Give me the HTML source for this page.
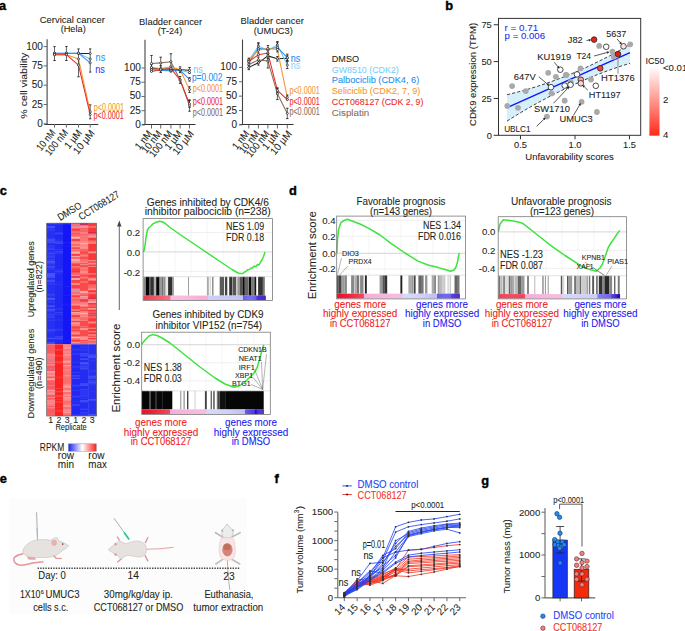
<!DOCTYPE html>
<html><head><meta charset="utf-8"><style>
html,body{margin:0;padding:0;background:#fff;overflow:hidden;}
svg{display:block;font-family:"Liberation Sans", sans-serif;}
</style></head><body>
<svg width="685" height="631" viewBox="0 0 685 631">
<text x="-1.00" y="9.60" font-size="12.8" fill="#000" font-weight="bold" stroke="#000" stroke-width="0.4">a</text>
<text x="72.25" y="22.60" font-size="9.8" fill="#231f20" stroke="#231f20" stroke-width="0.08" text-anchor="middle" textLength="65.1" lengthAdjust="spacingAndGlyphs" >Cervical cancer</text>
<text x="73.20" y="31.50" font-size="9.8" fill="#231f20" stroke="#231f20" stroke-width="0.08" text-anchor="middle" textLength="25.1" lengthAdjust="spacingAndGlyphs" >(Hela)</text>
<line x1="47.10" y1="39.30" x2="47.10" y2="124.00" stroke="#444" stroke-width="1.1" />
<line x1="44.40" y1="124.50" x2="98.30" y2="124.50" stroke="#333" stroke-width="1.0" />
<line x1="43.60" y1="123.80" x2="47.10" y2="123.80" stroke="#666" stroke-width="1.0" />
<text x="42.90" y="126.80" font-size="10" fill="#231f20" stroke="#231f20" stroke-width="0.08" text-anchor="end" >0</text>
<line x1="43.60" y1="104.50" x2="47.10" y2="104.50" stroke="#666" stroke-width="1.0" />
<text x="42.90" y="107.50" font-size="10" fill="#231f20" stroke="#231f20" stroke-width="0.08" text-anchor="end" >25</text>
<line x1="43.60" y1="85.20" x2="47.10" y2="85.20" stroke="#666" stroke-width="1.0" />
<text x="42.90" y="88.20" font-size="10" fill="#231f20" stroke="#231f20" stroke-width="0.08" text-anchor="end" >50</text>
<line x1="43.60" y1="65.90" x2="47.10" y2="65.90" stroke="#666" stroke-width="1.0" />
<text x="42.90" y="68.90" font-size="10" fill="#231f20" stroke="#231f20" stroke-width="0.08" text-anchor="end" >75</text>
<line x1="43.60" y1="46.60" x2="47.10" y2="46.60" stroke="#666" stroke-width="1.0" />
<text x="42.90" y="49.60" font-size="10" fill="#231f20" stroke="#231f20" stroke-width="0.08" text-anchor="end" >100</text>
<line x1="54.50" y1="124.00" x2="54.50" y2="127.60" stroke="#666" stroke-width="1.0" />
<text x="56.10" y="133.00" font-size="10.2" fill="#231f20" stroke="#231f20" stroke-width="0.08" text-anchor="end" transform="rotate(-51 56.10 133.00)" textLength="23.8" lengthAdjust="spacingAndGlyphs" >10 nM</text>
<line x1="66.40" y1="124.00" x2="66.40" y2="127.60" stroke="#666" stroke-width="1.0" />
<text x="68.60" y="133.00" font-size="10.2" fill="#231f20" stroke="#231f20" stroke-width="0.08" text-anchor="end" transform="rotate(-51 68.60 133.00)" textLength="30.0" lengthAdjust="spacingAndGlyphs" >100 nM</text>
<line x1="78.50" y1="124.00" x2="78.50" y2="127.60" stroke="#666" stroke-width="1.0" />
<text x="82.40" y="133.00" font-size="10.2" fill="#231f20" stroke="#231f20" stroke-width="0.08" text-anchor="end" transform="rotate(-51 82.40 133.00)" textLength="21.2" lengthAdjust="spacingAndGlyphs" >1 µM</text>
<line x1="90.20" y1="124.00" x2="90.20" y2="127.60" stroke="#666" stroke-width="1.0" />
<text x="95.30" y="133.30" font-size="10.2" fill="#231f20" stroke="#231f20" stroke-width="0.08" text-anchor="end" transform="rotate(-51 95.30 133.30)" textLength="27.8" lengthAdjust="spacingAndGlyphs" >10 µM</text>
<path d="M54.50,53.55 L66.40,53.55 L78.50,53.55 L90.20,53.55" fill="none" stroke="#231f20" stroke-width="1.05" />
<path d="M54.50,53.16 L66.40,53.16 L78.50,53.16 L90.20,58.95" fill="none" stroke="#6ec8f5" stroke-width="1.05" />
<path d="M54.50,53.16 L66.40,53.16 L78.50,53.16 L90.20,62.81" fill="none" stroke="#2a8ef0" stroke-width="1.05" />
<path d="M54.50,54.71 L66.40,54.71 L78.50,58.95 L90.20,111.83" fill="none" stroke="#f7962c" stroke-width="1.05" />
<path d="M54.50,54.71 L66.40,54.71 L78.50,65.13 L90.20,114.54" fill="none" stroke="#ee2a27" stroke-width="1.05" />
<line x1="54.50" y1="46.60" x2="54.50" y2="60.50" stroke="#222" stroke-width="0.7" />
<line x1="53.30" y1="46.60" x2="55.70" y2="46.60" stroke="#222" stroke-width="0.9" />
<line x1="53.30" y1="60.50" x2="55.70" y2="60.50" stroke="#222" stroke-width="0.9" />
<line x1="66.40" y1="46.60" x2="66.40" y2="60.50" stroke="#222" stroke-width="0.7" />
<line x1="65.20" y1="46.60" x2="67.60" y2="46.60" stroke="#222" stroke-width="0.9" />
<line x1="65.20" y1="60.50" x2="67.60" y2="60.50" stroke="#222" stroke-width="0.9" />
<line x1="78.50" y1="48.92" x2="78.50" y2="76.71" stroke="#222" stroke-width="0.7" />
<line x1="77.30" y1="48.92" x2="79.70" y2="48.92" stroke="#222" stroke-width="0.9" />
<line x1="77.30" y1="76.71" x2="79.70" y2="76.71" stroke="#222" stroke-width="0.9" />
<line x1="90.20" y1="48.92" x2="90.20" y2="72.08" stroke="#222" stroke-width="0.7" />
<line x1="89.00" y1="48.92" x2="91.40" y2="48.92" stroke="#222" stroke-width="0.9" />
<line x1="89.00" y1="72.08" x2="91.40" y2="72.08" stroke="#222" stroke-width="0.9" />
<line x1="90.20" y1="104.89" x2="90.20" y2="118.78" stroke="#222" stroke-width="0.7" />
<line x1="89.00" y1="104.89" x2="91.40" y2="104.89" stroke="#222" stroke-width="0.9" />
<line x1="89.00" y1="118.78" x2="91.40" y2="118.78" stroke="#222" stroke-width="0.9" />
<circle cx="54.50" cy="53.55" r="1.05" fill="#fff" stroke="#222" stroke-width="0.75"/>
<circle cx="66.40" cy="53.55" r="1.05" fill="#fff" stroke="#222" stroke-width="0.75"/>
<circle cx="78.50" cy="53.55" r="1.05" fill="#fff" stroke="#222" stroke-width="0.75"/>
<circle cx="90.20" cy="53.55" r="1.05" fill="#fff" stroke="#222" stroke-width="0.75"/>
<circle cx="54.50" cy="53.16" r="1.05" fill="#fff" stroke="#222" stroke-width="0.75"/>
<circle cx="66.40" cy="53.16" r="1.05" fill="#fff" stroke="#222" stroke-width="0.75"/>
<circle cx="78.50" cy="53.16" r="1.05" fill="#fff" stroke="#222" stroke-width="0.75"/>
<circle cx="90.20" cy="58.95" r="1.05" fill="#fff" stroke="#222" stroke-width="0.75"/>
<circle cx="54.50" cy="53.16" r="1.05" fill="#fff" stroke="#222" stroke-width="0.75"/>
<circle cx="66.40" cy="53.16" r="1.05" fill="#fff" stroke="#222" stroke-width="0.75"/>
<circle cx="78.50" cy="53.16" r="1.05" fill="#fff" stroke="#222" stroke-width="0.75"/>
<circle cx="90.20" cy="62.81" r="1.05" fill="#fff" stroke="#222" stroke-width="0.75"/>
<circle cx="54.50" cy="54.71" r="1.05" fill="#fff" stroke="#222" stroke-width="0.75"/>
<circle cx="66.40" cy="54.71" r="1.05" fill="#fff" stroke="#222" stroke-width="0.75"/>
<circle cx="78.50" cy="58.95" r="1.05" fill="#fff" stroke="#222" stroke-width="0.75"/>
<circle cx="90.20" cy="111.83" r="1.05" fill="#fff" stroke="#222" stroke-width="0.75"/>
<circle cx="54.50" cy="54.71" r="1.05" fill="#fff" stroke="#222" stroke-width="0.75"/>
<circle cx="66.40" cy="54.71" r="1.05" fill="#fff" stroke="#222" stroke-width="0.75"/>
<circle cx="78.50" cy="65.13" r="1.05" fill="#fff" stroke="#222" stroke-width="0.75"/>
<circle cx="90.20" cy="114.54" r="1.05" fill="#fff" stroke="#222" stroke-width="0.75"/>
<text x="95.60" y="60.60" font-size="10" fill="#1e96f5" stroke="#1e96f5" stroke-width="0.08" textLength="9.6" lengthAdjust="spacingAndGlyphs" >ns</text>
<text x="95.20" y="72.50" font-size="10" fill="#2b45ee" stroke="#2b45ee" stroke-width="0.08" textLength="9.6" lengthAdjust="spacingAndGlyphs" >ns</text>
<text x="93.80" y="110.60" font-size="10" fill="#f7962c" stroke="#f7962c" stroke-width="0.08" textLength="30.3" lengthAdjust="spacingAndGlyphs" >p&lt;0.0001</text>
<text x="93.60" y="118.90" font-size="10" fill="#ee2a27" stroke="#ee2a27" stroke-width="0.08" textLength="30.3" lengthAdjust="spacingAndGlyphs" >p&lt;0.0001</text>
<text x="26.80" y="85.70" font-size="9.8" fill="#231f20" stroke="#231f20" stroke-width="0.08" text-anchor="middle" transform="rotate(-90 26.80 85.70)" textLength="65.9" lengthAdjust="spacingAndGlyphs" >% cell viability</text>
<text x="170.65" y="25.40" font-size="9.8" fill="#231f20" stroke="#231f20" stroke-width="0.08" text-anchor="middle" textLength="63.1" lengthAdjust="spacingAndGlyphs" >Bladder cancer</text>
<text x="170.05" y="34.20" font-size="9.8" fill="#231f20" stroke="#231f20" stroke-width="0.08" text-anchor="middle" textLength="24.5" lengthAdjust="spacingAndGlyphs" >(T-24)</text>
<line x1="145.00" y1="39.80" x2="145.00" y2="124.90" stroke="#444" stroke-width="1.1" />
<line x1="142.00" y1="124.50" x2="195.50" y2="124.50" stroke="#333" stroke-width="1.0" />
<line x1="141.50" y1="124.90" x2="145.00" y2="124.90" stroke="#666" stroke-width="1.0" />
<text x="140.80" y="127.90" font-size="10" fill="#231f20" stroke="#231f20" stroke-width="0.08" text-anchor="end" >0</text>
<line x1="141.50" y1="110.68" x2="145.00" y2="110.68" stroke="#666" stroke-width="1.0" />
<text x="140.80" y="113.68" font-size="10" fill="#231f20" stroke="#231f20" stroke-width="0.08" text-anchor="end" >25</text>
<line x1="141.50" y1="96.45" x2="145.00" y2="96.45" stroke="#666" stroke-width="1.0" />
<text x="140.80" y="99.45" font-size="10" fill="#231f20" stroke="#231f20" stroke-width="0.08" text-anchor="end" >50</text>
<line x1="141.50" y1="82.23" x2="145.00" y2="82.23" stroke="#666" stroke-width="1.0" />
<text x="140.80" y="85.23" font-size="10" fill="#231f20" stroke="#231f20" stroke-width="0.08" text-anchor="end" >75</text>
<line x1="141.50" y1="68.00" x2="145.00" y2="68.00" stroke="#666" stroke-width="1.0" />
<text x="140.80" y="71.00" font-size="10" fill="#231f20" stroke="#231f20" stroke-width="0.08" text-anchor="end" >100</text>
<line x1="151.50" y1="124.90" x2="151.50" y2="128.50" stroke="#666" stroke-width="1.0" />
<text x="152.70" y="133.90" font-size="10.2" fill="#231f20" stroke="#231f20" stroke-width="0.08" text-anchor="end" transform="rotate(-51 152.70 133.90)" textLength="21.0" lengthAdjust="spacingAndGlyphs" >1 nM</text>
<line x1="160.70" y1="124.90" x2="160.70" y2="128.50" stroke="#666" stroke-width="1.0" />
<text x="162.50" y="133.90" font-size="10.2" fill="#231f20" stroke="#231f20" stroke-width="0.08" text-anchor="end" transform="rotate(-51 162.50 133.90)" textLength="26.0" lengthAdjust="spacingAndGlyphs" >10 nM</text>
<line x1="170.90" y1="124.90" x2="170.90" y2="128.50" stroke="#666" stroke-width="1.0" />
<text x="173.20" y="133.90" font-size="10.2" fill="#231f20" stroke="#231f20" stroke-width="0.08" text-anchor="end" transform="rotate(-51 173.20 133.90)" textLength="31.0" lengthAdjust="spacingAndGlyphs" >100 nM</text>
<line x1="180.10" y1="124.90" x2="180.10" y2="128.50" stroke="#666" stroke-width="1.0" />
<text x="182.90" y="133.90" font-size="10.2" fill="#231f20" stroke="#231f20" stroke-width="0.08" text-anchor="end" transform="rotate(-51 182.90 133.90)" textLength="21.5" lengthAdjust="spacingAndGlyphs" >1 µM</text>
<line x1="189.50" y1="124.90" x2="189.50" y2="128.50" stroke="#666" stroke-width="1.0" />
<text x="194.50" y="134.20" font-size="10.2" fill="#231f20" stroke="#231f20" stroke-width="0.08" text-anchor="end" transform="rotate(-51 194.50 134.20)" textLength="27.5" lengthAdjust="spacingAndGlyphs" >10 µM</text>
<path d="M151.50,68.00 L160.70,69.14 L170.90,69.14 L180.10,69.71 L189.50,70.28" fill="none" stroke="#231f20" stroke-width="1.05" />
<path d="M151.50,63.45 L160.70,62.88 L170.90,61.74 L180.10,79.95 L189.50,105.55" fill="none" stroke="#8d6c55" stroke-width="1.05" />
<path d="M151.50,69.14 L160.70,69.71 L170.90,70.28 L180.10,70.28 L189.50,72.55" fill="none" stroke="#6ec8f5" stroke-width="1.05" />
<path d="M151.50,69.71 L160.70,70.28 L170.90,70.85 L180.10,70.28 L189.50,79.38" fill="none" stroke="#2a8ef0" stroke-width="1.05" />
<path d="M151.50,67.43 L160.70,68.57 L170.90,66.86 L180.10,69.71 L189.50,89.62" fill="none" stroke="#f7962c" stroke-width="1.05" />
<path d="M151.50,71.41 L160.70,69.71 L170.90,68.57 L180.10,79.95 L189.50,103.85" fill="none" stroke="#ee2a27" stroke-width="1.05" />
<line x1="151.50" y1="64.59" x2="151.50" y2="71.41" stroke="#222" stroke-width="0.7" />
<line x1="150.30" y1="64.59" x2="152.70" y2="64.59" stroke="#222" stroke-width="0.9" />
<line x1="150.30" y1="71.41" x2="152.70" y2="71.41" stroke="#222" stroke-width="0.9" />
<line x1="160.70" y1="65.72" x2="160.70" y2="72.55" stroke="#222" stroke-width="0.7" />
<line x1="159.50" y1="65.72" x2="161.90" y2="65.72" stroke="#222" stroke-width="0.9" />
<line x1="159.50" y1="72.55" x2="161.90" y2="72.55" stroke="#222" stroke-width="0.9" />
<line x1="170.90" y1="66.29" x2="170.90" y2="71.98" stroke="#222" stroke-width="0.7" />
<line x1="169.70" y1="66.29" x2="172.10" y2="66.29" stroke="#222" stroke-width="0.9" />
<line x1="169.70" y1="71.98" x2="172.10" y2="71.98" stroke="#222" stroke-width="0.9" />
<line x1="180.10" y1="66.86" x2="180.10" y2="72.55" stroke="#222" stroke-width="0.7" />
<line x1="178.90" y1="66.86" x2="181.30" y2="66.86" stroke="#222" stroke-width="0.9" />
<line x1="178.90" y1="72.55" x2="181.30" y2="72.55" stroke="#222" stroke-width="0.9" />
<line x1="189.50" y1="67.43" x2="189.50" y2="73.12" stroke="#222" stroke-width="0.7" />
<line x1="188.30" y1="67.43" x2="190.70" y2="67.43" stroke="#222" stroke-width="0.9" />
<line x1="188.30" y1="73.12" x2="190.70" y2="73.12" stroke="#222" stroke-width="0.9" />
<line x1="151.50" y1="55.48" x2="151.50" y2="71.41" stroke="#222" stroke-width="0.7" />
<line x1="150.30" y1="55.48" x2="152.70" y2="55.48" stroke="#222" stroke-width="0.9" />
<line x1="150.30" y1="71.41" x2="152.70" y2="71.41" stroke="#222" stroke-width="0.9" />
<line x1="160.70" y1="57.19" x2="160.70" y2="68.57" stroke="#222" stroke-width="0.7" />
<line x1="159.50" y1="57.19" x2="161.90" y2="57.19" stroke="#222" stroke-width="0.9" />
<line x1="159.50" y1="68.57" x2="161.90" y2="68.57" stroke="#222" stroke-width="0.9" />
<line x1="170.90" y1="53.78" x2="170.90" y2="69.71" stroke="#222" stroke-width="0.7" />
<line x1="169.70" y1="53.78" x2="172.10" y2="53.78" stroke="#222" stroke-width="0.9" />
<line x1="169.70" y1="69.71" x2="172.10" y2="69.71" stroke="#222" stroke-width="0.9" />
<line x1="180.10" y1="76.54" x2="180.10" y2="83.36" stroke="#222" stroke-width="0.7" />
<line x1="178.90" y1="76.54" x2="181.30" y2="76.54" stroke="#222" stroke-width="0.9" />
<line x1="178.90" y1="83.36" x2="181.30" y2="83.36" stroke="#222" stroke-width="0.9" />
<line x1="189.50" y1="99.86" x2="189.50" y2="111.24" stroke="#222" stroke-width="0.7" />
<line x1="188.30" y1="99.86" x2="190.70" y2="99.86" stroke="#222" stroke-width="0.9" />
<line x1="188.30" y1="111.24" x2="190.70" y2="111.24" stroke="#222" stroke-width="0.9" />
<line x1="189.50" y1="77.67" x2="189.50" y2="81.09" stroke="#222" stroke-width="0.7" />
<line x1="188.30" y1="77.67" x2="190.70" y2="77.67" stroke="#222" stroke-width="0.9" />
<line x1="188.30" y1="81.09" x2="190.70" y2="81.09" stroke="#222" stroke-width="0.9" />
<line x1="189.50" y1="86.78" x2="189.50" y2="92.47" stroke="#222" stroke-width="0.7" />
<line x1="188.30" y1="86.78" x2="190.70" y2="86.78" stroke="#222" stroke-width="0.9" />
<line x1="188.30" y1="92.47" x2="190.70" y2="92.47" stroke="#222" stroke-width="0.9" />
<line x1="189.50" y1="100.43" x2="189.50" y2="107.26" stroke="#222" stroke-width="0.7" />
<line x1="188.30" y1="100.43" x2="190.70" y2="100.43" stroke="#222" stroke-width="0.9" />
<line x1="188.30" y1="107.26" x2="190.70" y2="107.26" stroke="#222" stroke-width="0.9" />
<circle cx="151.50" cy="68.00" r="1.05" fill="#fff" stroke="#222" stroke-width="0.75"/>
<circle cx="160.70" cy="69.14" r="1.05" fill="#fff" stroke="#222" stroke-width="0.75"/>
<circle cx="170.90" cy="69.14" r="1.05" fill="#fff" stroke="#222" stroke-width="0.75"/>
<circle cx="180.10" cy="69.71" r="1.05" fill="#fff" stroke="#222" stroke-width="0.75"/>
<circle cx="189.50" cy="70.28" r="1.05" fill="#fff" stroke="#222" stroke-width="0.75"/>
<circle cx="151.50" cy="63.45" r="1.05" fill="#fff" stroke="#222" stroke-width="0.75"/>
<circle cx="160.70" cy="62.88" r="1.05" fill="#fff" stroke="#222" stroke-width="0.75"/>
<circle cx="170.90" cy="61.74" r="1.05" fill="#fff" stroke="#222" stroke-width="0.75"/>
<circle cx="180.10" cy="79.95" r="1.05" fill="#fff" stroke="#222" stroke-width="0.75"/>
<circle cx="189.50" cy="105.55" r="1.05" fill="#fff" stroke="#222" stroke-width="0.75"/>
<circle cx="151.50" cy="69.14" r="1.05" fill="#fff" stroke="#222" stroke-width="0.75"/>
<circle cx="160.70" cy="69.71" r="1.05" fill="#fff" stroke="#222" stroke-width="0.75"/>
<circle cx="170.90" cy="70.28" r="1.05" fill="#fff" stroke="#222" stroke-width="0.75"/>
<circle cx="180.10" cy="70.28" r="1.05" fill="#fff" stroke="#222" stroke-width="0.75"/>
<circle cx="189.50" cy="72.55" r="1.05" fill="#fff" stroke="#222" stroke-width="0.75"/>
<circle cx="151.50" cy="69.71" r="1.05" fill="#fff" stroke="#222" stroke-width="0.75"/>
<circle cx="160.70" cy="70.28" r="1.05" fill="#fff" stroke="#222" stroke-width="0.75"/>
<circle cx="170.90" cy="70.85" r="1.05" fill="#fff" stroke="#222" stroke-width="0.75"/>
<circle cx="180.10" cy="70.28" r="1.05" fill="#fff" stroke="#222" stroke-width="0.75"/>
<circle cx="189.50" cy="79.38" r="1.05" fill="#fff" stroke="#222" stroke-width="0.75"/>
<circle cx="151.50" cy="67.43" r="1.05" fill="#fff" stroke="#222" stroke-width="0.75"/>
<circle cx="160.70" cy="68.57" r="1.05" fill="#fff" stroke="#222" stroke-width="0.75"/>
<circle cx="170.90" cy="66.86" r="1.05" fill="#fff" stroke="#222" stroke-width="0.75"/>
<circle cx="180.10" cy="69.71" r="1.05" fill="#fff" stroke="#222" stroke-width="0.75"/>
<circle cx="189.50" cy="89.62" r="1.05" fill="#fff" stroke="#222" stroke-width="0.75"/>
<circle cx="151.50" cy="71.41" r="1.05" fill="#fff" stroke="#222" stroke-width="0.75"/>
<circle cx="160.70" cy="69.71" r="1.05" fill="#fff" stroke="#222" stroke-width="0.75"/>
<circle cx="170.90" cy="68.57" r="1.05" fill="#fff" stroke="#222" stroke-width="0.75"/>
<circle cx="180.10" cy="79.95" r="1.05" fill="#fff" stroke="#222" stroke-width="0.75"/>
<circle cx="189.50" cy="103.85" r="1.05" fill="#fff" stroke="#222" stroke-width="0.75"/>
<text x="193.20" y="73.30" font-size="10" fill="#7ccff7" stroke="#7ccff7" stroke-width="0.08" textLength="9.6" lengthAdjust="spacingAndGlyphs" >ns</text>
<text x="191.90" y="81.40" font-size="10" fill="#2a8ef0" stroke="#2a8ef0" stroke-width="0.08" textLength="30.5" lengthAdjust="spacingAndGlyphs" >p=0.002</text>
<text x="192.80" y="92.30" font-size="10" fill="#f7962c" stroke="#f7962c" stroke-width="0.08" textLength="30.3" lengthAdjust="spacingAndGlyphs" >p&lt;0.0001</text>
<text x="192.80" y="105.00" font-size="10" fill="#ee2a27" stroke="#ee2a27" stroke-width="0.08" textLength="30.3" lengthAdjust="spacingAndGlyphs" >p&lt;0.0001</text>
<text x="192.80" y="115.80" font-size="10" fill="#8d6c55" stroke="#8d6c55" stroke-width="0.08" textLength="30.3" lengthAdjust="spacingAndGlyphs" >p&lt;0.0001</text>
<text x="272.25" y="24.30" font-size="9.8" fill="#231f20" stroke="#231f20" stroke-width="0.08" text-anchor="middle" textLength="63.3" lengthAdjust="spacingAndGlyphs" >Bladder cancer</text>
<text x="273.25" y="33.60" font-size="9.8" fill="#231f20" stroke="#231f20" stroke-width="0.08" text-anchor="middle" textLength="39.1" lengthAdjust="spacingAndGlyphs" >(UMUC3)</text>
<line x1="242.50" y1="39.50" x2="242.50" y2="124.90" stroke="#444" stroke-width="1.1" />
<line x1="239.50" y1="124.50" x2="293.50" y2="124.50" stroke="#333" stroke-width="1.0" />
<line x1="239.00" y1="124.90" x2="242.50" y2="124.90" stroke="#666" stroke-width="1.0" />
<text x="237.00" y="127.90" font-size="10" fill="#231f20" stroke="#231f20" stroke-width="0.08" text-anchor="end" >0</text>
<line x1="239.00" y1="110.53" x2="242.50" y2="110.53" stroke="#666" stroke-width="1.0" />
<text x="237.00" y="113.53" font-size="10" fill="#231f20" stroke="#231f20" stroke-width="0.08" text-anchor="end" >25</text>
<line x1="239.00" y1="96.15" x2="242.50" y2="96.15" stroke="#666" stroke-width="1.0" />
<text x="237.00" y="99.15" font-size="10" fill="#231f20" stroke="#231f20" stroke-width="0.08" text-anchor="end" >50</text>
<line x1="239.00" y1="81.78" x2="242.50" y2="81.78" stroke="#666" stroke-width="1.0" />
<text x="237.00" y="84.78" font-size="10" fill="#231f20" stroke="#231f20" stroke-width="0.08" text-anchor="end" >75</text>
<line x1="239.00" y1="67.40" x2="242.50" y2="67.40" stroke="#666" stroke-width="1.0" />
<text x="237.00" y="70.40" font-size="10" fill="#231f20" stroke="#231f20" stroke-width="0.08" text-anchor="end" >100</text>
<line x1="248.80" y1="124.90" x2="248.80" y2="128.50" stroke="#666" stroke-width="1.0" />
<text x="250.00" y="133.90" font-size="10.2" fill="#231f20" stroke="#231f20" stroke-width="0.08" text-anchor="end" transform="rotate(-51 250.00 133.90)" textLength="21.0" lengthAdjust="spacingAndGlyphs" >1 nM</text>
<line x1="258.40" y1="124.90" x2="258.40" y2="128.50" stroke="#666" stroke-width="1.0" />
<text x="260.20" y="133.90" font-size="10.2" fill="#231f20" stroke="#231f20" stroke-width="0.08" text-anchor="end" transform="rotate(-51 260.20 133.90)" textLength="26.0" lengthAdjust="spacingAndGlyphs" >10 nM</text>
<line x1="267.90" y1="124.90" x2="267.90" y2="128.50" stroke="#666" stroke-width="1.0" />
<text x="270.20" y="133.90" font-size="10.2" fill="#231f20" stroke="#231f20" stroke-width="0.08" text-anchor="end" transform="rotate(-51 270.20 133.90)" textLength="31.0" lengthAdjust="spacingAndGlyphs" >100 nM</text>
<line x1="277.40" y1="124.90" x2="277.40" y2="128.50" stroke="#666" stroke-width="1.0" />
<text x="280.20" y="133.90" font-size="10.2" fill="#231f20" stroke="#231f20" stroke-width="0.08" text-anchor="end" transform="rotate(-51 280.20 133.90)" textLength="21.5" lengthAdjust="spacingAndGlyphs" >1 µM</text>
<line x1="287.30" y1="124.90" x2="287.30" y2="128.50" stroke="#666" stroke-width="1.0" />
<text x="292.30" y="134.20" font-size="10.2" fill="#231f20" stroke="#231f20" stroke-width="0.08" text-anchor="end" transform="rotate(-51 292.30 134.20)" textLength="27.5" lengthAdjust="spacingAndGlyphs" >10 µM</text>
<path d="M248.80,67.40 L258.40,62.80 L267.90,55.90 L277.40,58.78 L287.30,58.20" fill="none" stroke="#231f20" stroke-width="1.05" />
<path d="M248.80,64.53 L258.40,59.93 L267.90,61.08 L277.40,93.85 L287.30,113.40" fill="none" stroke="#8d6c55" stroke-width="1.05" />
<path d="M248.80,60.50 L258.40,46.13 L267.90,50.15 L277.40,44.98 L287.30,65.10" fill="none" stroke="#6ec8f5" stroke-width="1.05" />
<path d="M248.80,62.80 L258.40,48.43 L267.90,49.58 L277.40,47.28 L287.30,57.63" fill="none" stroke="#2a8ef0" stroke-width="1.05" />
<path d="M248.80,59.93 L258.40,50.15 L267.90,48.43 L277.40,49.58 L287.30,97.30" fill="none" stroke="#f7962c" stroke-width="1.05" />
<path d="M248.80,61.65 L258.40,54.75 L267.90,53.03 L277.40,90.40 L287.30,99.60" fill="none" stroke="#ee2a27" stroke-width="1.05" />
<line x1="248.80" y1="65.10" x2="248.80" y2="69.70" stroke="#222" stroke-width="0.7" />
<line x1="247.60" y1="65.10" x2="250.00" y2="65.10" stroke="#222" stroke-width="0.9" />
<line x1="247.60" y1="69.70" x2="250.00" y2="69.70" stroke="#222" stroke-width="0.9" />
<line x1="258.40" y1="60.50" x2="258.40" y2="65.10" stroke="#222" stroke-width="0.7" />
<line x1="257.20" y1="60.50" x2="259.60" y2="60.50" stroke="#222" stroke-width="0.9" />
<line x1="257.20" y1="65.10" x2="259.60" y2="65.10" stroke="#222" stroke-width="0.9" />
<line x1="267.90" y1="53.03" x2="267.90" y2="58.78" stroke="#222" stroke-width="0.7" />
<line x1="266.70" y1="53.03" x2="269.10" y2="53.03" stroke="#222" stroke-width="0.9" />
<line x1="266.70" y1="58.78" x2="269.10" y2="58.78" stroke="#222" stroke-width="0.9" />
<line x1="277.40" y1="56.48" x2="277.40" y2="61.08" stroke="#222" stroke-width="0.7" />
<line x1="276.20" y1="56.48" x2="278.60" y2="56.48" stroke="#222" stroke-width="0.9" />
<line x1="276.20" y1="61.08" x2="278.60" y2="61.08" stroke="#222" stroke-width="0.9" />
<line x1="287.30" y1="55.90" x2="287.30" y2="60.50" stroke="#222" stroke-width="0.7" />
<line x1="286.10" y1="55.90" x2="288.50" y2="55.90" stroke="#222" stroke-width="0.9" />
<line x1="286.10" y1="60.50" x2="288.50" y2="60.50" stroke="#222" stroke-width="0.9" />
<line x1="248.80" y1="61.08" x2="248.80" y2="67.98" stroke="#222" stroke-width="0.7" />
<line x1="247.60" y1="61.08" x2="250.00" y2="61.08" stroke="#222" stroke-width="0.9" />
<line x1="247.60" y1="67.98" x2="250.00" y2="67.98" stroke="#222" stroke-width="0.9" />
<line x1="258.40" y1="57.05" x2="258.40" y2="62.80" stroke="#222" stroke-width="0.7" />
<line x1="257.20" y1="57.05" x2="259.60" y2="57.05" stroke="#222" stroke-width="0.9" />
<line x1="257.20" y1="62.80" x2="259.60" y2="62.80" stroke="#222" stroke-width="0.9" />
<line x1="267.90" y1="54.18" x2="267.90" y2="67.98" stroke="#222" stroke-width="0.7" />
<line x1="266.70" y1="54.18" x2="269.10" y2="54.18" stroke="#222" stroke-width="0.9" />
<line x1="266.70" y1="67.98" x2="269.10" y2="67.98" stroke="#222" stroke-width="0.9" />
<line x1="277.40" y1="88.10" x2="277.40" y2="99.60" stroke="#222" stroke-width="0.7" />
<line x1="276.20" y1="88.10" x2="278.60" y2="88.10" stroke="#222" stroke-width="0.9" />
<line x1="276.20" y1="99.60" x2="278.60" y2="99.60" stroke="#222" stroke-width="0.9" />
<line x1="287.30" y1="108.23" x2="287.30" y2="118.58" stroke="#222" stroke-width="0.7" />
<line x1="286.10" y1="108.23" x2="288.50" y2="108.23" stroke="#222" stroke-width="0.9" />
<line x1="286.10" y1="118.58" x2="288.50" y2="118.58" stroke="#222" stroke-width="0.9" />
<line x1="258.40" y1="42.68" x2="258.40" y2="49.58" stroke="#222" stroke-width="0.7" />
<line x1="257.20" y1="42.68" x2="259.60" y2="42.68" stroke="#222" stroke-width="0.9" />
<line x1="257.20" y1="49.58" x2="259.60" y2="49.58" stroke="#222" stroke-width="0.9" />
<line x1="277.40" y1="41.53" x2="277.40" y2="48.43" stroke="#222" stroke-width="0.7" />
<line x1="276.20" y1="41.53" x2="278.60" y2="41.53" stroke="#222" stroke-width="0.9" />
<line x1="276.20" y1="48.43" x2="278.60" y2="48.43" stroke="#222" stroke-width="0.9" />
<line x1="287.30" y1="61.65" x2="287.30" y2="68.55" stroke="#222" stroke-width="0.7" />
<line x1="286.10" y1="61.65" x2="288.50" y2="61.65" stroke="#222" stroke-width="0.9" />
<line x1="286.10" y1="68.55" x2="288.50" y2="68.55" stroke="#222" stroke-width="0.9" />
<line x1="248.80" y1="58.20" x2="248.80" y2="67.40" stroke="#222" stroke-width="0.7" />
<line x1="247.60" y1="58.20" x2="250.00" y2="58.20" stroke="#222" stroke-width="0.9" />
<line x1="247.60" y1="67.40" x2="250.00" y2="67.40" stroke="#222" stroke-width="0.9" />
<line x1="258.40" y1="43.83" x2="258.40" y2="53.03" stroke="#222" stroke-width="0.7" />
<line x1="257.20" y1="43.83" x2="259.60" y2="43.83" stroke="#222" stroke-width="0.9" />
<line x1="257.20" y1="53.03" x2="259.60" y2="53.03" stroke="#222" stroke-width="0.9" />
<line x1="267.90" y1="45.55" x2="267.90" y2="53.60" stroke="#222" stroke-width="0.7" />
<line x1="266.70" y1="45.55" x2="269.10" y2="45.55" stroke="#222" stroke-width="0.9" />
<line x1="266.70" y1="53.60" x2="269.10" y2="53.60" stroke="#222" stroke-width="0.9" />
<line x1="277.40" y1="42.68" x2="277.40" y2="51.88" stroke="#222" stroke-width="0.7" />
<line x1="276.20" y1="42.68" x2="278.60" y2="42.68" stroke="#222" stroke-width="0.9" />
<line x1="276.20" y1="51.88" x2="278.60" y2="51.88" stroke="#222" stroke-width="0.9" />
<line x1="287.30" y1="54.18" x2="287.30" y2="61.08" stroke="#222" stroke-width="0.7" />
<line x1="286.10" y1="54.18" x2="288.50" y2="54.18" stroke="#222" stroke-width="0.9" />
<line x1="286.10" y1="61.08" x2="288.50" y2="61.08" stroke="#222" stroke-width="0.9" />
<line x1="287.30" y1="95.00" x2="287.30" y2="99.60" stroke="#222" stroke-width="0.7" />
<line x1="286.10" y1="95.00" x2="288.50" y2="95.00" stroke="#222" stroke-width="0.9" />
<line x1="286.10" y1="99.60" x2="288.50" y2="99.60" stroke="#222" stroke-width="0.9" />
<line x1="277.40" y1="88.10" x2="277.40" y2="92.70" stroke="#222" stroke-width="0.7" />
<line x1="276.20" y1="88.10" x2="278.60" y2="88.10" stroke="#222" stroke-width="0.9" />
<line x1="276.20" y1="92.70" x2="278.60" y2="92.70" stroke="#222" stroke-width="0.9" />
<circle cx="248.80" cy="67.40" r="1.05" fill="#fff" stroke="#222" stroke-width="0.75"/>
<circle cx="258.40" cy="62.80" r="1.05" fill="#fff" stroke="#222" stroke-width="0.75"/>
<circle cx="267.90" cy="55.90" r="1.05" fill="#fff" stroke="#222" stroke-width="0.75"/>
<circle cx="277.40" cy="58.78" r="1.05" fill="#fff" stroke="#222" stroke-width="0.75"/>
<circle cx="287.30" cy="58.20" r="1.05" fill="#fff" stroke="#222" stroke-width="0.75"/>
<circle cx="248.80" cy="64.53" r="1.05" fill="#fff" stroke="#222" stroke-width="0.75"/>
<circle cx="258.40" cy="59.93" r="1.05" fill="#fff" stroke="#222" stroke-width="0.75"/>
<circle cx="267.90" cy="61.08" r="1.05" fill="#fff" stroke="#222" stroke-width="0.75"/>
<circle cx="277.40" cy="93.85" r="1.05" fill="#fff" stroke="#222" stroke-width="0.75"/>
<circle cx="287.30" cy="113.40" r="1.05" fill="#fff" stroke="#222" stroke-width="0.75"/>
<circle cx="248.80" cy="60.50" r="1.05" fill="#fff" stroke="#222" stroke-width="0.75"/>
<circle cx="258.40" cy="46.13" r="1.05" fill="#fff" stroke="#222" stroke-width="0.75"/>
<circle cx="267.90" cy="50.15" r="1.05" fill="#fff" stroke="#222" stroke-width="0.75"/>
<circle cx="277.40" cy="44.98" r="1.05" fill="#fff" stroke="#222" stroke-width="0.75"/>
<circle cx="287.30" cy="65.10" r="1.05" fill="#fff" stroke="#222" stroke-width="0.75"/>
<circle cx="248.80" cy="62.80" r="1.05" fill="#fff" stroke="#222" stroke-width="0.75"/>
<circle cx="258.40" cy="48.43" r="1.05" fill="#fff" stroke="#222" stroke-width="0.75"/>
<circle cx="267.90" cy="49.58" r="1.05" fill="#fff" stroke="#222" stroke-width="0.75"/>
<circle cx="277.40" cy="47.28" r="1.05" fill="#fff" stroke="#222" stroke-width="0.75"/>
<circle cx="287.30" cy="57.63" r="1.05" fill="#fff" stroke="#222" stroke-width="0.75"/>
<circle cx="248.80" cy="59.93" r="1.05" fill="#fff" stroke="#222" stroke-width="0.75"/>
<circle cx="258.40" cy="50.15" r="1.05" fill="#fff" stroke="#222" stroke-width="0.75"/>
<circle cx="267.90" cy="48.43" r="1.05" fill="#fff" stroke="#222" stroke-width="0.75"/>
<circle cx="277.40" cy="49.58" r="1.05" fill="#fff" stroke="#222" stroke-width="0.75"/>
<circle cx="287.30" cy="97.30" r="1.05" fill="#fff" stroke="#222" stroke-width="0.75"/>
<circle cx="248.80" cy="61.65" r="1.05" fill="#fff" stroke="#222" stroke-width="0.75"/>
<circle cx="258.40" cy="54.75" r="1.05" fill="#fff" stroke="#222" stroke-width="0.75"/>
<circle cx="267.90" cy="53.03" r="1.05" fill="#fff" stroke="#222" stroke-width="0.75"/>
<circle cx="277.40" cy="90.40" r="1.05" fill="#fff" stroke="#222" stroke-width="0.75"/>
<circle cx="287.30" cy="99.60" r="1.05" fill="#fff" stroke="#222" stroke-width="0.75"/>
<text x="290.80" y="62.20" font-size="10" fill="#1e8ef0" stroke="#1e8ef0" stroke-width="0.08" textLength="9.6" lengthAdjust="spacingAndGlyphs" >ns</text>
<text x="290.80" y="69.30" font-size="10" fill="#8ed8fa" stroke="#8ed8fa" stroke-width="0.08" textLength="9.6" lengthAdjust="spacingAndGlyphs" >ns</text>
<text x="289.40" y="94.20" font-size="10" fill="#f7962c" stroke="#f7962c" stroke-width="0.08" textLength="30.3" lengthAdjust="spacingAndGlyphs" >p&lt;0.0001</text>
<text x="289.40" y="104.60" font-size="10" fill="#ee2a27" stroke="#ee2a27" stroke-width="0.08" textLength="30.3" lengthAdjust="spacingAndGlyphs" >p&lt;0.0001</text>
<text x="289.40" y="115.00" font-size="10" fill="#8d6c55" stroke="#8d6c55" stroke-width="0.08" textLength="30.3" lengthAdjust="spacingAndGlyphs" >p&lt;0.0001</text>
<text x="331.80" y="61.70" font-size="9.6" fill="#231f20" stroke="#231f20" stroke-width="0.08" textLength="27.2" lengthAdjust="spacingAndGlyphs" >DMSO</text>
<text x="331.80" y="72.52" font-size="9.6" fill="#7ccff7" stroke="#7ccff7" stroke-width="0.08" textLength="67" lengthAdjust="spacingAndGlyphs" >GW8510 (CDK2)</text>
<text x="331.80" y="83.34" font-size="9.6" fill="#1e8ff0" stroke="#1e8ff0" stroke-width="0.08" textLength="87.5" lengthAdjust="spacingAndGlyphs" >Palbociclib (CDK4, 6)</text>
<text x="331.80" y="94.16" font-size="9.6" fill="#f7962c" stroke="#f7962c" stroke-width="0.08" textLength="88.5" lengthAdjust="spacingAndGlyphs" >Seliciclib (CDK2, 7, 9)</text>
<text x="331.80" y="104.98" font-size="9.6" fill="#ee2a27" stroke="#ee2a27" stroke-width="0.08" textLength="91.6" lengthAdjust="spacingAndGlyphs" >CCT068127 (CDK 2, 9)</text>
<text x="331.80" y="115.80" font-size="9.6" fill="#8d6c55" stroke="#8d6c55" stroke-width="0.08" textLength="37.5" lengthAdjust="spacingAndGlyphs" >Cisplatin</text>
<text x="445.30" y="9.60" font-size="12.8" fill="#000" font-weight="bold" stroke="#000" stroke-width="0.4">b</text>
<path d="M507.0,94.7 L517.2,92.2 L527.5,89.4 L537.8,86.2 L548.0,82.8 L558.2,79.1 L568.5,75.0 L578.8,70.7 L589.0,66.1 L599.2,61.1 L609.5,55.9 L619.8,50.3 L630.0,44.5 L630.0,63.3 L619.8,66.5 L609.5,70.1 L599.2,73.9 L589.0,78.0 L578.8,82.4 L568.5,87.1 L558.2,92.1 L548.0,97.3 L537.8,102.8 L527.5,108.6 L517.2,114.7 L507.0,121.1 Z" fill="#d5effb"/>
<path d="M507.0,94.7 L517.2,92.2 L527.5,89.4 L537.8,86.2 L548.0,82.8 L558.2,79.1 L568.5,75.0 L578.8,70.7 L589.0,66.1 L599.2,61.1 L609.5,55.9 L619.8,50.3 L630.0,44.5" fill="none" stroke="#222" stroke-width="0.85" stroke-dasharray="3.2,2"/>
<path d="M507.0,121.1 L517.2,114.7 L527.5,108.6 L537.8,102.8 L548.0,97.3 L558.2,92.1 L568.5,87.1 L578.8,82.4 L589.0,78.0 L599.2,73.9 L609.5,70.1 L619.8,66.5 L630.0,63.3" fill="none" stroke="#222" stroke-width="0.85" stroke-dasharray="3.2,2"/>
<line x1="507.00" y1="107.60" x2="630.00" y2="52.60" stroke="#1414fa" stroke-width="1.4" />
<rect x="498.5" y="18.4" width="142.2" height="116.9" fill="none" stroke="#333" stroke-width="1"/>
<line x1="493.70" y1="135.30" x2="498.50" y2="135.30" stroke="#333" stroke-width="1" />
<text x="491.80" y="138.60" font-size="9.3" fill="#222" stroke="#222" stroke-width="0.08" text-anchor="end" >0</text>
<line x1="493.70" y1="98.45" x2="498.50" y2="98.45" stroke="#333" stroke-width="1" />
<text x="491.80" y="101.75" font-size="9.3" fill="#222" stroke="#222" stroke-width="0.08" text-anchor="end" >25</text>
<line x1="493.70" y1="61.60" x2="498.50" y2="61.60" stroke="#333" stroke-width="1" />
<text x="491.80" y="64.90" font-size="9.3" fill="#222" stroke="#222" stroke-width="0.08" text-anchor="end" >50</text>
<line x1="493.70" y1="24.75" x2="498.50" y2="24.75" stroke="#333" stroke-width="1" />
<text x="491.80" y="28.05" font-size="9.3" fill="#222" stroke="#222" stroke-width="0.08" text-anchor="end" >75</text>
<line x1="520.50" y1="135.30" x2="520.50" y2="139.30" stroke="#333" stroke-width="1" />
<text x="520.50" y="148.30" font-size="9.3" fill="#222" stroke="#222" stroke-width="0.08" text-anchor="middle" >0.5</text>
<line x1="575.00" y1="135.30" x2="575.00" y2="139.30" stroke="#333" stroke-width="1" />
<text x="575.00" y="148.30" font-size="9.3" fill="#222" stroke="#222" stroke-width="0.08" text-anchor="middle" >1.0</text>
<line x1="629.50" y1="135.30" x2="629.50" y2="139.30" stroke="#333" stroke-width="1" />
<text x="629.50" y="148.30" font-size="9.3" fill="#222" stroke="#222" stroke-width="0.08" text-anchor="middle" >1.5</text>
<text x="569.50" y="160.20" font-size="9.5" fill="#222" stroke="#222" stroke-width="0.08" text-anchor="middle" textLength="88.5" lengthAdjust="spacingAndGlyphs" >Unfavorability scores</text>
<text x="475.80" y="74.40" font-size="9.4" fill="#222" stroke="#222" stroke-width="0.08" text-anchor="middle" transform="rotate(-90 475.80 74.40)" textLength="103" lengthAdjust="spacingAndGlyphs" >CDK9 expression (TPM)</text>
<text x="504.60" y="30.60" font-size="9.6" fill="#1d2cf0" stroke="#1d2cf0" stroke-width="0.08" textLength="33.5" lengthAdjust="spacingAndGlyphs" >r = 0.71</text>
<text x="504.60" y="38.60" font-size="9.6" fill="#1d2cf0" stroke="#1d2cf0" stroke-width="0.08" textLength="40.5" lengthAdjust="spacingAndGlyphs" >p = 0.006</text>
<circle cx="507.30" cy="106.00" r="2.9" fill="#a9a9a9" stroke="none" stroke-width="0.6"/>
<circle cx="512.10" cy="86.10" r="2.9" fill="#a9a9a9" stroke="none" stroke-width="0.6"/>
<circle cx="518.00" cy="107.80" r="2.9" fill="#a9a9a9" stroke="none" stroke-width="0.6"/>
<circle cx="525.80" cy="91.10" r="2.9" fill="#a9a9a9" stroke="none" stroke-width="0.6"/>
<circle cx="548.20" cy="72.80" r="2.9" fill="#a9a9a9" stroke="none" stroke-width="0.6"/>
<circle cx="555.90" cy="76.80" r="2.9" fill="#a9a9a9" stroke="none" stroke-width="0.6"/>
<circle cx="565.80" cy="75.20" r="2.9" fill="#a9a9a9" stroke="none" stroke-width="0.6"/>
<circle cx="551.50" cy="93.40" r="2.9" fill="#a9a9a9" stroke="none" stroke-width="0.6"/>
<circle cx="564.70" cy="100.70" r="2.9" fill="#a9a9a9" stroke="none" stroke-width="0.6"/>
<circle cx="546.90" cy="116.60" r="2.9" fill="#a9a9a9" stroke="none" stroke-width="0.6"/>
<circle cx="570.70" cy="81.80" r="2.9" fill="#a9a9a9" stroke="none" stroke-width="0.6"/>
<circle cx="599.20" cy="45.90" r="2.9" fill="#a9a9a9" stroke="none" stroke-width="0.6"/>
<circle cx="630.20" cy="44.30" r="2.9" fill="#a9a9a9" stroke="none" stroke-width="0.6"/>
<circle cx="612.50" cy="51.60" r="2.9" fill="#a9a9a9" stroke="none" stroke-width="0.6"/>
<circle cx="613.80" cy="56.70" r="2.9" fill="#a9a9a9" stroke="none" stroke-width="0.6"/>
<circle cx="580.50" cy="68.30" r="2.9" fill="#a9a9a9" stroke="none" stroke-width="0.6"/>
<circle cx="566.30" cy="75.00" r="2.9" fill="#a9a9a9" stroke="none" stroke-width="0.6"/>
<circle cx="591.00" cy="79.50" r="2.9" fill="#a9a9a9" stroke="none" stroke-width="0.6"/>
<circle cx="581.60" cy="101.80" r="2.9" fill="#a9a9a9" stroke="none" stroke-width="0.6"/>
<circle cx="596.90" cy="112.00" r="2.9" fill="#a9a9a9" stroke="none" stroke-width="0.6"/>
<circle cx="560.30" cy="69.70" r="2.8" fill="#fff" stroke="#222" stroke-width="0.8"/>
<circle cx="551.00" cy="87.20" r="2.8" fill="#fff" stroke="#222" stroke-width="0.8"/>
<circle cx="564.70" cy="85.60" r="2.8" fill="#fff" stroke="#222" stroke-width="0.8"/>
<circle cx="570.50" cy="84.80" r="2.8" fill="#fff" stroke="#222" stroke-width="0.8"/>
<circle cx="577.00" cy="74.40" r="2.8" fill="#fff" stroke="#222" stroke-width="0.8"/>
<circle cx="606.20" cy="46.80" r="2.8" fill="#fff" stroke="#222" stroke-width="0.8"/>
<circle cx="595.80" cy="85.80" r="2.8" fill="#fff" stroke="#222" stroke-width="0.8"/>
<circle cx="623.50" cy="46.30" r="2.8" fill="#fde4e2" stroke="#222" stroke-width="0.8"/>
<circle cx="580.80" cy="79.70" r="2.8" fill="#f7a09a" stroke="#222" stroke-width="0.8"/>
<circle cx="580.80" cy="83.30" r="2.8" fill="#fcd6d3" stroke="#222" stroke-width="0.8"/>
<circle cx="600.20" cy="68.30" r="2.8" fill="#f0443a" stroke="#222" stroke-width="0.8"/>
<circle cx="594.10" cy="39.60" r="2.8" fill="#ee2016" stroke="#222" stroke-width="0.8"/>
<circle cx="618.00" cy="54.10" r="2.8" fill="#ec1a10" stroke="#222" stroke-width="0.8"/>
<text x="537.30" y="60.40" font-size="9.4" fill="#222" stroke="#222" stroke-width="0.08" textLength="33.9" lengthAdjust="spacingAndGlyphs" >KU1919</text>
<text x="513.80" y="79.60" font-size="9.4" fill="#222" stroke="#222" stroke-width="0.08" textLength="21.9" lengthAdjust="spacingAndGlyphs" >647V</text>
<text x="533.90" y="112.00" font-size="9.4" fill="#222" stroke="#222" stroke-width="0.08" textLength="36" lengthAdjust="spacingAndGlyphs" >SW1710</text>
<text x="504.20" y="132.00" font-size="9.4" fill="#222" stroke="#222" stroke-width="0.08" textLength="26.4" lengthAdjust="spacingAndGlyphs" >UBLC1</text>
<text x="559.60" y="122.20" font-size="9.4" fill="#222" stroke="#222" stroke-width="0.08" textLength="33.2" lengthAdjust="spacingAndGlyphs" >UMUC3</text>
<text x="567.80" y="43.40" font-size="9.4" fill="#222" stroke="#222" stroke-width="0.08" textLength="14.9" lengthAdjust="spacingAndGlyphs" >J82</text>
<text x="606.20" y="37.00" font-size="9.4" fill="#222" stroke="#222" stroke-width="0.08" textLength="20.2" lengthAdjust="spacingAndGlyphs" >5637</text>
<text x="576.40" y="59.20" font-size="9.4" fill="#222" stroke="#222" stroke-width="0.08" textLength="14.6" lengthAdjust="spacingAndGlyphs" >T24</text>
<text x="601.10" y="80.70" font-size="9.4" fill="#222" stroke="#222" stroke-width="0.08" textLength="33.6" lengthAdjust="spacingAndGlyphs" >HT1376</text>
<text x="588.80" y="97.80" font-size="9.4" fill="#222" stroke="#222" stroke-width="0.08" textLength="31.9" lengthAdjust="spacingAndGlyphs" >HT1197</text>
<line x1="554.30" y1="62.30" x2="557.75" y2="66.49" stroke="#222" stroke-width="0.75" />
<path d="M559.40,68.50 L556.74,67.32 L558.75,65.67 Z" fill="#222"/>
<line x1="538.90" y1="76.80" x2="547.33" y2="84.10" stroke="#222" stroke-width="0.75" />
<path d="M549.30,85.80 L546.48,85.08 L548.18,83.12 Z" fill="#222"/>
<line x1="553.50" y1="103.30" x2="567.51" y2="88.49" stroke="#222" stroke-width="0.75" />
<path d="M569.30,86.60 L568.46,89.38 L566.57,87.60 Z" fill="#222"/>
<line x1="536.60" y1="126.30" x2="543.73" y2="119.41" stroke="#222" stroke-width="0.75" />
<path d="M545.60,117.60 L544.63,120.34 L542.83,118.47 Z" fill="#222"/>
<line x1="573.40" y1="115.50" x2="579.48" y2="105.24" stroke="#222" stroke-width="0.75" />
<path d="M580.80,103.00 L580.59,105.90 L578.36,104.58 Z" fill="#222"/>
<line x1="586.50" y1="40.50" x2="588.83" y2="40.17" stroke="#222" stroke-width="0.75" />
<path d="M591.40,39.80 L589.01,41.45 L588.64,38.88 Z" fill="#222"/>
<line x1="617.00" y1="38.90" x2="620.09" y2="42.44" stroke="#222" stroke-width="0.75" />
<path d="M621.80,44.40 L619.11,43.30 L621.07,41.59 Z" fill="#222"/>
<line x1="594.10" y1="56.00" x2="606.99" y2="52.57" stroke="#222" stroke-width="0.75" />
<path d="M609.50,51.90 L607.32,53.83 L606.65,51.31 Z" fill="#222"/>
<line x1="618.00" y1="73.80" x2="618.00" y2="56.60" stroke="#8a8a8a" stroke-width="1.0" />
<line x1="587.80" y1="90.20" x2="584.26" y2="86.72" stroke="#222" stroke-width="0.75" />
<path d="M582.40,84.90 L585.17,85.79 L583.34,87.65 Z" fill="#222"/>
<defs><linearGradient id="cb" x1="0" y1="0" x2="0" y2="1"><stop offset="0" stop-color="#fff"/><stop offset="1" stop-color="#ff2a1a"/></linearGradient></defs>
<rect x="649.40" y="66.60" width="10.10" height="69.10" fill="url(#cb)" />
<text x="645.40" y="63.90" font-size="9.6" fill="#222" stroke="#222" stroke-width="0.08" textLength="19" lengthAdjust="spacingAndGlyphs" >IC50</text>
<text x="663.00" y="70.80" font-size="9.6" fill="#222" stroke="#222" stroke-width="0.08" >&lt;0.01</text>
<text x="663.00" y="103.20" font-size="9.6" fill="#222" stroke="#222" stroke-width="0.08" >2</text>
<text x="663.00" y="137.50" font-size="9.6" fill="#222" stroke="#222" stroke-width="0.08" >4</text>
<text x="-0.30" y="194.70" font-size="12.8" fill="#000" font-weight="bold" stroke="#000" stroke-width="0.4">c</text>
<rect x="46.70" y="223.20" width="8.30" height="121.10" fill="#2630f2" />
<rect x="46.70" y="226.20" width="8.30" height="1.85" fill="#4953f5" />
<rect x="46.70" y="229.50" width="8.30" height="1.05" fill="#3943f4" />
<rect x="46.70" y="238.60" width="8.30" height="1.85" fill="#404af4" />
<rect x="46.70" y="240.40" width="8.30" height="0.85" fill="#4c56f5" />
<rect x="46.70" y="241.20" width="8.30" height="1.85" fill="#3e48f4" />
<rect x="46.70" y="245.50" width="8.30" height="2.25" fill="#2f39f3" />
<rect x="46.70" y="248.50" width="8.30" height="1.25" fill="#414bf4" />
<rect x="46.70" y="251.70" width="8.30" height="1.85" fill="#313bf3" />
<rect x="46.70" y="253.50" width="8.30" height="0.85" fill="#4a54f5" />
<rect x="46.70" y="254.30" width="8.30" height="1.55" fill="#303af3" />
<rect x="46.70" y="255.80" width="8.30" height="2.25" fill="#3640f3" />
<rect x="46.70" y="258.80" width="8.30" height="2.25" fill="#323cf3" />
<rect x="46.70" y="261.00" width="8.30" height="2.25" fill="#454ff5" />
<rect x="46.70" y="263.20" width="8.30" height="1.25" fill="#3a44f4" />
<rect x="46.70" y="265.90" width="8.30" height="0.85" fill="#4650f5" />
<rect x="46.70" y="266.70" width="8.30" height="0.85" fill="#4953f5" />
<rect x="46.70" y="268.50" width="8.30" height="1.05" fill="#353ff3" />
<rect x="46.70" y="273.20" width="8.30" height="0.85" fill="#4f59f6" />
<rect x="46.70" y="274.00" width="8.30" height="0.85" fill="#4e58f6" />
<rect x="46.70" y="274.80" width="8.30" height="1.85" fill="#4c56f5" />
<rect x="46.70" y="276.60" width="8.30" height="1.05" fill="#4f59f6" />
<rect x="46.70" y="279.40" width="8.30" height="0.85" fill="#343ef3" />
<rect x="46.70" y="280.20" width="8.30" height="1.55" fill="#4852f5" />
<rect x="46.70" y="282.90" width="8.30" height="1.55" fill="#323cf3" />
<rect x="46.70" y="293.90" width="8.30" height="1.85" fill="#353ff3" />
<rect x="46.70" y="297.90" width="8.30" height="1.85" fill="#4e58f5" />
<rect x="46.70" y="301.20" width="8.30" height="1.55" fill="#333df3" />
<rect x="46.70" y="305.50" width="8.30" height="1.55" fill="#4a54f5" />
<rect x="46.70" y="308.80" width="8.30" height="1.85" fill="#4650f5" />
<rect x="46.70" y="310.60" width="8.30" height="0.85" fill="#3f49f4" />
<rect x="46.70" y="313.60" width="8.30" height="1.85" fill="#3640f3" />
<rect x="46.70" y="316.40" width="8.30" height="0.85" fill="#3e48f4" />
<rect x="46.70" y="317.20" width="8.30" height="0.85" fill="#3842f4" />
<rect x="46.70" y="319.80" width="8.30" height="1.05" fill="#343ef3" />
<rect x="46.70" y="329.30" width="8.30" height="0.85" fill="#444ef5" />
<rect x="46.70" y="330.10" width="8.30" height="1.55" fill="#3943f4" />
<rect x="46.70" y="337.80" width="8.30" height="1.25" fill="#454ff5" />
<rect x="46.70" y="342.10" width="8.30" height="1.85" fill="#454ff5" />
<rect x="55.00" y="223.20" width="8.00" height="121.10" fill="#2028f4" />
<rect x="55.00" y="223.20" width="8.00" height="1.85" fill="#2a32f5" />
<rect x="55.00" y="232.50" width="8.00" height="1.85" fill="#3841f5" />
<rect x="55.00" y="239.50" width="8.00" height="1.55" fill="#2830f4" />
<rect x="55.00" y="241.00" width="8.00" height="1.25" fill="#353df5" />
<rect x="55.00" y="242.20" width="8.00" height="1.85" fill="#3b44f6" />
<rect x="55.00" y="248.90" width="8.00" height="1.25" fill="#3139f5" />
<rect x="55.00" y="251.10" width="8.00" height="1.55" fill="#3c44f6" />
<rect x="55.00" y="252.60" width="8.00" height="1.05" fill="#333bf5" />
<rect x="55.00" y="269.10" width="8.00" height="1.85" fill="#2b33f5" />
<rect x="55.00" y="270.90" width="8.00" height="1.55" fill="#3841f5" />
<rect x="55.00" y="272.40" width="8.00" height="1.25" fill="#2b33f5" />
<rect x="55.00" y="281.40" width="8.00" height="1.25" fill="#2830f4" />
<rect x="55.00" y="284.10" width="8.00" height="0.85" fill="#2e36f5" />
<rect x="55.00" y="308.60" width="8.00" height="0.85" fill="#3b44f6" />
<rect x="55.00" y="312.00" width="8.00" height="1.25" fill="#3740f5" />
<rect x="55.00" y="314.00" width="8.00" height="0.85" fill="#2f38f5" />
<rect x="55.00" y="319.60" width="8.00" height="0.85" fill="#2f37f5" />
<rect x="55.00" y="328.70" width="8.00" height="2.25" fill="#2d35f5" />
<rect x="55.00" y="335.90" width="8.00" height="1.85" fill="#363ff5" />
<rect x="55.00" y="337.70" width="8.00" height="1.85" fill="#3a43f6" />
<rect x="63.00" y="223.20" width="8.20" height="121.10" fill="#1416f8" />
<rect x="63.00" y="223.20" width="8.20" height="1.85" fill="#1e20f8" />
<rect x="63.00" y="241.80" width="8.20" height="1.85" fill="#1c1ff8" />
<rect x="63.00" y="245.80" width="8.20" height="0.85" fill="#1b1ef8" />
<rect x="63.00" y="286.00" width="8.20" height="0.85" fill="#2023f8" />
<rect x="63.00" y="295.20" width="8.20" height="0.85" fill="#2022f8" />
<rect x="63.00" y="304.30" width="8.20" height="1.55" fill="#1b1df8" />
<rect x="63.00" y="340.30" width="8.20" height="1.05" fill="#1d20f8" />
<rect x="63.00" y="344.00" width="8.20" height="0.35" fill="#1d1ff8" />
<rect x="71.20" y="223.20" width="8.80" height="121.10" fill="#fa4141" />
<rect x="71.20" y="223.20" width="8.80" height="2.25" fill="#fb6f6f" />
<rect x="71.20" y="225.40" width="8.80" height="1.55" fill="#c88fba" />
<rect x="71.20" y="226.90" width="8.80" height="1.55" fill="#fb8888" />
<rect x="71.20" y="230.90" width="8.80" height="0.85" fill="#fb6565" />
<rect x="71.20" y="231.70" width="8.80" height="1.05" fill="#fb7f7f" />
<rect x="71.20" y="233.50" width="8.80" height="2.25" fill="#fb6565" />
<rect x="71.20" y="235.70" width="8.80" height="1.25" fill="#fb7a7a" />
<rect x="71.20" y="236.90" width="8.80" height="1.85" fill="#fcb1b1" />
<rect x="71.20" y="241.30" width="8.80" height="2.25" fill="#fb9090" />
<rect x="71.20" y="243.50" width="8.80" height="0.85" fill="#fcaeae" />
<rect x="71.20" y="244.30" width="8.80" height="1.55" fill="#fb6b6b" />
<rect x="71.20" y="245.80" width="8.80" height="1.55" fill="#fb9090" />
<rect x="71.20" y="248.80" width="8.80" height="1.55" fill="#fb7f7f" />
<rect x="71.20" y="250.30" width="8.80" height="1.25" fill="#fb7575" />
<rect x="71.20" y="251.50" width="8.80" height="2.25" fill="#fcaeae" />
<rect x="71.20" y="255.90" width="8.80" height="1.25" fill="#fba0a0" />
<rect x="71.20" y="257.10" width="8.80" height="1.85" fill="#fb6a6a" />
<rect x="71.20" y="258.90" width="8.80" height="2.25" fill="#fcabab" />
<rect x="71.20" y="261.10" width="8.80" height="2.25" fill="#fb8f8f" />
<rect x="71.20" y="266.30" width="8.80" height="1.05" fill="#fb8686" />
<rect x="71.20" y="267.30" width="8.80" height="1.05" fill="#fb6565" />
<rect x="71.20" y="271.50" width="8.80" height="1.05" fill="#dc3557" />
<rect x="71.20" y="272.50" width="8.80" height="1.85" fill="#fb6666" />
<rect x="71.20" y="274.30" width="8.80" height="0.85" fill="#fb6a6a" />
<rect x="71.20" y="275.10" width="8.80" height="1.25" fill="#fb9797" />
<rect x="71.20" y="276.30" width="8.80" height="1.55" fill="#ce3061" />
<rect x="71.20" y="277.80" width="8.80" height="2.25" fill="#fba0a0" />
<rect x="71.20" y="282.80" width="8.80" height="2.25" fill="#fb8686" />
<rect x="71.20" y="288.60" width="8.80" height="1.25" fill="#fb9292" />
<rect x="71.20" y="289.80" width="8.80" height="2.25" fill="#c692be" />
<rect x="71.20" y="292.00" width="8.80" height="2.25" fill="#fb7171" />
<rect x="71.20" y="294.20" width="8.80" height="1.05" fill="#fb9595" />
<rect x="71.20" y="297.00" width="8.80" height="0.85" fill="#fb8181" />
<rect x="71.20" y="297.80" width="8.80" height="1.85" fill="#fb7070" />
<rect x="71.20" y="299.60" width="8.80" height="1.25" fill="#fb6464" />
<rect x="71.20" y="300.80" width="8.80" height="2.25" fill="#fb7171" />
<rect x="71.20" y="303.00" width="8.80" height="1.25" fill="#fb7b7b" />
<rect x="71.20" y="304.20" width="8.80" height="1.25" fill="#fb9d9d" />
<rect x="71.20" y="309.50" width="8.80" height="1.05" fill="#fb9e9e" />
<rect x="71.20" y="312.00" width="8.80" height="1.25" fill="#fba5a5" />
<rect x="71.20" y="313.20" width="8.80" height="1.85" fill="#fb8c8c" />
<rect x="71.20" y="317.20" width="8.80" height="1.05" fill="#fb7c7c" />
<rect x="71.20" y="318.20" width="8.80" height="0.85" fill="#fb7878" />
<rect x="71.20" y="319.00" width="8.80" height="1.85" fill="#fb8e8e" />
<rect x="71.20" y="322.30" width="8.80" height="1.55" fill="#fba0a0" />
<rect x="71.20" y="323.80" width="8.80" height="0.85" fill="#fcacac" />
<rect x="71.20" y="324.60" width="8.80" height="1.85" fill="#fb7777" />
<rect x="71.20" y="328.60" width="8.80" height="1.25" fill="#fb6969" />
<rect x="71.20" y="331.00" width="8.80" height="1.25" fill="#fb6666" />
<rect x="71.20" y="332.20" width="8.80" height="2.25" fill="#fb9090" />
<rect x="71.20" y="336.60" width="8.80" height="1.55" fill="#fcb3b3" />
<rect x="71.20" y="338.10" width="8.80" height="1.55" fill="#fb7f7f" />
<rect x="71.20" y="341.80" width="8.80" height="1.05" fill="#fba5a5" />
<rect x="71.20" y="342.80" width="8.80" height="0.85" fill="#fb7f7f" />
<rect x="80.00" y="223.20" width="8.10" height="121.10" fill="#fa4b4b" />
<rect x="80.00" y="223.20" width="8.10" height="2.25" fill="#c02e6e" />
<rect x="80.00" y="225.40" width="8.10" height="1.85" fill="#fb9090" />
<rect x="80.00" y="227.20" width="8.10" height="1.05" fill="#fb9d9d" />
<rect x="80.00" y="229.40" width="8.10" height="1.05" fill="#c893be" />
<rect x="80.00" y="230.40" width="8.10" height="1.85" fill="#fa6666" />
<rect x="80.00" y="232.20" width="8.10" height="1.55" fill="#fb8d8d" />
<rect x="80.00" y="233.70" width="8.10" height="1.85" fill="#fa6a6a" />
<rect x="80.00" y="235.50" width="8.10" height="2.25" fill="#fb7c7c" />
<rect x="80.00" y="238.50" width="8.10" height="1.05" fill="#fba1a1" />
<rect x="80.00" y="239.50" width="8.10" height="1.55" fill="#fb7575" />
<rect x="80.00" y="241.00" width="8.10" height="1.85" fill="#fb8686" />
<rect x="80.00" y="242.80" width="8.10" height="1.25" fill="#fcadad" />
<rect x="80.00" y="244.00" width="8.10" height="2.25" fill="#fb8989" />
<rect x="80.00" y="246.20" width="8.10" height="2.25" fill="#fb9292" />
<rect x="80.00" y="248.40" width="8.10" height="0.85" fill="#fba2a2" />
<rect x="80.00" y="249.20" width="8.10" height="2.25" fill="#fa6464" />
<rect x="80.00" y="254.40" width="8.10" height="2.25" fill="#fb7f7f" />
<rect x="80.00" y="258.90" width="8.10" height="1.05" fill="#fb7070" />
<rect x="80.00" y="259.90" width="8.10" height="2.25" fill="#fb7171" />
<rect x="80.00" y="262.10" width="8.10" height="1.05" fill="#fb8c8c" />
<rect x="80.00" y="264.30" width="8.10" height="0.85" fill="#fb9b9b" />
<rect x="80.00" y="267.30" width="8.10" height="1.55" fill="#fb8888" />
<rect x="80.00" y="268.80" width="8.10" height="0.85" fill="#fb7373" />
<rect x="80.00" y="269.60" width="8.10" height="1.25" fill="#fb7676" />
<rect x="80.00" y="270.80" width="8.10" height="2.25" fill="#fb8a8a" />
<rect x="80.00" y="273.00" width="8.10" height="1.55" fill="#fb7979" />
<rect x="80.00" y="276.70" width="8.10" height="1.85" fill="#fb7878" />
<rect x="80.00" y="281.20" width="8.10" height="0.85" fill="#fb7575" />
<rect x="80.00" y="282.00" width="8.10" height="0.85" fill="#fb6e6e" />
<rect x="80.00" y="290.90" width="8.10" height="2.25" fill="#fba6a6" />
<rect x="80.00" y="293.10" width="8.10" height="1.55" fill="#fb7c7c" />
<rect x="80.00" y="295.80" width="8.10" height="1.85" fill="#fb9c9c" />
<rect x="80.00" y="297.60" width="8.10" height="1.85" fill="#fb8c8c" />
<rect x="80.00" y="299.40" width="8.10" height="1.05" fill="#d13764" />
<rect x="80.00" y="302.40" width="8.10" height="0.85" fill="#fb9292" />
<rect x="80.00" y="303.20" width="8.10" height="1.85" fill="#fb8888" />
<rect x="80.00" y="305.00" width="8.10" height="1.55" fill="#fb9c9c" />
<rect x="80.00" y="308.30" width="8.10" height="1.25" fill="#fb7272" />
<rect x="80.00" y="311.30" width="8.10" height="1.55" fill="#fb8d8d" />
<rect x="80.00" y="312.80" width="8.10" height="1.85" fill="#fcabab" />
<rect x="80.00" y="314.60" width="8.10" height="1.25" fill="#fb8282" />
<rect x="80.00" y="315.80" width="8.10" height="1.85" fill="#fb8787" />
<rect x="80.00" y="317.60" width="8.10" height="2.25" fill="#fa6a6a" />
<rect x="80.00" y="319.80" width="8.10" height="1.05" fill="#fb8282" />
<rect x="80.00" y="326.10" width="8.10" height="1.05" fill="#fb6c6c" />
<rect x="80.00" y="327.90" width="8.10" height="2.25" fill="#fb9292" />
<rect x="80.00" y="336.10" width="8.10" height="1.25" fill="#fb8080" />
<rect x="80.00" y="337.30" width="8.10" height="0.85" fill="#fcabab" />
<rect x="80.00" y="338.10" width="8.10" height="1.85" fill="#fb9494" />
<rect x="80.00" y="341.40" width="8.10" height="0.85" fill="#fb9393" />
<rect x="80.00" y="343.20" width="8.10" height="1.15" fill="#fb7272" />
<rect x="88.10" y="223.20" width="8.50" height="121.10" fill="#fa3737" />
<rect x="88.10" y="225.80" width="8.50" height="0.85" fill="#fb5c5c" />
<rect x="88.10" y="226.60" width="8.50" height="0.85" fill="#fb9595" />
<rect x="88.10" y="232.10" width="8.50" height="1.55" fill="#ce2b5b" />
<rect x="88.10" y="233.60" width="8.50" height="1.85" fill="#fb7373" />
<rect x="88.10" y="235.40" width="8.50" height="2.25" fill="#fb9797" />
<rect x="88.10" y="240.40" width="8.50" height="1.25" fill="#fb6d6d" />
<rect x="88.10" y="241.60" width="8.50" height="2.25" fill="#fb8181" />
<rect x="88.10" y="251.40" width="8.50" height="1.85" fill="#fb9090" />
<rect x="88.10" y="260.00" width="8.50" height="1.05" fill="#fb8383" />
<rect x="88.10" y="261.00" width="8.50" height="2.25" fill="#fa5555" />
<rect x="88.10" y="263.20" width="8.50" height="1.25" fill="#fba0a0" />
<rect x="88.10" y="265.90" width="8.50" height="1.05" fill="#fb8282" />
<rect x="88.10" y="273.50" width="8.50" height="0.85" fill="#fba1a1" />
<rect x="88.10" y="277.50" width="8.50" height="0.85" fill="#d37a9c" />
<rect x="88.10" y="278.30" width="8.50" height="2.25" fill="#fb9494" />
<rect x="88.10" y="284.50" width="8.50" height="0.85" fill="#fb7474" />
<rect x="88.10" y="285.30" width="8.50" height="0.85" fill="#fb7171" />
<rect x="88.10" y="286.10" width="8.50" height="1.85" fill="#fb6c6c" />
<rect x="88.10" y="287.90" width="8.50" height="1.05" fill="#fb8282" />
<rect x="88.10" y="288.90" width="8.50" height="1.25" fill="#fb9797" />
<rect x="88.10" y="292.30" width="8.50" height="1.05" fill="#fb7c7c" />
<rect x="88.10" y="293.30" width="8.50" height="0.85" fill="#d27b9d" />
<rect x="88.10" y="297.70" width="8.50" height="1.25" fill="#cd2b5c" />
<rect x="88.10" y="298.90" width="8.50" height="2.25" fill="#fb7676" />
<rect x="88.10" y="301.10" width="8.50" height="1.85" fill="#fca5a5" />
<rect x="88.10" y="304.10" width="8.50" height="1.55" fill="#fa4f4f" />
<rect x="88.10" y="305.60" width="8.50" height="0.85" fill="#fb8787" />
<rect x="88.10" y="307.90" width="8.50" height="1.85" fill="#fb9797" />
<rect x="88.10" y="311.50" width="8.50" height="1.05" fill="#fb7777" />
<rect x="88.10" y="314.30" width="8.50" height="0.85" fill="#db6c87" />
<rect x="88.10" y="316.10" width="8.50" height="2.25" fill="#fb6363" />
<rect x="88.10" y="321.30" width="8.50" height="2.25" fill="#fb8080" />
<rect x="88.10" y="327.80" width="8.50" height="0.85" fill="#fb9797" />
<rect x="88.10" y="331.20" width="8.50" height="0.85" fill="#fb9191" />
<rect x="88.10" y="332.00" width="8.50" height="0.85" fill="#fa5353" />
<rect x="88.10" y="334.30" width="8.50" height="1.55" fill="#fb8e8e" />
<rect x="88.10" y="335.80" width="8.50" height="1.05" fill="#fa5050" />
<rect x="88.10" y="336.80" width="8.50" height="1.25" fill="#fb7c7c" />
<rect x="88.10" y="339.50" width="8.50" height="1.05" fill="#fba4a4" />
<rect x="88.10" y="340.50" width="8.50" height="0.85" fill="#fb9c9c" />
<rect x="88.10" y="342.50" width="8.50" height="0.85" fill="#fba0a0" />
<rect x="88.10" y="343.30" width="8.50" height="1.05" fill="#fb8888" />
<rect x="46.70" y="344.30" width="8.30" height="71.70" fill="#f85a5f" />
<rect x="46.70" y="353.10" width="8.30" height="1.55" fill="#f97074" />
<rect x="46.70" y="354.60" width="8.30" height="1.25" fill="#fa9395" />
<rect x="46.70" y="355.80" width="8.30" height="1.25" fill="#f97578" />
<rect x="46.70" y="357.00" width="8.30" height="2.25" fill="#f9777b" />
<rect x="46.70" y="359.20" width="8.30" height="2.25" fill="#e0778f" />
<rect x="46.70" y="361.40" width="8.30" height="1.85" fill="#f9797c" />
<rect x="46.70" y="364.20" width="8.30" height="1.25" fill="#fa9194" />
<rect x="46.70" y="368.40" width="8.30" height="0.85" fill="#e2758c" />
<rect x="46.70" y="371.00" width="8.30" height="1.85" fill="#fa9a9c" />
<rect x="46.70" y="372.80" width="8.30" height="0.85" fill="#fba6a8" />
<rect x="46.70" y="373.60" width="8.30" height="1.05" fill="#f9777b" />
<rect x="46.70" y="374.60" width="8.30" height="1.85" fill="#fa999b" />
<rect x="46.70" y="378.20" width="8.30" height="1.85" fill="#fba2a4" />
<rect x="46.70" y="380.00" width="8.30" height="1.55" fill="#f9696e" />
<rect x="46.70" y="384.90" width="8.30" height="0.85" fill="#d685a5" />
<rect x="46.70" y="389.70" width="8.30" height="1.85" fill="#fa989b" />
<rect x="46.70" y="391.50" width="8.30" height="1.05" fill="#f98285" />
<rect x="46.70" y="392.50" width="8.30" height="2.25" fill="#fa989a" />
<rect x="46.70" y="396.90" width="8.30" height="1.05" fill="#fa898c" />
<rect x="46.70" y="399.70" width="8.30" height="1.25" fill="#fa8c8f" />
<rect x="46.70" y="400.90" width="8.30" height="2.25" fill="#f98386" />
<rect x="46.70" y="403.10" width="8.30" height="1.05" fill="#fa8d90" />
<rect x="46.70" y="404.10" width="8.30" height="1.85" fill="#f98285" />
<rect x="46.70" y="407.40" width="8.30" height="0.85" fill="#fba1a3" />
<rect x="46.70" y="412.80" width="8.30" height="0.85" fill="#f9686c" />
<rect x="46.70" y="414.80" width="8.30" height="1.25" fill="#dc7d98" />
<rect x="55.00" y="344.30" width="8.00" height="71.70" fill="#fc2323" />
<rect x="55.00" y="349.30" width="8.00" height="1.05" fill="#fc4d4d" />
<rect x="55.00" y="355.40" width="8.00" height="0.85" fill="#fc5151" />
<rect x="55.00" y="360.80" width="8.00" height="0.85" fill="#fc4040" />
<rect x="55.00" y="361.60" width="8.00" height="1.85" fill="#fc3f3f" />
<rect x="55.00" y="376.50" width="8.00" height="1.85" fill="#fc3333" />
<rect x="55.00" y="388.00" width="8.00" height="0.85" fill="#fc3c3c" />
<rect x="55.00" y="390.80" width="8.00" height="1.55" fill="#fc4242" />
<rect x="55.00" y="395.00" width="8.00" height="2.25" fill="#fc4343" />
<rect x="55.00" y="399.00" width="8.00" height="0.85" fill="#fc3939" />
<rect x="55.00" y="401.00" width="8.00" height="1.85" fill="#fc3838" />
<rect x="55.00" y="406.50" width="8.00" height="1.25" fill="#fc2e2e" />
<rect x="55.00" y="409.90" width="8.00" height="1.25" fill="#fc3737" />
<rect x="55.00" y="411.10" width="8.00" height="0.85" fill="#fc3b3b" />
<rect x="63.00" y="344.30" width="8.20" height="71.70" fill="#fa6e6e" />
<rect x="63.00" y="344.30" width="8.20" height="1.25" fill="#fa8484" />
<rect x="63.00" y="345.50" width="8.20" height="0.85" fill="#fb9393" />
<rect x="63.00" y="346.30" width="8.20" height="1.05" fill="#fb8888" />
<rect x="63.00" y="347.30" width="8.20" height="1.55" fill="#fb9c9c" />
<rect x="63.00" y="350.60" width="8.20" height="1.25" fill="#fb8f8f" />
<rect x="63.00" y="351.80" width="8.20" height="1.55" fill="#fa8282" />
<rect x="63.00" y="353.30" width="8.20" height="1.25" fill="#dc8aa4" />
<rect x="63.00" y="354.50" width="8.20" height="1.05" fill="#fba6a6" />
<rect x="63.00" y="355.50" width="8.20" height="1.05" fill="#fb8b8b" />
<rect x="63.00" y="356.50" width="8.20" height="1.85" fill="#fa7979" />
<rect x="63.00" y="360.60" width="8.20" height="2.25" fill="#fb9b9b" />
<rect x="63.00" y="365.00" width="8.20" height="1.25" fill="#fb9999" />
<rect x="63.00" y="367.00" width="8.20" height="0.85" fill="#fa7a7a" />
<rect x="63.00" y="369.30" width="8.20" height="1.25" fill="#fb8686" />
<rect x="63.00" y="371.50" width="8.20" height="1.05" fill="#fa8080" />
<rect x="63.00" y="374.70" width="8.20" height="1.85" fill="#fb8989" />
<rect x="63.00" y="383.70" width="8.20" height="0.85" fill="#fa7a7a" />
<rect x="63.00" y="384.50" width="8.20" height="1.55" fill="#fb8b8b" />
<rect x="63.00" y="386.00" width="8.20" height="1.85" fill="#fb9e9e" />
<rect x="63.00" y="387.80" width="8.20" height="1.25" fill="#fa7979" />
<rect x="63.00" y="390.20" width="8.20" height="1.85" fill="#fba3a3" />
<rect x="63.00" y="394.50" width="8.20" height="1.25" fill="#fb9d9d" />
<rect x="63.00" y="396.70" width="8.20" height="2.25" fill="#fb9494" />
<rect x="63.00" y="398.90" width="8.20" height="1.85" fill="#fb8686" />
<rect x="63.00" y="403.70" width="8.20" height="1.55" fill="#fa7e7e" />
<rect x="63.00" y="405.20" width="8.20" height="1.85" fill="#fb9292" />
<rect x="63.00" y="409.50" width="8.20" height="1.25" fill="#fb9c9c" />
<rect x="63.00" y="410.70" width="8.20" height="1.05" fill="#d294b6" />
<rect x="63.00" y="411.70" width="8.20" height="1.55" fill="#fb9595" />
<rect x="71.20" y="344.30" width="8.80" height="71.70" fill="#2028f2" />
<rect x="71.20" y="348.30" width="8.80" height="1.25" fill="#2b33f3" />
<rect x="71.20" y="349.50" width="8.80" height="0.85" fill="#3e47f4" />
<rect x="71.20" y="353.50" width="8.80" height="1.05" fill="#3b44f4" />
<rect x="71.20" y="361.60" width="8.80" height="1.25" fill="#2d36f3" />
<rect x="71.20" y="366.20" width="8.80" height="1.25" fill="#363ef4" />
<rect x="71.20" y="372.10" width="8.80" height="0.85" fill="#343df4" />
<rect x="71.20" y="375.10" width="8.80" height="1.55" fill="#3c44f4" />
<rect x="71.20" y="377.80" width="8.80" height="1.25" fill="#434bf5" />
<rect x="71.20" y="384.70" width="8.80" height="1.05" fill="#3b44f4" />
<rect x="71.20" y="385.70" width="8.80" height="1.25" fill="#2e36f3" />
<rect x="71.20" y="389.90" width="8.80" height="1.05" fill="#3039f3" />
<rect x="71.20" y="395.80" width="8.80" height="0.85" fill="#4750f5" />
<rect x="71.20" y="396.60" width="8.80" height="0.85" fill="#333bf4" />
<rect x="71.20" y="400.80" width="8.80" height="1.55" fill="#2a32f3" />
<rect x="71.20" y="403.80" width="8.80" height="2.25" fill="#343df4" />
<rect x="71.20" y="414.30" width="8.80" height="1.55" fill="#323af3" />
<rect x="71.20" y="415.80" width="8.80" height="0.25" fill="#3a42f4" />
<rect x="80.00" y="344.30" width="8.10" height="71.70" fill="#232df2" />
<rect x="80.00" y="345.50" width="8.10" height="1.25" fill="#2d37f3" />
<rect x="80.00" y="346.70" width="8.10" height="1.05" fill="#343ef3" />
<rect x="80.00" y="347.70" width="8.10" height="0.85" fill="#2b35f3" />
<rect x="80.00" y="349.70" width="8.10" height="0.85" fill="#3c46f4" />
<rect x="80.00" y="353.00" width="8.10" height="1.55" fill="#3e48f4" />
<rect x="80.00" y="354.50" width="8.10" height="1.85" fill="#3e48f4" />
<rect x="80.00" y="358.50" width="8.10" height="1.25" fill="#4c56f5" />
<rect x="80.00" y="362.20" width="8.10" height="2.25" fill="#4953f5" />
<rect x="80.00" y="365.40" width="8.10" height="2.25" fill="#3741f4" />
<rect x="80.00" y="367.60" width="8.10" height="1.85" fill="#3d47f4" />
<rect x="80.00" y="383.10" width="8.10" height="1.85" fill="#3f49f4" />
<rect x="80.00" y="384.90" width="8.10" height="1.05" fill="#444ef5" />
<rect x="80.00" y="388.90" width="8.10" height="1.55" fill="#343ef3" />
<rect x="80.00" y="390.40" width="8.10" height="2.25" fill="#2e38f3" />
<rect x="80.00" y="392.60" width="8.10" height="1.25" fill="#313bf3" />
<rect x="80.00" y="394.60" width="8.10" height="1.85" fill="#323cf3" />
<rect x="80.00" y="396.40" width="8.10" height="1.25" fill="#303af3" />
<rect x="80.00" y="397.60" width="8.10" height="1.25" fill="#2b35f3" />
<rect x="80.00" y="400.30" width="8.10" height="1.55" fill="#4c56f5" />
<rect x="80.00" y="401.80" width="8.10" height="1.05" fill="#313bf3" />
<rect x="80.00" y="408.80" width="8.10" height="1.25" fill="#3842f4" />
<rect x="80.00" y="412.40" width="8.10" height="0.85" fill="#414bf5" />
<rect x="80.00" y="414.70" width="8.10" height="0.85" fill="#404af4" />
<rect x="88.10" y="344.30" width="8.50" height="71.70" fill="#2630f0" />
<rect x="88.10" y="354.30" width="8.50" height="1.85" fill="#3f49f3" />
<rect x="88.10" y="356.10" width="8.50" height="1.85" fill="#4852f4" />
<rect x="88.10" y="359.70" width="8.50" height="1.55" fill="#2f39f1" />
<rect x="88.10" y="370.20" width="8.50" height="1.55" fill="#333df1" />
<rect x="88.10" y="375.70" width="8.50" height="1.25" fill="#4751f4" />
<rect x="88.10" y="376.90" width="8.50" height="2.25" fill="#3d47f2" />
<rect x="88.10" y="380.30" width="8.50" height="1.85" fill="#3a44f2" />
<rect x="88.10" y="382.10" width="8.50" height="1.55" fill="#404af3" />
<rect x="88.10" y="383.60" width="8.50" height="0.85" fill="#3a44f2" />
<rect x="88.10" y="391.10" width="8.50" height="1.05" fill="#2e38f1" />
<rect x="88.10" y="399.10" width="8.50" height="1.55" fill="#4a54f4" />
<rect x="88.10" y="413.90" width="8.50" height="2.15" fill="#444ef3" />
<rect x="46.7" y="223.2" width="49.9" height="192.8" fill="none" stroke="#666" stroke-width="0.7"/>
<text x="60.30" y="221.10" font-size="10.2" fill="#231f20" stroke="#231f20" stroke-width="0.08" transform="rotate(-32 60.30 221.10)" textLength="26" lengthAdjust="spacingAndGlyphs" >DMSO</text>
<text x="81.20" y="220.50" font-size="10.2" fill="#231f20" stroke="#231f20" stroke-width="0.08" transform="rotate(-32 81.20 220.50)" textLength="46" lengthAdjust="spacingAndGlyphs" >CCT068127</text>
<text x="34.00" y="279.30" font-size="9.8" fill="#231f20" stroke="#231f20" stroke-width="0.08" text-anchor="middle" transform="rotate(-90 34.00 279.30)" textLength="76.1" lengthAdjust="spacingAndGlyphs" >Upregulated genes</text>
<text x="42.20" y="276.80" font-size="9.8" fill="#231f20" stroke="#231f20" stroke-width="0.08" text-anchor="middle" transform="rotate(-90 42.20 276.80)" textLength="31.4" lengthAdjust="spacingAndGlyphs" >(n=822)</text>
<text x="34.00" y="373.60" font-size="9.8" fill="#231f20" stroke="#231f20" stroke-width="0.08" text-anchor="middle" transform="rotate(-90 34.00 373.60)" textLength="89.8" lengthAdjust="spacingAndGlyphs" >Downregulated genes</text>
<text x="42.20" y="373.20" font-size="9.8" fill="#231f20" stroke="#231f20" stroke-width="0.08" text-anchor="middle" transform="rotate(-90 42.20 373.20)" textLength="31.4" lengthAdjust="spacingAndGlyphs" >(n=490)</text>
<text x="50.80" y="422.90" font-size="8.8" fill="#231f20" stroke="#231f20" stroke-width="0.08" text-anchor="middle" >1</text>
<text x="59.00" y="422.90" font-size="8.8" fill="#231f20" stroke="#231f20" stroke-width="0.08" text-anchor="middle" >2</text>
<text x="67.10" y="422.90" font-size="8.8" fill="#231f20" stroke="#231f20" stroke-width="0.08" text-anchor="middle" >3</text>
<text x="75.60" y="422.90" font-size="8.8" fill="#231f20" stroke="#231f20" stroke-width="0.08" text-anchor="middle" >1</text>
<text x="84.00" y="422.90" font-size="8.8" fill="#231f20" stroke="#231f20" stroke-width="0.08" text-anchor="middle" >2</text>
<text x="92.30" y="422.90" font-size="8.8" fill="#231f20" stroke="#231f20" stroke-width="0.08" text-anchor="middle" >3</text>
<text x="71.05" y="429.60" font-size="8.8" fill="#231f20" stroke="#231f20" stroke-width="0.08" text-anchor="middle" textLength="31.3" lengthAdjust="spacingAndGlyphs" >Replicate</text>
<text x="39.80" y="451.30" font-size="10.2" fill="#231f20" stroke="#231f20" stroke-width="0.08" textLength="24.4" lengthAdjust="spacingAndGlyphs" >RPKM</text>
<defs><linearGradient id="rp" x1="0" y1="0" x2="1" y2="0"><stop offset="0" stop-color="#1a20f0"/><stop offset="0.5" stop-color="#ffffff"/><stop offset="1" stop-color="#f52020"/></linearGradient></defs>
<rect x="68.30" y="443.80" width="28.10" height="7.50" fill="url(#rp)" stroke="#999" stroke-width="0.5"/>
<text x="57.80" y="459.30" font-size="10.2" fill="#231f20" stroke="#231f20" stroke-width="0.08" textLength="16.2" lengthAdjust="spacingAndGlyphs" >row</text>
<text x="57.80" y="467.90" font-size="10.2" fill="#231f20" stroke="#231f20" stroke-width="0.08" textLength="16.2" lengthAdjust="spacingAndGlyphs" >min</text>
<text x="88.30" y="459.30" font-size="10.2" fill="#231f20" stroke="#231f20" stroke-width="0.08" textLength="16.2" lengthAdjust="spacingAndGlyphs" >row</text>
<text x="88.30" y="467.90" font-size="10.2" fill="#231f20" stroke="#231f20" stroke-width="0.08" textLength="18.5" lengthAdjust="spacingAndGlyphs" >max</text>
<line x1="119.30" y1="224.00" x2="119.30" y2="310.00" stroke="#666" stroke-width="1.0" />
<path d="M117.1,226.5 L119.3,220.6 L121.5,226.5 Z" fill="#444" stroke="none" stroke-width="0.8" />
<text x="119.90" y="368.00" font-size="10.2" fill="#231f20" stroke="#231f20" stroke-width="0.08" text-anchor="middle" transform="rotate(-90 119.90 368.00)" textLength="89" lengthAdjust="spacingAndGlyphs" >Enrichment score</text>
<line x1="143.10" y1="232.50" x2="272.40" y2="232.50" stroke="#e4e4e4" stroke-width="0.6" />
<line x1="143.10" y1="271.30" x2="272.40" y2="271.30" stroke="#e4e4e4" stroke-width="0.6" />
<line x1="159.00" y1="218.60" x2="159.00" y2="276.70" stroke="#eeeeee" stroke-width="0.6" />
<line x1="175.00" y1="218.60" x2="175.00" y2="276.70" stroke="#eeeeee" stroke-width="0.6" />
<line x1="191.00" y1="218.60" x2="191.00" y2="276.70" stroke="#eeeeee" stroke-width="0.6" />
<line x1="207.00" y1="218.60" x2="207.00" y2="276.70" stroke="#eeeeee" stroke-width="0.6" />
<line x1="223.00" y1="218.60" x2="223.00" y2="276.70" stroke="#eeeeee" stroke-width="0.6" />
<line x1="239.00" y1="218.60" x2="239.00" y2="276.70" stroke="#eeeeee" stroke-width="0.6" />
<line x1="255.00" y1="218.60" x2="255.00" y2="276.70" stroke="#eeeeee" stroke-width="0.6" />
<line x1="143.10" y1="251.90" x2="272.40" y2="251.90" stroke="#c4c4c4" stroke-width="0.7" />
<rect x="143.40" y="276.70" width="2.40" height="18.90" fill="#888888" />
<rect x="145.80" y="276.70" width="3.30" height="18.90" fill="#050505" />
<rect x="149.10" y="276.70" width="1.90" height="18.90" fill="#555555" />
<rect x="151.00" y="276.70" width="2.90" height="18.90" fill="#303030" />
<rect x="153.90" y="276.70" width="2.30" height="18.90" fill="#b0b0b0" />
<rect x="156.20" y="276.70" width="3.40" height="18.90" fill="#080808" />
<rect x="159.60" y="276.70" width="1.80" height="18.90" fill="#999999" />
<rect x="161.40" y="276.70" width="2.10" height="18.90" fill="#707070" />
<rect x="163.50" y="276.70" width="2.20" height="18.90" fill="#909090" />
<rect x="165.70" y="276.70" width="2.40" height="18.90" fill="#e8e8e8" />
<rect x="168.10" y="276.70" width="4.30" height="18.90" fill="#303030" />
<rect x="172.40" y="276.70" width="1.40" height="18.90" fill="#909090" />
<rect x="188.10" y="276.70" width="0.80" height="18.90" fill="#888888" />
<rect x="206.90" y="276.70" width="1.90" height="18.90" fill="#aaaaaa" />
<rect x="209.70" y="276.70" width="1.00" height="18.90" fill="#cccccc" />
<rect x="212.10" y="276.70" width="1.40" height="18.90" fill="#888888" />
<rect x="219.70" y="276.70" width="4.30" height="18.90" fill="#5a5a5a" />
<rect x="224.90" y="276.70" width="2.40" height="18.90" fill="#444444" />
<rect x="229.20" y="276.70" width="3.30" height="18.90" fill="#333333" />
<rect x="233.00" y="276.70" width="3.30" height="18.90" fill="#555555" />
<rect x="237.30" y="276.70" width="2.30" height="18.90" fill="#999999" />
<rect x="239.60" y="276.70" width="2.90" height="18.90" fill="#555555" />
<rect x="242.50" y="276.70" width="2.30" height="18.90" fill="#0a0a0a" />
<rect x="244.80" y="276.70" width="3.40" height="18.90" fill="#666666" />
<rect x="248.60" y="276.70" width="2.90" height="18.90" fill="#0a0a0a" />
<rect x="251.50" y="276.70" width="2.40" height="18.90" fill="#777777" />
<rect x="254.30" y="276.70" width="1.90" height="18.90" fill="#151515" />
<rect x="258.10" y="276.70" width="4.80" height="18.90" fill="#333333" />
<rect x="262.90" y="276.70" width="1.90" height="18.90" fill="#777777" />
<rect x="143.40" y="295.60" width="1.06" height="4.50" fill="#ec0a20" />
<rect x="144.40" y="295.60" width="1.06" height="4.50" fill="#ec0c22" />
<rect x="145.41" y="295.60" width="1.06" height="4.50" fill="#ec0f25" />
<rect x="146.41" y="295.60" width="1.06" height="4.50" fill="#ed1127" />
<rect x="147.41" y="295.60" width="1.06" height="4.50" fill="#ed1429" />
<rect x="148.42" y="295.60" width="1.06" height="4.50" fill="#ed162c" />
<rect x="149.42" y="295.60" width="1.06" height="4.50" fill="#ed182e" />
<rect x="150.43" y="295.60" width="1.06" height="4.50" fill="#ee1b30" />
<rect x="151.43" y="295.60" width="1.06" height="4.50" fill="#ee1d32" />
<rect x="152.43" y="295.60" width="1.06" height="4.50" fill="#ee1f35" />
<rect x="153.44" y="295.60" width="1.06" height="4.50" fill="#ee2237" />
<rect x="154.44" y="295.60" width="1.06" height="4.50" fill="#ef2439" />
<rect x="155.44" y="295.60" width="1.06" height="4.50" fill="#ef273c" />
<rect x="156.45" y="295.60" width="1.06" height="4.50" fill="#ef293e" />
<rect x="157.45" y="295.60" width="1.06" height="4.50" fill="#ef2b40" />
<rect x="158.46" y="295.60" width="1.06" height="4.50" fill="#ef2e43" />
<rect x="159.46" y="295.60" width="1.06" height="4.50" fill="#f03045" />
<rect x="160.46" y="295.60" width="1.06" height="4.50" fill="#f03347" />
<rect x="161.47" y="295.60" width="1.06" height="4.50" fill="#f0354a" />
<rect x="162.47" y="295.60" width="1.06" height="4.50" fill="#f0374c" />
<rect x="163.47" y="295.60" width="1.06" height="4.50" fill="#f13a4e" />
<rect x="164.48" y="295.60" width="1.06" height="4.50" fill="#f13c50" />
<rect x="165.48" y="295.60" width="1.06" height="4.50" fill="#f13e53" />
<rect x="166.49" y="295.60" width="1.06" height="4.50" fill="#f14155" />
<rect x="167.49" y="295.60" width="1.06" height="4.50" fill="#f24357" />
<rect x="168.49" y="295.60" width="1.06" height="4.50" fill="#f2465a" />
<rect x="169.50" y="295.60" width="1.06" height="4.50" fill="#f2485c" />
<rect x="170.50" y="295.60" width="1.07" height="4.50" fill="#f8acd8" />
<rect x="171.51" y="295.60" width="1.07" height="4.50" fill="#f8acd8" />
<rect x="172.53" y="295.60" width="1.07" height="4.50" fill="#f8acd8" />
<rect x="173.54" y="295.60" width="1.07" height="4.50" fill="#f8acd8" />
<rect x="174.55" y="295.60" width="1.07" height="4.50" fill="#f8acd8" />
<rect x="175.57" y="295.60" width="1.07" height="4.50" fill="#f8acd8" />
<rect x="176.58" y="295.60" width="1.07" height="4.50" fill="#f8acd8" />
<rect x="177.59" y="295.60" width="1.07" height="4.50" fill="#f8acd8" />
<rect x="178.61" y="295.60" width="1.07" height="4.50" fill="#f8acd8" />
<rect x="179.62" y="295.60" width="1.07" height="4.50" fill="#f8acd8" />
<rect x="180.64" y="295.60" width="1.07" height="4.50" fill="#f8acd8" />
<rect x="181.65" y="295.60" width="1.07" height="4.50" fill="#f8acd8" />
<rect x="182.66" y="295.60" width="1.07" height="4.50" fill="#f8acd8" />
<rect x="183.68" y="295.60" width="1.07" height="4.50" fill="#f8acd8" />
<rect x="184.69" y="295.60" width="1.07" height="4.50" fill="#f8acd8" />
<rect x="185.70" y="295.60" width="1.07" height="4.50" fill="#f8acd8" />
<rect x="186.72" y="295.60" width="1.07" height="4.50" fill="#f8acd8" />
<rect x="187.73" y="295.60" width="1.07" height="4.50" fill="#f8acd8" />
<rect x="188.74" y="295.60" width="1.07" height="4.50" fill="#f8acd8" />
<rect x="189.76" y="295.60" width="1.07" height="4.50" fill="#f8acd8" />
<rect x="190.77" y="295.60" width="1.07" height="4.50" fill="#f8acd8" />
<rect x="191.78" y="295.60" width="1.07" height="4.50" fill="#f8acd8" />
<rect x="192.80" y="295.60" width="1.07" height="4.50" fill="#f8acd8" />
<rect x="193.81" y="295.60" width="1.07" height="4.50" fill="#f8acd8" />
<rect x="194.82" y="295.60" width="1.07" height="4.50" fill="#f8acd8" />
<rect x="195.84" y="295.60" width="1.07" height="4.50" fill="#f8acd8" />
<rect x="196.85" y="295.60" width="1.07" height="4.50" fill="#f8acd8" />
<rect x="197.86" y="295.60" width="1.07" height="4.50" fill="#f8acd8" />
<rect x="198.88" y="295.60" width="1.07" height="4.50" fill="#f8acd8" />
<rect x="199.89" y="295.60" width="1.07" height="4.50" fill="#f8acd8" />
<rect x="200.91" y="295.60" width="1.07" height="4.50" fill="#f8acd8" />
<rect x="201.92" y="295.60" width="1.07" height="4.50" fill="#f8acd8" />
<rect x="202.93" y="295.60" width="1.07" height="4.50" fill="#f8acd8" />
<rect x="203.95" y="295.60" width="1.07" height="4.50" fill="#f8acd8" />
<rect x="204.96" y="295.60" width="1.07" height="4.50" fill="#f8acd8" />
<rect x="205.97" y="295.60" width="1.07" height="4.50" fill="#f8acd8" />
<rect x="206.99" y="295.60" width="1.07" height="4.50" fill="#f8acd8" />
<rect x="208.00" y="295.60" width="1.06" height="4.50" fill="#cecef6" />
<rect x="209.00" y="295.60" width="1.06" height="4.50" fill="#cecef6" />
<rect x="210.00" y="295.60" width="1.06" height="4.50" fill="#cdcdf6" />
<rect x="211.00" y="295.60" width="1.06" height="4.50" fill="#cdcdf6" />
<rect x="212.00" y="295.60" width="1.06" height="4.50" fill="#ccccf6" />
<rect x="213.00" y="295.60" width="1.06" height="4.50" fill="#ccccf6" />
<rect x="214.00" y="295.60" width="1.06" height="4.50" fill="#ccccf6" />
<rect x="215.00" y="295.60" width="1.06" height="4.50" fill="#cbcbf6" />
<rect x="216.00" y="295.60" width="1.06" height="4.50" fill="#cbcbf6" />
<rect x="217.00" y="295.60" width="1.06" height="4.50" fill="#cacaf5" />
<rect x="218.00" y="295.60" width="1.06" height="4.50" fill="#cacaf5" />
<rect x="219.00" y="295.60" width="1.06" height="4.50" fill="#c9c9f5" />
<rect x="220.00" y="295.60" width="1.06" height="4.50" fill="#c9c9f5" />
<rect x="221.00" y="295.60" width="1.06" height="4.50" fill="#c9c9f5" />
<rect x="222.00" y="295.60" width="1.06" height="4.50" fill="#c8c8f5" />
<rect x="223.00" y="295.60" width="1.06" height="4.50" fill="#c8c8f5" />
<rect x="224.00" y="295.60" width="1.06" height="4.50" fill="#c7c7f5" />
<rect x="225.00" y="295.60" width="1.06" height="4.50" fill="#c7c7f5" />
<rect x="226.00" y="295.60" width="1.06" height="4.50" fill="#c7c7f5" />
<rect x="227.00" y="295.60" width="1.06" height="4.50" fill="#c6c6f5" />
<rect x="228.00" y="295.60" width="1.06" height="4.50" fill="#c6c6f5" />
<rect x="229.00" y="295.60" width="1.06" height="4.50" fill="#c5c5f5" />
<rect x="230.00" y="295.60" width="1.06" height="4.50" fill="#c5c5f5" />
<rect x="231.00" y="295.60" width="1.06" height="4.50" fill="#c5c5f5" />
<rect x="232.00" y="295.60" width="1.06" height="4.50" fill="#c4c4f5" />
<rect x="233.00" y="295.60" width="1.06" height="4.50" fill="#c4c4f5" />
<rect x="234.00" y="295.60" width="1.06" height="4.50" fill="#c3c3f4" />
<rect x="235.00" y="295.60" width="1.06" height="4.50" fill="#c3c3f4" />
<rect x="236.00" y="295.60" width="1.06" height="4.50" fill="#c2c2f4" />
<rect x="237.00" y="295.60" width="1.06" height="4.50" fill="#c2c2f4" />
<rect x="238.00" y="295.60" width="1.06" height="4.50" fill="#c2c2f4" />
<rect x="239.00" y="295.60" width="1.06" height="4.50" fill="#c1c1f4" />
<rect x="240.00" y="295.60" width="1.06" height="4.50" fill="#c1c1f4" />
<rect x="241.00" y="295.60" width="1.06" height="4.50" fill="#c0c0f4" />
<rect x="242.00" y="295.60" width="1.06" height="4.50" fill="#c0c0f4" />
<rect x="243.00" y="295.60" width="1.11" height="4.50" fill="#645af0" />
<rect x="244.05" y="295.60" width="1.11" height="4.50" fill="#6257ef" />
<rect x="245.11" y="295.60" width="1.11" height="4.50" fill="#5f54ef" />
<rect x="246.16" y="295.60" width="1.11" height="4.50" fill="#5c52ee" />
<rect x="247.22" y="295.60" width="1.11" height="4.50" fill="#5a4fed" />
<rect x="248.27" y="295.60" width="1.11" height="4.50" fill="#584ced" />
<rect x="249.32" y="295.60" width="1.11" height="4.50" fill="#5549ec" />
<rect x="250.38" y="295.60" width="1.11" height="4.50" fill="#5246eb" />
<rect x="251.43" y="295.60" width="1.11" height="4.50" fill="#5043eb" />
<rect x="252.48" y="295.60" width="1.11" height="4.50" fill="#4e40ea" />
<rect x="253.54" y="295.60" width="1.11" height="4.50" fill="#4b3ee9" />
<rect x="254.59" y="295.60" width="1.11" height="4.50" fill="#483be9" />
<rect x="255.65" y="295.60" width="1.11" height="4.50" fill="#4638e8" />
<rect x="256.70" y="295.60" width="1.06" height="4.50" fill="#2408d6" />
<rect x="257.70" y="295.60" width="1.06" height="4.50" fill="#2408d3" />
<rect x="258.70" y="295.60" width="1.06" height="4.50" fill="#2507d0" />
<rect x="259.70" y="295.60" width="1.06" height="4.50" fill="#2606cd" />
<rect x="260.70" y="295.60" width="1.06" height="4.50" fill="#2606ca" />
<rect x="261.70" y="295.60" width="1.06" height="4.50" fill="#2606c7" />
<rect x="262.70" y="295.60" width="1.06" height="4.50" fill="#2705c4" />
<rect x="263.70" y="295.60" width="1.06" height="4.50" fill="#2804c1" />
<rect x="264.70" y="295.60" width="1.06" height="4.50" fill="#2804be" />
<line x1="143.10" y1="276.70" x2="272.40" y2="276.70" stroke="#d0d0d0" stroke-width="0.6" />
<path d="M143.4,251.9 144.3,250.0 145.2,244.0 146.2,236.0 147.5,230.0 149.0,227.5 151.0,226.0 152.5,224.2 155.0,222.8 157.0,222.0 159.4,221.2 162.0,221.8 165.0,223.2 170.0,227.5 180.0,234.5 200.0,248.0 220.0,261.5 232.0,269.5 237.0,272.5 240.0,273.6 243.0,273.4 244.5,272.0 246.0,271.5 247.5,269.8 249.5,269.5 251.0,268.0 252.5,268.0 254.0,266.3 256.0,266.5 257.5,264.5 259.0,265.0 260.5,262.0 262.0,260.0 263.5,256.5 265.1,251.9" fill="none" stroke="#3de33d" stroke-width="1.5" stroke-linejoin="round"/>
<rect x="143.1" y="218.6" width="129.3" height="81.9" fill="none" stroke="#7a7a7a" stroke-width="0.8"/>
<text x="140.20" y="235.90" font-size="9.6" fill="#231f20" stroke="#231f20" stroke-width="0.08" text-anchor="end" >0.2</text>
<text x="140.20" y="255.50" font-size="9.6" fill="#231f20" stroke="#231f20" stroke-width="0.08" text-anchor="end" >0.0</text>
<text x="140.20" y="275.60" font-size="9.6" fill="#231f20" stroke="#231f20" stroke-width="0.08" text-anchor="end" >-0.2</text>
<text x="226.10" y="229.60" font-size="10.2" fill="#231f20" stroke="#231f20" stroke-width="0.08" textLength="38" lengthAdjust="spacingAndGlyphs" >NES 1.09</text>
<text x="226.10" y="241.30" font-size="10.2" fill="#231f20" stroke="#231f20" stroke-width="0.08" textLength="38" lengthAdjust="spacingAndGlyphs" >FDR 0.18</text>
<text x="207.80" y="205.70" font-size="10.2" fill="#231f20" stroke="#231f20" stroke-width="0.08" text-anchor="middle" textLength="122" lengthAdjust="spacingAndGlyphs" >Genes inhibited by CDK4/6</text>
<text x="207.80" y="215.00" font-size="10.2" fill="#231f20" stroke="#231f20" stroke-width="0.08" text-anchor="middle" textLength="126" lengthAdjust="spacingAndGlyphs" >inhibitor palbociclib (n=238)</text>
<line x1="141.70" y1="362.80" x2="270.30" y2="362.80" stroke="#e4e4e4" stroke-width="0.6" />
<line x1="141.70" y1="380.90" x2="270.30" y2="380.90" stroke="#e4e4e4" stroke-width="0.6" />
<line x1="158.00" y1="332.20" x2="158.00" y2="390.90" stroke="#eeeeee" stroke-width="0.6" />
<line x1="174.00" y1="332.20" x2="174.00" y2="390.90" stroke="#eeeeee" stroke-width="0.6" />
<line x1="190.00" y1="332.20" x2="190.00" y2="390.90" stroke="#eeeeee" stroke-width="0.6" />
<line x1="206.00" y1="332.20" x2="206.00" y2="390.90" stroke="#eeeeee" stroke-width="0.6" />
<line x1="222.00" y1="332.20" x2="222.00" y2="390.90" stroke="#eeeeee" stroke-width="0.6" />
<line x1="238.00" y1="332.20" x2="238.00" y2="390.90" stroke="#eeeeee" stroke-width="0.6" />
<line x1="254.00" y1="332.20" x2="254.00" y2="390.90" stroke="#eeeeee" stroke-width="0.6" />
<line x1="141.70" y1="344.70" x2="270.30" y2="344.70" stroke="#c4c4c4" stroke-width="0.7" />
<rect x="141.90" y="390.90" width="7.60" height="18.50" fill="#050505" />
<rect x="149.50" y="390.90" width="1.00" height="18.50" fill="#222222" />
<rect x="150.50" y="390.90" width="4.50" height="18.50" fill="#080808" />
<rect x="155.00" y="390.90" width="1.20" height="18.50" fill="#303030" />
<rect x="156.20" y="390.90" width="5.80" height="18.50" fill="#080808" />
<rect x="162.00" y="390.90" width="1.00" height="18.50" fill="#282828" />
<rect x="163.00" y="390.90" width="9.30" height="18.50" fill="#060606" />
<rect x="180.30" y="390.90" width="1.00" height="18.50" fill="#888888" />
<rect x="183.60" y="390.90" width="1.00" height="18.50" fill="#777777" />
<rect x="187.00" y="390.90" width="1.40" height="18.50" fill="#444444" />
<rect x="194.60" y="390.90" width="0.90" height="18.50" fill="#cccccc" />
<rect x="204.90" y="390.90" width="1.90" height="18.50" fill="#444444" />
<rect x="210.60" y="390.90" width="1.40" height="18.50" fill="#666666" />
<rect x="213.00" y="390.90" width="1.90" height="18.50" fill="#777777" />
<rect x="216.80" y="390.90" width="1.20" height="18.50" fill="#777777" />
<rect x="218.00" y="390.90" width="1.60" height="18.50" fill="#444444" />
<rect x="219.60" y="390.90" width="5.40" height="18.50" fill="#101010" />
<rect x="225.00" y="390.90" width="1.00" height="18.50" fill="#222222" />
<rect x="226.00" y="390.90" width="37.70" height="18.50" fill="#060606" />
<rect x="141.90" y="409.40" width="1.06" height="4.70" fill="#ec0a20" />
<rect x="142.90" y="409.40" width="1.06" height="4.70" fill="#ec0c22" />
<rect x="143.91" y="409.40" width="1.06" height="4.70" fill="#ec0f24" />
<rect x="144.91" y="409.40" width="1.06" height="4.70" fill="#ed1127" />
<rect x="145.91" y="409.40" width="1.06" height="4.70" fill="#ed1329" />
<rect x="146.92" y="409.40" width="1.06" height="4.70" fill="#ed152b" />
<rect x="147.92" y="409.40" width="1.06" height="4.70" fill="#ed182d" />
<rect x="148.93" y="409.40" width="1.06" height="4.70" fill="#ee1a30" />
<rect x="149.93" y="409.40" width="1.06" height="4.70" fill="#ee1c32" />
<rect x="150.93" y="409.40" width="1.06" height="4.70" fill="#ee1f34" />
<rect x="151.94" y="409.40" width="1.06" height="4.70" fill="#ee2136" />
<rect x="152.94" y="409.40" width="1.06" height="4.70" fill="#ee2338" />
<rect x="153.94" y="409.40" width="1.06" height="4.70" fill="#ef263b" />
<rect x="154.95" y="409.40" width="1.06" height="4.70" fill="#ef283d" />
<rect x="155.95" y="409.40" width="1.06" height="4.70" fill="#ef2a3f" />
<rect x="156.95" y="409.40" width="1.06" height="4.70" fill="#ef2c41" />
<rect x="157.96" y="409.40" width="1.06" height="4.70" fill="#f02f44" />
<rect x="158.96" y="409.40" width="1.06" height="4.70" fill="#f03146" />
<rect x="159.96" y="409.40" width="1.06" height="4.70" fill="#f03348" />
<rect x="160.97" y="409.40" width="1.06" height="4.70" fill="#f0364a" />
<rect x="161.97" y="409.40" width="1.06" height="4.70" fill="#f0384c" />
<rect x="162.97" y="409.40" width="1.06" height="4.70" fill="#f13a4f" />
<rect x="163.98" y="409.40" width="1.06" height="4.70" fill="#f13d51" />
<rect x="164.98" y="409.40" width="1.06" height="4.70" fill="#f13f53" />
<rect x="165.99" y="409.40" width="1.06" height="4.70" fill="#f14155" />
<rect x="166.99" y="409.40" width="1.06" height="4.70" fill="#f24358" />
<rect x="167.99" y="409.40" width="1.06" height="4.70" fill="#f2465a" />
<rect x="169.00" y="409.40" width="1.06" height="4.70" fill="#f2485c" />
<rect x="170.00" y="409.40" width="1.07" height="4.70" fill="#f8acd8" />
<rect x="171.01" y="409.40" width="1.07" height="4.70" fill="#f8acd8" />
<rect x="172.02" y="409.40" width="1.07" height="4.70" fill="#f8acd8" />
<rect x="173.03" y="409.40" width="1.07" height="4.70" fill="#f8acd8" />
<rect x="174.03" y="409.40" width="1.07" height="4.70" fill="#f8acd8" />
<rect x="175.04" y="409.40" width="1.07" height="4.70" fill="#f8acd8" />
<rect x="176.05" y="409.40" width="1.07" height="4.70" fill="#f8acd8" />
<rect x="177.06" y="409.40" width="1.07" height="4.70" fill="#f8acd8" />
<rect x="178.07" y="409.40" width="1.07" height="4.70" fill="#f8acd8" />
<rect x="179.07" y="409.40" width="1.07" height="4.70" fill="#f8acd8" />
<rect x="180.08" y="409.40" width="1.07" height="4.70" fill="#f8acd8" />
<rect x="181.09" y="409.40" width="1.07" height="4.70" fill="#f8acd8" />
<rect x="182.10" y="409.40" width="1.07" height="4.70" fill="#f8acd8" />
<rect x="183.11" y="409.40" width="1.07" height="4.70" fill="#f8acd8" />
<rect x="184.12" y="409.40" width="1.07" height="4.70" fill="#f8acd8" />
<rect x="185.12" y="409.40" width="1.07" height="4.70" fill="#f8acd8" />
<rect x="186.13" y="409.40" width="1.07" height="4.70" fill="#f8acd8" />
<rect x="187.14" y="409.40" width="1.07" height="4.70" fill="#f8acd8" />
<rect x="188.15" y="409.40" width="1.07" height="4.70" fill="#f8acd8" />
<rect x="189.16" y="409.40" width="1.07" height="4.70" fill="#f8acd8" />
<rect x="190.17" y="409.40" width="1.07" height="4.70" fill="#f8acd8" />
<rect x="191.18" y="409.40" width="1.07" height="4.70" fill="#f8acd8" />
<rect x="192.18" y="409.40" width="1.07" height="4.70" fill="#f8acd8" />
<rect x="193.19" y="409.40" width="1.07" height="4.70" fill="#f8acd8" />
<rect x="194.20" y="409.40" width="1.07" height="4.70" fill="#f8acd8" />
<rect x="195.21" y="409.40" width="1.07" height="4.70" fill="#f8acd8" />
<rect x="196.22" y="409.40" width="1.07" height="4.70" fill="#f8acd8" />
<rect x="197.23" y="409.40" width="1.07" height="4.70" fill="#f8acd8" />
<rect x="198.23" y="409.40" width="1.07" height="4.70" fill="#f8acd8" />
<rect x="199.24" y="409.40" width="1.07" height="4.70" fill="#f8acd8" />
<rect x="200.25" y="409.40" width="1.07" height="4.70" fill="#f8acd8" />
<rect x="201.26" y="409.40" width="1.07" height="4.70" fill="#f8acd8" />
<rect x="202.27" y="409.40" width="1.07" height="4.70" fill="#f8acd8" />
<rect x="203.28" y="409.40" width="1.07" height="4.70" fill="#f8acd8" />
<rect x="204.28" y="409.40" width="1.07" height="4.70" fill="#f8acd8" />
<rect x="205.29" y="409.40" width="1.07" height="4.70" fill="#f8acd8" />
<rect x="206.30" y="409.40" width="1.08" height="4.70" fill="#cecef6" />
<rect x="207.32" y="409.40" width="1.08" height="4.70" fill="#cecef6" />
<rect x="208.34" y="409.40" width="1.08" height="4.70" fill="#cdcdf6" />
<rect x="209.36" y="409.40" width="1.08" height="4.70" fill="#cdcdf6" />
<rect x="210.37" y="409.40" width="1.08" height="4.70" fill="#ccccf6" />
<rect x="211.39" y="409.40" width="1.08" height="4.70" fill="#ccccf6" />
<rect x="212.41" y="409.40" width="1.08" height="4.70" fill="#ccccf6" />
<rect x="213.43" y="409.40" width="1.08" height="4.70" fill="#cbcbf6" />
<rect x="214.45" y="409.40" width="1.08" height="4.70" fill="#cbcbf6" />
<rect x="215.47" y="409.40" width="1.08" height="4.70" fill="#cbcbf6" />
<rect x="216.48" y="409.40" width="1.08" height="4.70" fill="#cacaf5" />
<rect x="217.50" y="409.40" width="1.08" height="4.70" fill="#cacaf5" />
<rect x="218.52" y="409.40" width="1.08" height="4.70" fill="#c9c9f5" />
<rect x="219.54" y="409.40" width="1.08" height="4.70" fill="#c9c9f5" />
<rect x="220.56" y="409.40" width="1.08" height="4.70" fill="#c9c9f5" />
<rect x="221.58" y="409.40" width="1.08" height="4.70" fill="#c8c8f5" />
<rect x="222.59" y="409.40" width="1.08" height="4.70" fill="#c8c8f5" />
<rect x="223.61" y="409.40" width="1.08" height="4.70" fill="#c8c8f5" />
<rect x="224.63" y="409.40" width="1.08" height="4.70" fill="#c7c7f5" />
<rect x="225.65" y="409.40" width="1.08" height="4.70" fill="#c7c7f5" />
<rect x="226.67" y="409.40" width="1.08" height="4.70" fill="#c6c6f5" />
<rect x="227.69" y="409.40" width="1.08" height="4.70" fill="#c6c6f5" />
<rect x="228.71" y="409.40" width="1.08" height="4.70" fill="#c6c6f5" />
<rect x="229.72" y="409.40" width="1.08" height="4.70" fill="#c5c5f5" />
<rect x="230.74" y="409.40" width="1.08" height="4.70" fill="#c5c5f5" />
<rect x="231.76" y="409.40" width="1.08" height="4.70" fill="#c5c5f5" />
<rect x="232.78" y="409.40" width="1.08" height="4.70" fill="#c4c4f5" />
<rect x="233.80" y="409.40" width="1.08" height="4.70" fill="#c4c4f5" />
<rect x="234.82" y="409.40" width="1.08" height="4.70" fill="#c3c3f4" />
<rect x="235.83" y="409.40" width="1.08" height="4.70" fill="#c3c3f4" />
<rect x="236.85" y="409.40" width="1.08" height="4.70" fill="#c3c3f4" />
<rect x="237.87" y="409.40" width="1.08" height="4.70" fill="#c2c2f4" />
<rect x="238.89" y="409.40" width="1.08" height="4.70" fill="#c2c2f4" />
<rect x="239.91" y="409.40" width="1.08" height="4.70" fill="#c2c2f4" />
<rect x="240.93" y="409.40" width="1.08" height="4.70" fill="#c1c1f4" />
<rect x="241.94" y="409.40" width="1.08" height="4.70" fill="#c1c1f4" />
<rect x="242.96" y="409.40" width="1.08" height="4.70" fill="#c0c0f4" />
<rect x="243.98" y="409.40" width="1.08" height="4.70" fill="#c0c0f4" />
<rect x="245.00" y="409.40" width="1.06" height="4.70" fill="#645af0" />
<rect x="246.00" y="409.40" width="1.06" height="4.70" fill="#6156ef" />
<rect x="247.00" y="409.40" width="1.06" height="4.70" fill="#5d52ee" />
<rect x="248.00" y="409.40" width="1.06" height="4.70" fill="#5a4fed" />
<rect x="249.00" y="409.40" width="1.06" height="4.70" fill="#574bec" />
<rect x="250.00" y="409.40" width="1.06" height="4.70" fill="#5347ec" />
<rect x="251.00" y="409.40" width="1.06" height="4.70" fill="#5043eb" />
<rect x="252.00" y="409.40" width="1.06" height="4.70" fill="#4d40ea" />
<rect x="253.00" y="409.40" width="1.06" height="4.70" fill="#493ce9" />
<rect x="254.00" y="409.40" width="1.06" height="4.70" fill="#4638e8" />
<rect x="255.00" y="409.40" width="1.15" height="4.70" fill="#2408d6" />
<rect x="256.09" y="409.40" width="1.15" height="4.70" fill="#2507d3" />
<rect x="257.18" y="409.40" width="1.15" height="4.70" fill="#2507cf" />
<rect x="258.26" y="409.40" width="1.15" height="4.70" fill="#2606cc" />
<rect x="259.35" y="409.40" width="1.15" height="4.70" fill="#2606c8" />
<rect x="260.44" y="409.40" width="1.15" height="4.70" fill="#2705c5" />
<rect x="261.52" y="409.40" width="1.15" height="4.70" fill="#2705c1" />
<rect x="262.61" y="409.40" width="1.15" height="4.70" fill="#2804be" />
<line x1="141.70" y1="390.90" x2="270.30" y2="390.90" stroke="#d0d0d0" stroke-width="0.6" />
<path d="M141.7,344.4 145.0,340.0 149.0,336.0 152.4,334.6 157.0,335.5 162.0,338.0 170.0,343.0 185.0,355.0 200.0,367.0 215.0,378.0 225.0,384.0 234.1,387.3 240.0,385.5 245.0,382.0 250.0,377.0 254.0,373.0 257.0,368.0 260.0,358.0 262.0,350.0 263.8,344.8" fill="none" stroke="#3de33d" stroke-width="1.5" stroke-linejoin="round"/>
<rect x="141.7" y="332.2" width="128.6" height="82.3" fill="none" stroke="#7a7a7a" stroke-width="0.8"/>
<text x="140.00" y="348.00" font-size="9.6" fill="#231f20" stroke="#231f20" stroke-width="0.08" text-anchor="end" >0.0</text>
<text x="140.00" y="366.10" font-size="9.6" fill="#231f20" stroke="#231f20" stroke-width="0.08" text-anchor="end" >-0.2</text>
<text x="140.00" y="384.20" font-size="9.6" fill="#231f20" stroke="#231f20" stroke-width="0.08" text-anchor="end" >-0.4</text>
<text x="143.80" y="371.00" font-size="10.2" fill="#231f20" stroke="#231f20" stroke-width="0.08" textLength="38" lengthAdjust="spacingAndGlyphs" >NES 1.38</text>
<text x="143.80" y="382.30" font-size="10.2" fill="#231f20" stroke="#231f20" stroke-width="0.08" textLength="38" lengthAdjust="spacingAndGlyphs" >FDR 0.03</text>
<text x="208.05" y="318.10" font-size="10.2" fill="#231f20" stroke="#231f20" stroke-width="0.08" text-anchor="middle" textLength="111" lengthAdjust="spacingAndGlyphs" >Genes inhibited by CDK9</text>
<text x="208.75" y="328.60" font-size="10.2" fill="#231f20" stroke="#231f20" stroke-width="0.08" text-anchor="middle" textLength="106.5" lengthAdjust="spacingAndGlyphs" >inhibitor VIP152 (n=754)</text>
<text x="238.20" y="352.20" font-size="7.0" fill="#231f20" stroke="#231f20" stroke-width="0.08" textLength="28.5" lengthAdjust="spacingAndGlyphs" >CDKN1B</text>
<text x="238.80" y="360.80" font-size="7.0" fill="#231f20" stroke="#231f20" stroke-width="0.08" textLength="23" lengthAdjust="spacingAndGlyphs" >NEAT1</text>
<text x="238.80" y="370.00" font-size="7.0" fill="#231f20" stroke="#231f20" stroke-width="0.08" textLength="16" lengthAdjust="spacingAndGlyphs" >IRF1</text>
<text x="235.10" y="377.70" font-size="7.0" fill="#231f20" stroke="#231f20" stroke-width="0.08" textLength="18" lengthAdjust="spacingAndGlyphs" >XBP1</text>
<text x="232.10" y="385.70" font-size="7.0" fill="#231f20" stroke="#231f20" stroke-width="0.08" textLength="18.5" lengthAdjust="spacingAndGlyphs" >BTG1</text>
<line x1="266.50" y1="354.00" x2="262.70" y2="389.40" stroke="#444" stroke-width="0.4" />
<line x1="261.50" y1="362.00" x2="262.70" y2="389.40" stroke="#444" stroke-width="0.4" />
<line x1="255.00" y1="370.50" x2="262.70" y2="389.40" stroke="#444" stroke-width="0.4" />
<line x1="253.50" y1="378.00" x2="262.70" y2="389.40" stroke="#444" stroke-width="0.4" />
<line x1="251.00" y1="384.50" x2="262.70" y2="389.40" stroke="#444" stroke-width="0.4" />
<text x="161.00" y="426.30" font-size="10.2" fill="#f01818" stroke="#f01818" stroke-width="0.08" text-anchor="middle" textLength="52" lengthAdjust="spacingAndGlyphs" >genes more</text>
<text x="161.00" y="435.65" font-size="10.2" fill="#f01818" stroke="#f01818" stroke-width="0.08" text-anchor="middle" textLength="74.3" lengthAdjust="spacingAndGlyphs" >highly expressed</text>
<text x="161.00" y="445.00" font-size="10.2" fill="#f01818" stroke="#f01818" stroke-width="0.08" text-anchor="middle" textLength="60.5" lengthAdjust="spacingAndGlyphs" >in CCT068127</text>
<text x="251.00" y="426.30" font-size="10.2" fill="#1a1af0" stroke="#1a1af0" stroke-width="0.08" text-anchor="middle" textLength="52" lengthAdjust="spacingAndGlyphs" >genes more</text>
<text x="251.00" y="435.65" font-size="10.2" fill="#1a1af0" stroke="#1a1af0" stroke-width="0.08" text-anchor="middle" textLength="74.3" lengthAdjust="spacingAndGlyphs" >highly expressed</text>
<text x="251.00" y="445.00" font-size="10.2" fill="#1a1af0" stroke="#1a1af0" stroke-width="0.08" text-anchor="middle" textLength="38.5" lengthAdjust="spacingAndGlyphs" >in DMSO</text>
<text x="289.10" y="194.70" font-size="12.8" fill="#000" font-weight="bold" stroke="#000" stroke-width="0.4">d</text>
<text x="316.50" y="255.30" font-size="10.2" fill="#231f20" stroke="#231f20" stroke-width="0.08" text-anchor="middle" transform="rotate(-90 316.50 255.30)" textLength="88" lengthAdjust="spacingAndGlyphs" >Enrichment score</text>
<line x1="336.70" y1="220.30" x2="465.40" y2="220.30" stroke="#e4e4e4" stroke-width="0.6" />
<line x1="336.70" y1="236.30" x2="465.40" y2="236.30" stroke="#e4e4e4" stroke-width="0.6" />
<line x1="336.70" y1="269.00" x2="465.40" y2="269.00" stroke="#e4e4e4" stroke-width="0.6" />
<line x1="353.00" y1="216.10" x2="353.00" y2="275.20" stroke="#eeeeee" stroke-width="0.6" />
<line x1="369.00" y1="216.10" x2="369.00" y2="275.20" stroke="#eeeeee" stroke-width="0.6" />
<line x1="385.00" y1="216.10" x2="385.00" y2="275.20" stroke="#eeeeee" stroke-width="0.6" />
<line x1="401.00" y1="216.10" x2="401.00" y2="275.20" stroke="#eeeeee" stroke-width="0.6" />
<line x1="417.00" y1="216.10" x2="417.00" y2="275.20" stroke="#eeeeee" stroke-width="0.6" />
<line x1="433.00" y1="216.10" x2="433.00" y2="275.20" stroke="#eeeeee" stroke-width="0.6" />
<line x1="449.00" y1="216.10" x2="449.00" y2="275.20" stroke="#eeeeee" stroke-width="0.6" />
<line x1="336.70" y1="253.30" x2="465.40" y2="253.30" stroke="#c4c4c4" stroke-width="0.7" />
<rect x="336.90" y="275.20" width="1.90" height="18.50" fill="#555555" />
<rect x="338.80" y="275.20" width="2.80" height="18.50" fill="#444444" />
<rect x="342.10" y="275.20" width="2.40" height="18.50" fill="#999999" />
<rect x="344.50" y="275.20" width="2.40" height="18.50" fill="#888888" />
<rect x="351.10" y="275.20" width="2.90" height="18.50" fill="#888888" />
<rect x="354.40" y="275.20" width="2.40" height="18.50" fill="#aaaaaa" />
<rect x="356.80" y="275.20" width="2.40" height="18.50" fill="#777777" />
<rect x="360.10" y="275.20" width="3.40" height="18.50" fill="#888888" />
<rect x="364.90" y="275.20" width="1.90" height="18.50" fill="#222222" />
<rect x="379.60" y="275.20" width="2.80" height="18.50" fill="#999999" />
<rect x="382.40" y="275.20" width="1.90" height="18.50" fill="#555555" />
<rect x="384.30" y="275.20" width="2.90" height="18.50" fill="#333333" />
<rect x="400.40" y="275.20" width="1.90" height="18.50" fill="#222222" />
<rect x="408.40" y="275.20" width="2.90" height="18.50" fill="#aaaaaa" />
<rect x="411.30" y="275.20" width="1.90" height="18.50" fill="#999999" />
<rect x="413.70" y="275.20" width="1.90" height="18.50" fill="#444444" />
<rect x="418.40" y="275.20" width="2.60" height="18.50" fill="#666666" />
<rect x="421.00" y="275.20" width="2.60" height="18.50" fill="#777777" />
<rect x="425.00" y="275.20" width="2.40" height="18.50" fill="#999999" />
<rect x="431.70" y="275.20" width="2.40" height="18.50" fill="#aaaaaa" />
<rect x="434.10" y="275.20" width="1.90" height="18.50" fill="#888888" />
<rect x="437.80" y="275.20" width="1.90" height="18.50" fill="#999999" />
<rect x="439.70" y="275.20" width="2.90" height="18.50" fill="#bbbbbb" />
<rect x="442.60" y="275.20" width="2.80" height="18.50" fill="#cccccc" />
<rect x="447.30" y="275.20" width="1.90" height="18.50" fill="#dddddd" />
<rect x="449.70" y="275.20" width="1.40" height="18.50" fill="#cccccc" />
<rect x="454.50" y="275.20" width="2.50" height="18.50" fill="#666666" />
<rect x="457.00" y="275.20" width="2.50" height="18.50" fill="#777777" />
<rect x="336.90" y="293.70" width="1.06" height="4.80" fill="#ec0a20" />
<rect x="337.90" y="293.70" width="1.06" height="4.80" fill="#ec0c22" />
<rect x="338.91" y="293.70" width="1.06" height="4.80" fill="#ec0f25" />
<rect x="339.91" y="293.70" width="1.06" height="4.80" fill="#ed1127" />
<rect x="340.91" y="293.70" width="1.06" height="4.80" fill="#ed1429" />
<rect x="341.92" y="293.70" width="1.06" height="4.80" fill="#ed162c" />
<rect x="342.92" y="293.70" width="1.06" height="4.80" fill="#ed182e" />
<rect x="343.93" y="293.70" width="1.06" height="4.80" fill="#ee1b30" />
<rect x="344.93" y="293.70" width="1.06" height="4.80" fill="#ee1d32" />
<rect x="345.93" y="293.70" width="1.06" height="4.80" fill="#ee1f35" />
<rect x="346.94" y="293.70" width="1.06" height="4.80" fill="#ee2237" />
<rect x="347.94" y="293.70" width="1.06" height="4.80" fill="#ef2439" />
<rect x="348.94" y="293.70" width="1.06" height="4.80" fill="#ef273c" />
<rect x="349.95" y="293.70" width="1.06" height="4.80" fill="#ef293e" />
<rect x="350.95" y="293.70" width="1.06" height="4.80" fill="#ef2b40" />
<rect x="351.96" y="293.70" width="1.06" height="4.80" fill="#ef2e43" />
<rect x="352.96" y="293.70" width="1.06" height="4.80" fill="#f03045" />
<rect x="353.96" y="293.70" width="1.06" height="4.80" fill="#f03347" />
<rect x="354.97" y="293.70" width="1.06" height="4.80" fill="#f0354a" />
<rect x="355.97" y="293.70" width="1.06" height="4.80" fill="#f0374c" />
<rect x="356.97" y="293.70" width="1.06" height="4.80" fill="#f13a4e" />
<rect x="357.98" y="293.70" width="1.06" height="4.80" fill="#f13c50" />
<rect x="358.98" y="293.70" width="1.06" height="4.80" fill="#f13e53" />
<rect x="359.99" y="293.70" width="1.06" height="4.80" fill="#f14155" />
<rect x="360.99" y="293.70" width="1.06" height="4.80" fill="#f24357" />
<rect x="361.99" y="293.70" width="1.06" height="4.80" fill="#f2465a" />
<rect x="363.00" y="293.70" width="1.06" height="4.80" fill="#f2485c" />
<rect x="364.00" y="293.70" width="1.07" height="4.80" fill="#f8acd8" />
<rect x="365.01" y="293.70" width="1.07" height="4.80" fill="#f8acd8" />
<rect x="366.02" y="293.70" width="1.07" height="4.80" fill="#f8acd8" />
<rect x="367.02" y="293.70" width="1.07" height="4.80" fill="#f8acd8" />
<rect x="368.03" y="293.70" width="1.07" height="4.80" fill="#f8acd8" />
<rect x="369.04" y="293.70" width="1.07" height="4.80" fill="#f8acd8" />
<rect x="370.05" y="293.70" width="1.07" height="4.80" fill="#f8acd8" />
<rect x="371.06" y="293.70" width="1.07" height="4.80" fill="#f8acd8" />
<rect x="372.06" y="293.70" width="1.07" height="4.80" fill="#f8acd8" />
<rect x="373.07" y="293.70" width="1.07" height="4.80" fill="#f8acd8" />
<rect x="374.08" y="293.70" width="1.07" height="4.80" fill="#f8acd8" />
<rect x="375.09" y="293.70" width="1.07" height="4.80" fill="#f8acd8" />
<rect x="376.09" y="293.70" width="1.07" height="4.80" fill="#f8acd8" />
<rect x="377.10" y="293.70" width="1.07" height="4.80" fill="#f8acd8" />
<rect x="378.11" y="293.70" width="1.07" height="4.80" fill="#f8acd8" />
<rect x="379.12" y="293.70" width="1.07" height="4.80" fill="#f8acd8" />
<rect x="380.13" y="293.70" width="1.07" height="4.80" fill="#f8acd8" />
<rect x="381.13" y="293.70" width="1.07" height="4.80" fill="#f8acd8" />
<rect x="382.14" y="293.70" width="1.07" height="4.80" fill="#f8acd8" />
<rect x="383.15" y="293.70" width="1.07" height="4.80" fill="#f8acd8" />
<rect x="384.16" y="293.70" width="1.07" height="4.80" fill="#f8acd8" />
<rect x="385.17" y="293.70" width="1.07" height="4.80" fill="#f8acd8" />
<rect x="386.17" y="293.70" width="1.07" height="4.80" fill="#f8acd8" />
<rect x="387.18" y="293.70" width="1.07" height="4.80" fill="#f8acd8" />
<rect x="388.19" y="293.70" width="1.07" height="4.80" fill="#f8acd8" />
<rect x="389.20" y="293.70" width="1.07" height="4.80" fill="#f8acd8" />
<rect x="390.21" y="293.70" width="1.07" height="4.80" fill="#f8acd8" />
<rect x="391.21" y="293.70" width="1.07" height="4.80" fill="#f8acd8" />
<rect x="392.22" y="293.70" width="1.07" height="4.80" fill="#f8acd8" />
<rect x="393.23" y="293.70" width="1.07" height="4.80" fill="#f8acd8" />
<rect x="394.24" y="293.70" width="1.07" height="4.80" fill="#f8acd8" />
<rect x="395.24" y="293.70" width="1.07" height="4.80" fill="#f8acd8" />
<rect x="396.25" y="293.70" width="1.07" height="4.80" fill="#f8acd8" />
<rect x="397.26" y="293.70" width="1.07" height="4.80" fill="#f8acd8" />
<rect x="398.27" y="293.70" width="1.07" height="4.80" fill="#f8acd8" />
<rect x="399.28" y="293.70" width="1.07" height="4.80" fill="#f8acd8" />
<rect x="400.28" y="293.70" width="1.07" height="4.80" fill="#f8acd8" />
<rect x="401.29" y="293.70" width="1.07" height="4.80" fill="#f8acd8" />
<rect x="402.30" y="293.70" width="1.08" height="4.80" fill="#cecef6" />
<rect x="403.32" y="293.70" width="1.08" height="4.80" fill="#cecef6" />
<rect x="404.34" y="293.70" width="1.08" height="4.80" fill="#cdcdf6" />
<rect x="405.36" y="293.70" width="1.08" height="4.80" fill="#cdcdf6" />
<rect x="406.38" y="293.70" width="1.08" height="4.80" fill="#ccccf6" />
<rect x="407.40" y="293.70" width="1.08" height="4.80" fill="#ccccf6" />
<rect x="408.42" y="293.70" width="1.08" height="4.80" fill="#cbcbf6" />
<rect x="409.44" y="293.70" width="1.08" height="4.80" fill="#cbcbf6" />
<rect x="410.46" y="293.70" width="1.08" height="4.80" fill="#cbcbf6" />
<rect x="411.49" y="293.70" width="1.08" height="4.80" fill="#cacaf5" />
<rect x="412.51" y="293.70" width="1.08" height="4.80" fill="#cacaf5" />
<rect x="413.53" y="293.70" width="1.08" height="4.80" fill="#c9c9f5" />
<rect x="414.55" y="293.70" width="1.08" height="4.80" fill="#c9c9f5" />
<rect x="415.57" y="293.70" width="1.08" height="4.80" fill="#c8c8f5" />
<rect x="416.59" y="293.70" width="1.08" height="4.80" fill="#c8c8f5" />
<rect x="417.61" y="293.70" width="1.08" height="4.80" fill="#c8c8f5" />
<rect x="418.63" y="293.70" width="1.08" height="4.80" fill="#c7c7f5" />
<rect x="419.65" y="293.70" width="1.08" height="4.80" fill="#c7c7f5" />
<rect x="420.67" y="293.70" width="1.08" height="4.80" fill="#c6c6f5" />
<rect x="421.69" y="293.70" width="1.08" height="4.80" fill="#c6c6f5" />
<rect x="422.71" y="293.70" width="1.08" height="4.80" fill="#c6c6f5" />
<rect x="423.73" y="293.70" width="1.08" height="4.80" fill="#c5c5f5" />
<rect x="424.75" y="293.70" width="1.08" height="4.80" fill="#c5c5f5" />
<rect x="425.77" y="293.70" width="1.08" height="4.80" fill="#c4c4f5" />
<rect x="426.79" y="293.70" width="1.08" height="4.80" fill="#c4c4f5" />
<rect x="427.81" y="293.70" width="1.08" height="4.80" fill="#c3c3f4" />
<rect x="428.84" y="293.70" width="1.08" height="4.80" fill="#c3c3f4" />
<rect x="429.86" y="293.70" width="1.08" height="4.80" fill="#c3c3f4" />
<rect x="430.88" y="293.70" width="1.08" height="4.80" fill="#c2c2f4" />
<rect x="431.90" y="293.70" width="1.08" height="4.80" fill="#c2c2f4" />
<rect x="432.92" y="293.70" width="1.08" height="4.80" fill="#c1c1f4" />
<rect x="433.94" y="293.70" width="1.08" height="4.80" fill="#c1c1f4" />
<rect x="434.96" y="293.70" width="1.08" height="4.80" fill="#c0c0f4" />
<rect x="435.98" y="293.70" width="1.08" height="4.80" fill="#c0c0f4" />
<rect x="437.00" y="293.70" width="1.10" height="4.80" fill="#645af0" />
<rect x="438.04" y="293.70" width="1.10" height="4.80" fill="#6257ef" />
<rect x="439.07" y="293.70" width="1.10" height="4.80" fill="#5f55ef" />
<rect x="440.11" y="293.70" width="1.10" height="4.80" fill="#5d52ee" />
<rect x="441.14" y="293.70" width="1.10" height="4.80" fill="#5b50ee" />
<rect x="442.18" y="293.70" width="1.10" height="4.80" fill="#584ded" />
<rect x="443.21" y="293.70" width="1.10" height="4.80" fill="#564aec" />
<rect x="444.25" y="293.70" width="1.10" height="4.80" fill="#5448ec" />
<rect x="445.29" y="293.70" width="1.10" height="4.80" fill="#5245eb" />
<rect x="446.32" y="293.70" width="1.10" height="4.80" fill="#4f42ea" />
<rect x="447.36" y="293.70" width="1.10" height="4.80" fill="#4d40ea" />
<rect x="448.39" y="293.70" width="1.10" height="4.80" fill="#4b3de9" />
<rect x="449.43" y="293.70" width="1.10" height="4.80" fill="#483be9" />
<rect x="450.46" y="293.70" width="1.10" height="4.80" fill="#4638e8" />
<rect x="451.50" y="293.70" width="1.08" height="4.80" fill="#2408d6" />
<rect x="452.52" y="293.70" width="1.08" height="4.80" fill="#2507d3" />
<rect x="453.55" y="293.70" width="1.08" height="4.80" fill="#2507cf" />
<rect x="454.57" y="293.70" width="1.08" height="4.80" fill="#2606cc" />
<rect x="455.60" y="293.70" width="1.08" height="4.80" fill="#2606c8" />
<rect x="456.62" y="293.70" width="1.08" height="4.80" fill="#2705c5" />
<rect x="457.65" y="293.70" width="1.08" height="4.80" fill="#2705c1" />
<rect x="458.68" y="293.70" width="1.08" height="4.80" fill="#2804be" />
<line x1="336.70" y1="275.20" x2="465.40" y2="275.20" stroke="#d0d0d0" stroke-width="0.6" />
<path d="M336.9,253.3 337.5,240.0 338.5,230.0 340.0,225.0 341.2,222.3 344.0,220.5 347.4,219.2 352.0,221.0 360.0,224.0 368.8,228.4 380.0,235.0 391.3,243.7 405.0,253.0 417.9,261.1 428.0,265.0 438.3,267.6 445.0,269.5 450.6,271.3 454.0,270.0 456.0,267.0 457.5,262.0 459.2,252.9" fill="none" stroke="#3de33d" stroke-width="1.5" stroke-linejoin="round"/>
<rect x="336.7" y="216.1" width="128.7" height="82.8" fill="none" stroke="#7a7a7a" stroke-width="0.8"/>
<text x="335.60" y="223.60" font-size="9.6" fill="#231f20" stroke="#231f20" stroke-width="0.08" text-anchor="end" >0.4</text>
<text x="335.60" y="239.60" font-size="9.6" fill="#231f20" stroke="#231f20" stroke-width="0.08" text-anchor="end" >0.2</text>
<text x="335.60" y="256.60" font-size="9.6" fill="#231f20" stroke="#231f20" stroke-width="0.08" text-anchor="end" >0.0</text>
<text x="335.60" y="272.30" font-size="9.6" fill="#231f20" stroke="#231f20" stroke-width="0.08" text-anchor="end" >-0.2</text>
<text x="461.00" y="229.00" font-size="10.2" fill="#231f20" stroke="#231f20" stroke-width="0.08" text-anchor="end" textLength="38" lengthAdjust="spacingAndGlyphs" >NES 1.34</text>
<text x="461.00" y="239.80" font-size="10.2" fill="#231f20" stroke="#231f20" stroke-width="0.08" text-anchor="end" textLength="43" lengthAdjust="spacingAndGlyphs" >FDR 0.016</text>
<text x="401.00" y="205.00" font-size="10.2" fill="#231f20" stroke="#231f20" stroke-width="0.08" text-anchor="middle" textLength="89" lengthAdjust="spacingAndGlyphs" >Favorable prognosis</text>
<text x="401.00" y="215.20" font-size="10.2" fill="#231f20" stroke="#231f20" stroke-width="0.08" text-anchor="middle" textLength="62" lengthAdjust="spacingAndGlyphs" >(n=143 genes)</text>
<text x="341.90" y="256.20" font-size="7.0" fill="#231f20" stroke="#231f20" stroke-width="0.08" textLength="17" lengthAdjust="spacingAndGlyphs" >DIO3</text>
<text x="348.60" y="264.00" font-size="7.0" fill="#231f20" stroke="#231f20" stroke-width="0.08" textLength="23" lengthAdjust="spacingAndGlyphs" >PRDX4</text>
<line x1="341.50" y1="258.00" x2="337.50" y2="274.50" stroke="#444" stroke-width="0.4" />
<line x1="348.00" y1="266.00" x2="339.50" y2="275.00" stroke="#444" stroke-width="0.4" />
<line x1="498.20" y1="250.30" x2="626.50" y2="250.30" stroke="#e4e4e4" stroke-width="0.6" />
<line x1="498.20" y1="268.40" x2="626.50" y2="268.40" stroke="#e4e4e4" stroke-width="0.6" />
<line x1="514.00" y1="216.70" x2="514.00" y2="275.70" stroke="#eeeeee" stroke-width="0.6" />
<line x1="530.00" y1="216.70" x2="530.00" y2="275.70" stroke="#eeeeee" stroke-width="0.6" />
<line x1="546.00" y1="216.70" x2="546.00" y2="275.70" stroke="#eeeeee" stroke-width="0.6" />
<line x1="562.00" y1="216.70" x2="562.00" y2="275.70" stroke="#eeeeee" stroke-width="0.6" />
<line x1="578.00" y1="216.70" x2="578.00" y2="275.70" stroke="#eeeeee" stroke-width="0.6" />
<line x1="594.00" y1="216.70" x2="594.00" y2="275.70" stroke="#eeeeee" stroke-width="0.6" />
<line x1="610.00" y1="216.70" x2="610.00" y2="275.70" stroke="#eeeeee" stroke-width="0.6" />
<line x1="498.20" y1="231.90" x2="626.50" y2="231.90" stroke="#c4c4c4" stroke-width="0.7" />
<rect x="498.40" y="275.70" width="1.90" height="18.40" fill="#777777" />
<rect x="500.30" y="275.70" width="2.30" height="18.40" fill="#bbbbbb" />
<rect x="503.10" y="275.70" width="1.90" height="18.40" fill="#888888" />
<rect x="505.00" y="275.70" width="3.80" height="18.40" fill="#dddddd" />
<rect x="508.80" y="275.70" width="1.40" height="18.40" fill="#666666" />
<rect x="510.20" y="275.70" width="1.80" height="18.40" fill="#999999" />
<rect x="512.00" y="275.70" width="2.00" height="18.40" fill="#aaaaaa" />
<rect x="514.50" y="275.70" width="3.30" height="18.40" fill="#bbbbbb" />
<rect x="517.80" y="275.70" width="3.80" height="18.40" fill="#666666" />
<rect x="521.60" y="275.70" width="2.90" height="18.40" fill="#999999" />
<rect x="527.30" y="275.70" width="1.40" height="18.40" fill="#555555" />
<rect x="534.00" y="275.70" width="1.40" height="18.40" fill="#cccccc" />
<rect x="542.00" y="275.70" width="1.90" height="18.40" fill="#aaaaaa" />
<rect x="544.90" y="275.70" width="0.90" height="18.40" fill="#888888" />
<rect x="547.70" y="275.70" width="1.00" height="18.40" fill="#999999" />
<rect x="560.80" y="275.70" width="1.50" height="18.40" fill="#555555" />
<rect x="563.20" y="275.70" width="1.00" height="18.40" fill="#cccccc" />
<rect x="567.00" y="275.70" width="1.00" height="18.40" fill="#555555" />
<rect x="568.00" y="275.70" width="4.20" height="18.40" fill="#999999" />
<rect x="574.10" y="275.70" width="1.90" height="18.40" fill="#777777" />
<rect x="576.00" y="275.70" width="3.80" height="18.40" fill="#bbbbbb" />
<rect x="579.80" y="275.70" width="1.40" height="18.40" fill="#666666" />
<rect x="581.20" y="275.70" width="5.30" height="18.40" fill="#cccccc" />
<rect x="586.50" y="275.70" width="1.40" height="18.40" fill="#999999" />
<rect x="588.80" y="275.70" width="1.50" height="18.40" fill="#777777" />
<rect x="592.20" y="275.70" width="1.90" height="18.40" fill="#555555" />
<rect x="596.00" y="275.70" width="1.80" height="18.40" fill="#777777" />
<rect x="598.80" y="275.70" width="3.80" height="18.40" fill="#333333" />
<rect x="602.60" y="275.70" width="1.90" height="18.40" fill="#888888" />
<rect x="604.50" y="275.70" width="4.70" height="18.40" fill="#282828" />
<rect x="609.20" y="275.70" width="2.90" height="18.40" fill="#888888" />
<rect x="614.00" y="275.70" width="1.40" height="18.40" fill="#666666" />
<rect x="617.80" y="275.70" width="1.90" height="18.40" fill="#777777" />
<rect x="498.40" y="294.10" width="1.08" height="4.40" fill="#ec0a20" />
<rect x="499.42" y="294.10" width="1.08" height="4.40" fill="#ec0c22" />
<rect x="500.45" y="294.10" width="1.08" height="4.40" fill="#ec0f25" />
<rect x="501.47" y="294.10" width="1.08" height="4.40" fill="#ed1127" />
<rect x="502.49" y="294.10" width="1.08" height="4.40" fill="#ed142a" />
<rect x="503.52" y="294.10" width="1.08" height="4.40" fill="#ed162c" />
<rect x="504.54" y="294.10" width="1.08" height="4.40" fill="#ed192e" />
<rect x="505.56" y="294.10" width="1.08" height="4.40" fill="#ee1b31" />
<rect x="506.58" y="294.10" width="1.08" height="4.40" fill="#ee1e33" />
<rect x="507.61" y="294.10" width="1.08" height="4.40" fill="#ee2036" />
<rect x="508.63" y="294.10" width="1.08" height="4.40" fill="#ee2338" />
<rect x="509.65" y="294.10" width="1.08" height="4.40" fill="#ef253a" />
<rect x="510.68" y="294.10" width="1.08" height="4.40" fill="#ef283d" />
<rect x="511.70" y="294.10" width="1.08" height="4.40" fill="#ef2a3f" />
<rect x="512.72" y="294.10" width="1.08" height="4.40" fill="#ef2d42" />
<rect x="513.75" y="294.10" width="1.08" height="4.40" fill="#f02f44" />
<rect x="514.77" y="294.10" width="1.08" height="4.40" fill="#f03246" />
<rect x="515.79" y="294.10" width="1.08" height="4.40" fill="#f03449" />
<rect x="516.82" y="294.10" width="1.08" height="4.40" fill="#f0374b" />
<rect x="517.84" y="294.10" width="1.08" height="4.40" fill="#f1394e" />
<rect x="518.86" y="294.10" width="1.08" height="4.40" fill="#f13c50" />
<rect x="519.88" y="294.10" width="1.08" height="4.40" fill="#f13e52" />
<rect x="520.91" y="294.10" width="1.08" height="4.40" fill="#f14155" />
<rect x="521.93" y="294.10" width="1.08" height="4.40" fill="#f24357" />
<rect x="522.95" y="294.10" width="1.08" height="4.40" fill="#f2465a" />
<rect x="523.98" y="294.10" width="1.08" height="4.40" fill="#f2485c" />
<rect x="525.00" y="294.10" width="1.07" height="4.40" fill="#f8acd8" />
<rect x="526.01" y="294.10" width="1.07" height="4.40" fill="#f8acd8" />
<rect x="527.02" y="294.10" width="1.07" height="4.40" fill="#f8acd8" />
<rect x="528.02" y="294.10" width="1.07" height="4.40" fill="#f8acd8" />
<rect x="529.03" y="294.10" width="1.07" height="4.40" fill="#f8acd8" />
<rect x="530.04" y="294.10" width="1.07" height="4.40" fill="#f8acd8" />
<rect x="531.05" y="294.10" width="1.07" height="4.40" fill="#f8acd8" />
<rect x="532.06" y="294.10" width="1.07" height="4.40" fill="#f8acd8" />
<rect x="533.06" y="294.10" width="1.07" height="4.40" fill="#f8acd8" />
<rect x="534.07" y="294.10" width="1.07" height="4.40" fill="#f8acd8" />
<rect x="535.08" y="294.10" width="1.07" height="4.40" fill="#f8acd8" />
<rect x="536.09" y="294.10" width="1.07" height="4.40" fill="#f8acd8" />
<rect x="537.10" y="294.10" width="1.07" height="4.40" fill="#f8acd8" />
<rect x="538.11" y="294.10" width="1.07" height="4.40" fill="#f8acd8" />
<rect x="539.11" y="294.10" width="1.07" height="4.40" fill="#f8acd8" />
<rect x="540.12" y="294.10" width="1.07" height="4.40" fill="#f8acd8" />
<rect x="541.13" y="294.10" width="1.07" height="4.40" fill="#f8acd8" />
<rect x="542.14" y="294.10" width="1.07" height="4.40" fill="#f8acd8" />
<rect x="543.15" y="294.10" width="1.07" height="4.40" fill="#f8acd8" />
<rect x="544.15" y="294.10" width="1.07" height="4.40" fill="#f8acd8" />
<rect x="545.16" y="294.10" width="1.07" height="4.40" fill="#f8acd8" />
<rect x="546.17" y="294.10" width="1.07" height="4.40" fill="#f8acd8" />
<rect x="547.18" y="294.10" width="1.07" height="4.40" fill="#f8acd8" />
<rect x="548.19" y="294.10" width="1.07" height="4.40" fill="#f8acd8" />
<rect x="549.19" y="294.10" width="1.07" height="4.40" fill="#f8acd8" />
<rect x="550.20" y="294.10" width="1.07" height="4.40" fill="#f8acd8" />
<rect x="551.21" y="294.10" width="1.07" height="4.40" fill="#f8acd8" />
<rect x="552.22" y="294.10" width="1.07" height="4.40" fill="#f8acd8" />
<rect x="553.23" y="294.10" width="1.07" height="4.40" fill="#f8acd8" />
<rect x="554.24" y="294.10" width="1.07" height="4.40" fill="#f8acd8" />
<rect x="555.24" y="294.10" width="1.07" height="4.40" fill="#f8acd8" />
<rect x="556.25" y="294.10" width="1.07" height="4.40" fill="#f8acd8" />
<rect x="557.26" y="294.10" width="1.07" height="4.40" fill="#f8acd8" />
<rect x="558.27" y="294.10" width="1.07" height="4.40" fill="#f8acd8" />
<rect x="559.28" y="294.10" width="1.07" height="4.40" fill="#f8acd8" />
<rect x="560.28" y="294.10" width="1.07" height="4.40" fill="#f8acd8" />
<rect x="561.29" y="294.10" width="1.07" height="4.40" fill="#f8acd8" />
<rect x="562.30" y="294.10" width="1.07" height="4.40" fill="#cecef6" />
<rect x="563.31" y="294.10" width="1.07" height="4.40" fill="#cecef6" />
<rect x="564.31" y="294.10" width="1.07" height="4.40" fill="#cdcdf6" />
<rect x="565.32" y="294.10" width="1.07" height="4.40" fill="#cdcdf6" />
<rect x="566.32" y="294.10" width="1.07" height="4.40" fill="#ccccf6" />
<rect x="567.33" y="294.10" width="1.07" height="4.40" fill="#ccccf6" />
<rect x="568.33" y="294.10" width="1.07" height="4.40" fill="#ccccf6" />
<rect x="569.34" y="294.10" width="1.07" height="4.40" fill="#cbcbf6" />
<rect x="570.35" y="294.10" width="1.07" height="4.40" fill="#cbcbf6" />
<rect x="571.35" y="294.10" width="1.07" height="4.40" fill="#cacaf5" />
<rect x="572.36" y="294.10" width="1.07" height="4.40" fill="#cacaf5" />
<rect x="573.36" y="294.10" width="1.07" height="4.40" fill="#c9c9f5" />
<rect x="574.37" y="294.10" width="1.07" height="4.40" fill="#c9c9f5" />
<rect x="575.37" y="294.10" width="1.07" height="4.40" fill="#c9c9f5" />
<rect x="576.38" y="294.10" width="1.07" height="4.40" fill="#c8c8f5" />
<rect x="577.39" y="294.10" width="1.07" height="4.40" fill="#c8c8f5" />
<rect x="578.39" y="294.10" width="1.07" height="4.40" fill="#c7c7f5" />
<rect x="579.40" y="294.10" width="1.07" height="4.40" fill="#c7c7f5" />
<rect x="580.40" y="294.10" width="1.07" height="4.40" fill="#c7c7f5" />
<rect x="581.41" y="294.10" width="1.07" height="4.40" fill="#c6c6f5" />
<rect x="582.41" y="294.10" width="1.07" height="4.40" fill="#c6c6f5" />
<rect x="583.42" y="294.10" width="1.07" height="4.40" fill="#c5c5f5" />
<rect x="584.43" y="294.10" width="1.07" height="4.40" fill="#c5c5f5" />
<rect x="585.43" y="294.10" width="1.07" height="4.40" fill="#c5c5f5" />
<rect x="586.44" y="294.10" width="1.07" height="4.40" fill="#c4c4f5" />
<rect x="587.44" y="294.10" width="1.07" height="4.40" fill="#c4c4f5" />
<rect x="588.45" y="294.10" width="1.07" height="4.40" fill="#c3c3f4" />
<rect x="589.45" y="294.10" width="1.07" height="4.40" fill="#c3c3f4" />
<rect x="590.46" y="294.10" width="1.07" height="4.40" fill="#c2c2f4" />
<rect x="591.47" y="294.10" width="1.07" height="4.40" fill="#c2c2f4" />
<rect x="592.47" y="294.10" width="1.07" height="4.40" fill="#c2c2f4" />
<rect x="593.48" y="294.10" width="1.07" height="4.40" fill="#c1c1f4" />
<rect x="594.48" y="294.10" width="1.07" height="4.40" fill="#c1c1f4" />
<rect x="595.49" y="294.10" width="1.07" height="4.40" fill="#c0c0f4" />
<rect x="596.49" y="294.10" width="1.07" height="4.40" fill="#c0c0f4" />
<rect x="597.50" y="294.10" width="1.06" height="4.40" fill="#645af0" />
<rect x="598.50" y="294.10" width="1.06" height="4.40" fill="#6257ef" />
<rect x="599.50" y="294.10" width="1.06" height="4.40" fill="#5f55ef" />
<rect x="600.50" y="294.10" width="1.06" height="4.40" fill="#5d52ee" />
<rect x="601.50" y="294.10" width="1.06" height="4.40" fill="#5b50ee" />
<rect x="602.50" y="294.10" width="1.06" height="4.40" fill="#584ded" />
<rect x="603.50" y="294.10" width="1.06" height="4.40" fill="#564aec" />
<rect x="604.50" y="294.10" width="1.06" height="4.40" fill="#5448ec" />
<rect x="605.50" y="294.10" width="1.06" height="4.40" fill="#5245eb" />
<rect x="606.50" y="294.10" width="1.06" height="4.40" fill="#4f42ea" />
<rect x="607.50" y="294.10" width="1.06" height="4.40" fill="#4d40ea" />
<rect x="608.50" y="294.10" width="1.06" height="4.40" fill="#4b3de9" />
<rect x="609.50" y="294.10" width="1.06" height="4.40" fill="#483be9" />
<rect x="610.50" y="294.10" width="1.06" height="4.40" fill="#4638e8" />
<rect x="611.50" y="294.10" width="1.12" height="4.40" fill="#2408d6" />
<rect x="612.56" y="294.10" width="1.12" height="4.40" fill="#2507d3" />
<rect x="613.62" y="294.10" width="1.12" height="4.40" fill="#2507cf" />
<rect x="614.69" y="294.10" width="1.12" height="4.40" fill="#2606cc" />
<rect x="615.75" y="294.10" width="1.12" height="4.40" fill="#2606c8" />
<rect x="616.81" y="294.10" width="1.12" height="4.40" fill="#2705c5" />
<rect x="617.88" y="294.10" width="1.12" height="4.40" fill="#2705c1" />
<rect x="618.94" y="294.10" width="1.12" height="4.40" fill="#2804be" />
<line x1="498.20" y1="275.70" x2="626.50" y2="275.70" stroke="#d0d0d0" stroke-width="0.6" />
<path d="M498.4,231.5 500.0,224.0 503.3,219.8 510.0,220.5 516.0,221.5 522.7,223.3 530.0,229.0 540.0,237.0 551.3,245.8 565.0,255.5 579.9,265.2 588.0,269.0 596.3,271.3 600.0,268.0 602.4,264.2 605.0,257.0 608.5,246.8 611.0,243.0 614.7,237.6 617.0,234.0 619.8,230.4" fill="none" stroke="#3de33d" stroke-width="1.5" stroke-linejoin="round"/>
<rect x="498.2" y="216.7" width="128.3" height="82.2" fill="none" stroke="#7a7a7a" stroke-width="0.8"/>
<text x="495.30" y="235.20" font-size="9.6" fill="#231f20" stroke="#231f20" stroke-width="0.08" text-anchor="end" >0.0</text>
<text x="495.30" y="253.60" font-size="9.6" fill="#231f20" stroke="#231f20" stroke-width="0.08" text-anchor="end" >0.2</text>
<text x="495.30" y="271.70" font-size="9.6" fill="#231f20" stroke="#231f20" stroke-width="0.08" text-anchor="end" >-0.4</text>
<text x="500.00" y="258.20" font-size="10.2" fill="#231f20" stroke="#231f20" stroke-width="0.08" textLength="43" lengthAdjust="spacingAndGlyphs" >NES -1.23</text>
<text x="500.00" y="269.30" font-size="10.2" fill="#231f20" stroke="#231f20" stroke-width="0.08" textLength="43" lengthAdjust="spacingAndGlyphs" >FDR 0.087</text>
<text x="561.25" y="205.00" font-size="10.2" fill="#231f20" stroke="#231f20" stroke-width="0.08" text-anchor="middle" textLength="100.7" lengthAdjust="spacingAndGlyphs" >Unfavorable prognosis</text>
<text x="562.00" y="215.20" font-size="10.2" fill="#231f20" stroke="#231f20" stroke-width="0.08" text-anchor="middle" textLength="64.2" lengthAdjust="spacingAndGlyphs" >(n=123 genes)</text>
<text x="581.80" y="260.30" font-size="7.0" fill="#231f20" stroke="#231f20" stroke-width="0.08" textLength="23" lengthAdjust="spacingAndGlyphs" >KPNB1</text>
<text x="576.60" y="269.30" font-size="7.0" fill="#231f20" stroke="#231f20" stroke-width="0.08" textLength="17" lengthAdjust="spacingAndGlyphs" >XAF1</text>
<text x="607.20" y="264.00" font-size="7.0" fill="#231f20" stroke="#231f20" stroke-width="0.08" textLength="21" lengthAdjust="spacingAndGlyphs" >PIAS1</text>
<line x1="593.50" y1="268.00" x2="605.00" y2="275.50" stroke="#444" stroke-width="0.4" />
<line x1="585.00" y1="262.00" x2="604.00" y2="275.50" stroke="#444" stroke-width="0.4" />
<line x1="612.00" y1="266.00" x2="606.00" y2="275.50" stroke="#444" stroke-width="0.4" />
<text x="360.20" y="307.90" font-size="10.2" fill="#f01818" stroke="#f01818" stroke-width="0.08" text-anchor="middle" textLength="52" lengthAdjust="spacingAndGlyphs" >genes more</text>
<text x="360.20" y="317.25" font-size="10.2" fill="#f01818" stroke="#f01818" stroke-width="0.08" text-anchor="middle" textLength="74.3" lengthAdjust="spacingAndGlyphs" >highly expressed</text>
<text x="360.20" y="326.60" font-size="10.2" fill="#f01818" stroke="#f01818" stroke-width="0.08" text-anchor="middle" textLength="60.5" lengthAdjust="spacingAndGlyphs" >in CCT068127</text>
<text x="442.10" y="307.90" font-size="10.2" fill="#1a1af0" stroke="#1a1af0" stroke-width="0.08" text-anchor="middle" textLength="52" lengthAdjust="spacingAndGlyphs" >genes more</text>
<text x="442.10" y="317.25" font-size="10.2" fill="#1a1af0" stroke="#1a1af0" stroke-width="0.08" text-anchor="middle" textLength="74.3" lengthAdjust="spacingAndGlyphs" >highly expressed</text>
<text x="442.10" y="326.60" font-size="10.2" fill="#1a1af0" stroke="#1a1af0" stroke-width="0.08" text-anchor="middle" textLength="38.5" lengthAdjust="spacingAndGlyphs" >in DMSO</text>
<text x="521.90" y="307.90" font-size="10.2" fill="#f01818" stroke="#f01818" stroke-width="0.08" text-anchor="middle" textLength="52" lengthAdjust="spacingAndGlyphs" >genes more</text>
<text x="521.90" y="317.25" font-size="10.2" fill="#f01818" stroke="#f01818" stroke-width="0.08" text-anchor="middle" textLength="74.3" lengthAdjust="spacingAndGlyphs" >highly expressed</text>
<text x="521.90" y="326.60" font-size="10.2" fill="#f01818" stroke="#f01818" stroke-width="0.08" text-anchor="middle" textLength="60.5" lengthAdjust="spacingAndGlyphs" >in CCT068127</text>
<text x="600.40" y="307.90" font-size="10.2" fill="#1a1af0" stroke="#1a1af0" stroke-width="0.08" text-anchor="middle" textLength="52" lengthAdjust="spacingAndGlyphs" >genes more</text>
<text x="600.40" y="317.25" font-size="10.2" fill="#1a1af0" stroke="#1a1af0" stroke-width="0.08" text-anchor="middle" textLength="74.3" lengthAdjust="spacingAndGlyphs" >highly expressed</text>
<text x="600.40" y="326.60" font-size="10.2" fill="#1a1af0" stroke="#1a1af0" stroke-width="0.08" text-anchor="middle" textLength="38.5" lengthAdjust="spacingAndGlyphs" >in DMSO</text>
<rect x="9.30" y="499.00" width="237.50" height="115.00" fill="#fcfcfc" />
<text x="-0.30" y="483.30" font-size="12.8" fill="#000" font-weight="bold" stroke="#000" stroke-width="0.4">e</text>
<path d="M23.3,553.7 C18,555 14,556 13.8,558.8 C13.6,562 15,564.2 19.5,565.1 C24,565.6 29,563.6 33,563 C37,562.4 40,562 43.5,561.8" fill="none" stroke="#e49696" stroke-width="1.5" />
<path d="M27,556 L28.5,559.3 L35.6,559.4 L34,556.5 Z" fill="#e8a4a4" stroke="#e0a0a0" stroke-width="0.5" />
<path d="M22.8,551.8 C23.5,546 29,541.5 36.6,540 C42,539.2 47,539.6 50.8,540.4 C53,539 55,537.3 56.8,537.6 C58,538.5 58.5,540 58.5,541 C62,541.8 66,543.5 68.8,545.7 C67,548 65,549.3 63.1,549.9 C60.5,552 58,554.5 55,556 C50,557.5 44,557.8 38.5,557.5 C32,557.6 28,557.2 26.1,555.6 C24,554.5 22.8,553.3 22.8,551.8 Z" fill="#e6e2e0" stroke="#c6bebc" stroke-width="0.6" />
<ellipse cx="54.1" cy="542.8" rx="2.3" ry="2.7" fill="#eab4b2" stroke="#d89a98" stroke-width="0.5"/>
<circle cx="62.70" cy="544.00" r="0.85" fill="#8a3030" stroke="none" stroke-width="0.6"/>
<path d="M53.6,555.6 L56,558.3 L61.7,558.6" fill="none" stroke="#e4a0a0" stroke-width="1.5" />
<line x1="36.60" y1="512.20" x2="37.50" y2="539.50" stroke="#9aa6a6" stroke-width="0.9" />
<line x1="37.10" y1="528.00" x2="37.50" y2="539.50" stroke="#8fc4b8" stroke-width="1.0" />
<path d="M119.6,540.5 L117.2,536.7 M121.8,558.5 L117.2,562.3 M145.1,543.1 L148.1,537.3 M144.8,555.2 L148.1,561.4" fill="none" stroke="#d89aa0" stroke-width="1.4" />
<path d="M146.2,549.3 C155,549.2 165,548.5 173.6,547.2" fill="none" stroke="#e4a2a2" stroke-width="1.1" />
<path d="M108.3,549.7 C111,547 113.5,545 116,543.9 C117.5,542 118.5,541 119.6,541 C122,541.5 123.5,543.2 125.4,543.5 C129,543.5 132,541.2 135.7,541 C139,540.8 141.5,541.7 143,542.8 C145,544 146.2,546 146.2,547.5 C146.5,549.5 146.3,551.5 145.9,553.4 C144.5,555.5 142.5,556.8 140,557 C135.5,557 131,555.2 126.9,555.5 C124.5,556 122.5,558.5 121,559.2 C119.5,558.5 118.8,557 118.1,555.5 C116,555.2 114,554 112.5,552.5 C110.8,551.5 109.5,550.7 108.3,549.7 Z" fill="#e6e2e0" stroke="#c6bebc" stroke-width="0.6" />
<circle cx="115.60" cy="544.20" r="1.4" fill="#d8a8a8" stroke="none" stroke-width="0.6"/>
<circle cx="115.60" cy="554.60" r="1.4" fill="#d8a8a8" stroke="none" stroke-width="0.6"/>
<line x1="114.00" y1="518.20" x2="124.00" y2="532.20" stroke="#a0a8a8" stroke-width="0.9" />
<line x1="124.00" y1="532.20" x2="129.10" y2="539.50" stroke="#2cc498" stroke-width="1.7" />
<path d="M227.4,559.2 C227.6,570 228.5,580 229.9,590" fill="none" stroke="#a8a8a8" stroke-width="0.9" />
<path d="M222.7,537 L215.5,532.7 M231.8,537 L240.1,532.7" fill="none" stroke="#bcbcbc" stroke-width="1.6" stroke-linecap="round"/>
<path d="M223,559.2 L215.9,564 M231.8,559.2 L239.7,564" fill="none" stroke="#bcbcbc" stroke-width="1.6" stroke-linecap="round"/>
<path d="M227,524 C225.5,526 223.5,528.5 221.8,530.5 C221.5,533 222.5,536 223.5,537.8 L231,537.8 C232.3,536 233.5,533 233.3,530.5 C231,528.5 228.8,526 227,524 Z" fill="#ececec" stroke="#b4b4b4" stroke-width="0.6" />
<circle cx="222.30" cy="530.70" r="1.1" fill="#b8b8b8" stroke="none" stroke-width="0.6"/>
<circle cx="232.90" cy="530.40" r="1.1" fill="#b8b8b8" stroke="none" stroke-width="0.6"/>
<path d="M221.5,537.8 C219.5,541 219,546 219.1,551 C219.3,555 220.5,558 223,559.5 C225.5,560.5 229.5,560.5 231.8,559.5 C234.5,558 235.5,555 235.3,551 C235.3,546 234.8,541 233,537.8 Z" fill="#f6e6e6" stroke="#efc4c4" stroke-width="0.6" />
<ellipse cx="227.4" cy="549.7" rx="4.8" ry="6.3" fill="#d8847a" stroke="#c87468" stroke-width="0.5"/>
<ellipse cx="227" cy="547" rx="3.6" ry="3.2" fill="#c07058"/>
<line x1="37.6" y1="568.2" x2="240.4" y2="568.2" stroke="#444" stroke-width="1.4" stroke-dasharray="1.4,1.2"/>
<text x="38.30" y="579.20" font-size="10.2" fill="#231f20" stroke="#231f20" stroke-width="0.08" textLength="27.5" lengthAdjust="spacingAndGlyphs" >Day: 0</text>
<text x="133.20" y="579.20" font-size="10.2" fill="#231f20" stroke="#231f20" stroke-width="0.08" text-anchor="middle" >14</text>
<text x="228.90" y="579.60" font-size="10.2" fill="#231f20" stroke="#231f20" stroke-width="0.08" text-anchor="middle" >23</text>
<text x="19.90" y="598.00" font-size="10.2" fill="#231f20" stroke="#231f20" stroke-width="0.08" textLength="20.5" lengthAdjust="spacingAndGlyphs" >1X10</text>
<text x="40.80" y="594.30" font-size="5.5" fill="#231f20" stroke="#231f20" stroke-width="0.08" >6</text>
<text x="45.50" y="598.00" font-size="10.2" fill="#231f20" stroke="#231f20" stroke-width="0.08" textLength="34" lengthAdjust="spacingAndGlyphs" >UMUC3</text>
<text x="50.80" y="610.80" font-size="10.2" fill="#231f20" stroke="#231f20" stroke-width="0.08" text-anchor="middle" textLength="35.2" lengthAdjust="spacingAndGlyphs" >cells s.c.</text>
<text x="138.30" y="598.00" font-size="10.2" fill="#231f20" stroke="#231f20" stroke-width="0.08" text-anchor="middle" textLength="69" lengthAdjust="spacingAndGlyphs" >30mg/kg/day ip.</text>
<text x="138.50" y="610.80" font-size="10.2" fill="#231f20" stroke="#231f20" stroke-width="0.08" text-anchor="middle" textLength="89.5" lengthAdjust="spacingAndGlyphs" >CCT068127 or DMSO</text>
<text x="228.90" y="598.00" font-size="10.2" fill="#231f20" stroke="#231f20" stroke-width="0.08" text-anchor="middle" textLength="49" lengthAdjust="spacingAndGlyphs" >Euthanasia,</text>
<text x="228.30" y="610.80" font-size="10.2" fill="#231f20" stroke="#231f20" stroke-width="0.08" text-anchor="middle" textLength="70" lengthAdjust="spacingAndGlyphs" >tumor extraction</text>
<text x="274.40" y="482.80" font-size="12.8" fill="#000" font-weight="bold" stroke="#000" stroke-width="0.4">f</text>
<line x1="337.80" y1="512.30" x2="337.80" y2="597.70" stroke="#666" stroke-width="1.1" />
<line x1="337.80" y1="597.70" x2="466.00" y2="597.70" stroke="#666" stroke-width="1.1" />
<line x1="334.30" y1="597.70" x2="337.80" y2="597.70" stroke="#666" stroke-width="1.0" />
<line x1="334.30" y1="588.18" x2="337.80" y2="588.18" stroke="#666" stroke-width="1.0" />
<line x1="334.30" y1="578.67" x2="337.80" y2="578.67" stroke="#666" stroke-width="1.0" />
<line x1="334.30" y1="569.15" x2="337.80" y2="569.15" stroke="#666" stroke-width="1.0" />
<line x1="334.30" y1="559.63" x2="337.80" y2="559.63" stroke="#666" stroke-width="1.0" />
<line x1="334.30" y1="550.12" x2="337.80" y2="550.12" stroke="#666" stroke-width="1.0" />
<line x1="334.30" y1="540.60" x2="337.80" y2="540.60" stroke="#666" stroke-width="1.0" />
<line x1="334.30" y1="531.08" x2="337.80" y2="531.08" stroke="#666" stroke-width="1.0" />
<line x1="334.30" y1="521.57" x2="337.80" y2="521.57" stroke="#666" stroke-width="1.0" />
<line x1="334.30" y1="512.05" x2="337.80" y2="512.05" stroke="#666" stroke-width="1.0" />
<text x="333.20" y="601.00" font-size="9.6" fill="#231f20" stroke="#231f20" stroke-width="0.08" text-anchor="end" >0</text>
<text x="333.20" y="572.45" font-size="9.6" fill="#231f20" stroke="#231f20" stroke-width="0.08" text-anchor="end" >500</text>
<text x="333.20" y="543.90" font-size="9.6" fill="#231f20" stroke="#231f20" stroke-width="0.08" text-anchor="end" >1000</text>
<text x="333.20" y="515.35" font-size="9.6" fill="#231f20" stroke="#231f20" stroke-width="0.08" text-anchor="end" >1500</text>
<line x1="344.30" y1="597.70" x2="344.30" y2="601.20" stroke="#666" stroke-width="1.0" />
<text x="345.90" y="608.00" font-size="9.8" fill="#231f20" stroke="#231f20" stroke-width="0.08" text-anchor="end" transform="rotate(-45 345.90 608.00)" >14</text>
<line x1="357.13" y1="597.70" x2="357.13" y2="601.20" stroke="#666" stroke-width="1.0" />
<text x="358.73" y="608.00" font-size="9.8" fill="#231f20" stroke="#231f20" stroke-width="0.08" text-anchor="end" transform="rotate(-45 358.73 608.00)" >15</text>
<line x1="369.96" y1="597.70" x2="369.96" y2="601.20" stroke="#666" stroke-width="1.0" />
<text x="371.56" y="608.00" font-size="9.8" fill="#231f20" stroke="#231f20" stroke-width="0.08" text-anchor="end" transform="rotate(-45 371.56 608.00)" >16</text>
<line x1="382.79" y1="597.70" x2="382.79" y2="601.20" stroke="#666" stroke-width="1.0" />
<text x="384.39" y="608.00" font-size="9.8" fill="#231f20" stroke="#231f20" stroke-width="0.08" text-anchor="end" transform="rotate(-45 384.39 608.00)" >17</text>
<line x1="395.62" y1="597.70" x2="395.62" y2="601.20" stroke="#666" stroke-width="1.0" />
<text x="397.22" y="608.00" font-size="9.8" fill="#231f20" stroke="#231f20" stroke-width="0.08" text-anchor="end" transform="rotate(-45 397.22 608.00)" >18</text>
<line x1="408.45" y1="597.70" x2="408.45" y2="601.20" stroke="#666" stroke-width="1.0" />
<text x="410.05" y="608.00" font-size="9.8" fill="#231f20" stroke="#231f20" stroke-width="0.08" text-anchor="end" transform="rotate(-45 410.05 608.00)" >19</text>
<line x1="421.28" y1="597.70" x2="421.28" y2="601.20" stroke="#666" stroke-width="1.0" />
<text x="422.88" y="608.00" font-size="9.8" fill="#231f20" stroke="#231f20" stroke-width="0.08" text-anchor="end" transform="rotate(-45 422.88 608.00)" >20</text>
<line x1="434.11" y1="597.70" x2="434.11" y2="601.20" stroke="#666" stroke-width="1.0" />
<text x="435.71" y="608.00" font-size="9.8" fill="#231f20" stroke="#231f20" stroke-width="0.08" text-anchor="end" transform="rotate(-45 435.71 608.00)" >21</text>
<line x1="446.94" y1="597.70" x2="446.94" y2="601.20" stroke="#666" stroke-width="1.0" />
<text x="448.54" y="608.00" font-size="9.8" fill="#231f20" stroke="#231f20" stroke-width="0.08" text-anchor="end" transform="rotate(-45 448.54 608.00)" >22</text>
<line x1="459.77" y1="597.70" x2="459.77" y2="601.20" stroke="#666" stroke-width="1.0" />
<text x="461.37" y="608.00" font-size="9.8" fill="#231f20" stroke="#231f20" stroke-width="0.08" text-anchor="end" transform="rotate(-45 461.37 608.00)" >23</text>
<text x="303.40" y="593.40" font-size="9.8" fill="#231f20" stroke="#231f20" stroke-width="0.08" transform="rotate(-90 303.40 593.40)" textLength="80" lengthAdjust="spacingAndGlyphs" >Tumor volume (mm</text>
<text x="299.20" y="513.20" font-size="6.5" fill="#231f20" stroke="#231f20" stroke-width="0.08" transform="rotate(-90 299.20 513.20)" >3</text>
<text x="303.40" y="509.30" font-size="9.8" fill="#231f20" stroke="#231f20" stroke-width="0.08" transform="rotate(-90 303.40 509.30)" >)</text>
<path d="M344.30,595.42 L357.13,580.57 L369.96,577.72 L382.79,573.72 L395.62,569.15 L408.45,550.19 L421.28,549.17 L434.11,547.45 L446.94,545.74 L459.77,544.54" fill="none" stroke="#f5301c" stroke-width="0.8" />
<path d="M344.30,596.56 L357.13,583.43 L369.96,578.86 L382.79,574.86 L395.62,568.01 L408.45,556.99 L421.28,556.59 L434.11,556.02 L446.94,555.16 L459.77,554.70" fill="none" stroke="#f5301c" stroke-width="0.8" />
<path d="M344.30,594.27 L357.13,586.28 L369.96,579.43 L382.79,576.00 L395.62,570.29 L408.45,559.21 L421.28,558.30 L434.11,557.73 L446.94,556.87 L459.77,556.02" fill="none" stroke="#f5301c" stroke-width="0.8" />
<path d="M344.30,595.99 L357.13,578.86 L369.96,581.71 L382.79,577.72 L395.62,572.00 L408.45,561.16 L421.28,560.01 L434.11,559.16 L446.94,558.30 L459.77,557.44" fill="none" stroke="#f5301c" stroke-width="0.8" />
<path d="M344.30,593.13 L357.13,581.71 L369.96,585.14 L382.79,580.57 L395.62,573.72 L408.45,562.18 L421.28,561.44 L434.11,560.59 L446.94,559.73 L459.77,558.87" fill="none" stroke="#f5301c" stroke-width="0.8" />
<path d="M344.30,597.13 L357.13,585.14 L369.96,582.85 L382.79,578.86 L395.62,574.86 L408.45,563.44 L421.28,562.87 L434.11,562.01 L446.94,561.16 L459.77,560.30" fill="none" stroke="#f5301c" stroke-width="0.8" />
<path d="M344.30,594.85 L357.13,587.42 L369.96,580.57 L382.79,583.43 L395.62,575.43 L408.45,565.72 L421.28,564.87 L434.11,564.01 L446.94,562.87 L459.77,561.73" fill="none" stroke="#f5301c" stroke-width="0.8" />
<path d="M344.30,595.70 L357.13,584.00 L369.96,584.00 L382.79,579.43 L395.62,575.77 L408.45,566.69 L421.28,566.01 L434.11,565.15 L446.94,564.01 L459.77,563.15" fill="none" stroke="#f5301c" stroke-width="0.8" />
<path d="M344.30,593.70 L357.13,582.85 L369.96,580.57 L382.79,577.14 L395.62,569.15 L408.45,569.15 L421.28,568.01 L434.11,566.87 L446.94,565.72 L459.77,564.58" fill="none" stroke="#f5301c" stroke-width="0.8" />
<path d="M344.30,596.27 L357.13,585.71 L369.96,582.28 L382.79,578.29 L395.62,568.29 L408.45,570.86 L421.28,569.72 L434.11,568.58 L446.94,567.44 L459.77,565.72" fill="none" stroke="#f5301c" stroke-width="0.8" />
<path d="M344.30,595.13 L357.13,586.85 L369.96,583.43 L382.79,580.00 L395.62,569.78 L408.45,572.80 L421.28,571.43 L434.11,569.72 L446.94,568.01 L459.77,566.69" fill="none" stroke="#f5301c" stroke-width="0.8" />
<path d="M344.30,596.84 L357.13,584.57 L369.96,581.14 L382.79,576.57 L395.62,575.77 L408.45,576.52 L421.28,574.29 L434.11,572.00 L446.94,569.15 L459.77,566.30" fill="none" stroke="#f5301c" stroke-width="0.8" />
<path d="M344.30,593.13 L357.13,583.43 L369.96,572.00 L382.79,557.73 L395.62,526.78 L408.45,522.33 L421.28,519.99 L434.11,518.90 L446.94,516.62 L459.77,514.28" fill="none" stroke="#1f3ff5" stroke-width="0.8" />
<path d="M344.30,594.27 L357.13,586.28 L369.96,576.00 L382.79,560.59 L395.62,532.09 L408.45,526.78 L421.28,524.61 L434.11,522.90 L446.94,521.19 L459.77,518.90" fill="none" stroke="#1f3ff5" stroke-width="0.8" />
<path d="M344.30,595.42 L357.13,587.42 L369.96,577.72 L382.79,563.44 L395.62,543.40 L408.45,531.41 L421.28,528.04 L434.11,525.75 L446.94,524.04 L459.77,523.01" fill="none" stroke="#1f3ff5" stroke-width="0.8" />
<path d="M344.30,593.70 L357.13,585.14 L369.96,573.72 L382.79,555.45 L395.62,548.71 L408.45,532.61 L421.28,529.18 L434.11,526.90 L446.94,524.61 L459.77,524.04" fill="none" stroke="#1f3ff5" stroke-width="0.8" />
<path d="M344.30,594.85 L357.13,588.56 L369.96,574.86 L382.79,568.01 L395.62,540.60 L408.45,533.75 L421.28,530.32 L434.11,528.04 L446.94,525.75 L459.77,525.18" fill="none" stroke="#1f3ff5" stroke-width="0.8" />
<path d="M344.30,592.56 L357.13,580.57 L369.96,563.44 L382.79,562.30 L395.62,546.31 L408.45,534.89 L421.28,531.46 L434.11,529.18 L446.94,526.90 L459.77,526.33" fill="none" stroke="#1f3ff5" stroke-width="0.8" />
<path d="M344.30,595.99 L357.13,589.13 L369.96,578.86 L382.79,569.15 L395.62,552.02 L408.45,535.75 L421.28,532.61 L434.11,529.75 L446.94,527.47 L459.77,527.58" fill="none" stroke="#1f3ff5" stroke-width="0.8" />
<path d="M344.30,594.56 L357.13,584.57 L369.96,577.14 L382.79,565.72 L395.62,555.50 L408.45,536.60 L421.28,533.63 L434.11,530.89 L446.94,529.18 L459.77,532.89" fill="none" stroke="#1f3ff5" stroke-width="0.8" />
<path d="M344.30,595.13 L357.13,586.85 L369.96,580.00 L382.79,570.29 L395.62,557.73 L408.45,535.46 L421.28,532.04 L434.11,529.47 L446.94,528.04 L459.77,524.61" fill="none" stroke="#1f3ff5" stroke-width="0.8" />
<path d="M344.30,593.99 L357.13,587.99 L369.96,576.00 L382.79,557.73 L395.62,552.02 L408.45,550.19 L421.28,549.39 L434.11,546.31 L446.94,543.46 L459.77,541.63" fill="none" stroke="#1f3ff5" stroke-width="0.8" />
<path d="M344.30,595.70 L357.13,589.71 L369.96,580.57 L382.79,572.00 L395.62,562.18 L408.45,555.10 L421.28,553.22 L434.11,552.02 L446.94,550.88 L459.77,549.74" fill="none" stroke="#1f3ff5" stroke-width="0.8" />
<path d="M344.30,593.42 L357.13,582.85 L369.96,570.86 L382.79,573.15 L395.62,563.44 L408.45,556.99 L421.28,555.45 L434.11,554.30 L446.94,553.16 L459.77,552.02" fill="none" stroke="#1f3ff5" stroke-width="0.8" />
<circle cx="344.30" cy="595.42" r="0.9" fill="#333" stroke="none" stroke-width="0.6"/>
<circle cx="357.13" cy="580.57" r="0.9" fill="#333" stroke="none" stroke-width="0.6"/>
<circle cx="369.96" cy="577.72" r="0.9" fill="#333" stroke="none" stroke-width="0.6"/>
<circle cx="382.79" cy="573.72" r="0.9" fill="#333" stroke="none" stroke-width="0.6"/>
<circle cx="395.62" cy="569.15" r="0.9" fill="#333" stroke="none" stroke-width="0.6"/>
<circle cx="408.45" cy="550.19" r="0.9" fill="#333" stroke="none" stroke-width="0.6"/>
<circle cx="421.28" cy="549.17" r="0.9" fill="#333" stroke="none" stroke-width="0.6"/>
<circle cx="434.11" cy="547.45" r="0.9" fill="#333" stroke="none" stroke-width="0.6"/>
<circle cx="446.94" cy="545.74" r="0.9" fill="#333" stroke="none" stroke-width="0.6"/>
<circle cx="459.77" cy="544.54" r="0.9" fill="#333" stroke="none" stroke-width="0.6"/>
<circle cx="344.30" cy="596.56" r="0.9" fill="#333" stroke="none" stroke-width="0.6"/>
<circle cx="357.13" cy="583.43" r="0.9" fill="#333" stroke="none" stroke-width="0.6"/>
<circle cx="369.96" cy="578.86" r="0.9" fill="#333" stroke="none" stroke-width="0.6"/>
<circle cx="382.79" cy="574.86" r="0.9" fill="#333" stroke="none" stroke-width="0.6"/>
<circle cx="395.62" cy="568.01" r="0.9" fill="#333" stroke="none" stroke-width="0.6"/>
<circle cx="408.45" cy="556.99" r="0.9" fill="#333" stroke="none" stroke-width="0.6"/>
<circle cx="421.28" cy="556.59" r="0.9" fill="#333" stroke="none" stroke-width="0.6"/>
<circle cx="434.11" cy="556.02" r="0.9" fill="#333" stroke="none" stroke-width="0.6"/>
<circle cx="446.94" cy="555.16" r="0.9" fill="#333" stroke="none" stroke-width="0.6"/>
<circle cx="459.77" cy="554.70" r="0.9" fill="#333" stroke="none" stroke-width="0.6"/>
<circle cx="344.30" cy="594.27" r="0.9" fill="#333" stroke="none" stroke-width="0.6"/>
<circle cx="357.13" cy="586.28" r="0.9" fill="#333" stroke="none" stroke-width="0.6"/>
<circle cx="369.96" cy="579.43" r="0.9" fill="#333" stroke="none" stroke-width="0.6"/>
<circle cx="382.79" cy="576.00" r="0.9" fill="#333" stroke="none" stroke-width="0.6"/>
<circle cx="395.62" cy="570.29" r="0.9" fill="#333" stroke="none" stroke-width="0.6"/>
<circle cx="408.45" cy="559.21" r="0.9" fill="#333" stroke="none" stroke-width="0.6"/>
<circle cx="421.28" cy="558.30" r="0.9" fill="#333" stroke="none" stroke-width="0.6"/>
<circle cx="434.11" cy="557.73" r="0.9" fill="#333" stroke="none" stroke-width="0.6"/>
<circle cx="446.94" cy="556.87" r="0.9" fill="#333" stroke="none" stroke-width="0.6"/>
<circle cx="459.77" cy="556.02" r="0.9" fill="#333" stroke="none" stroke-width="0.6"/>
<circle cx="344.30" cy="595.99" r="0.9" fill="#333" stroke="none" stroke-width="0.6"/>
<circle cx="357.13" cy="578.86" r="0.9" fill="#333" stroke="none" stroke-width="0.6"/>
<circle cx="369.96" cy="581.71" r="0.9" fill="#333" stroke="none" stroke-width="0.6"/>
<circle cx="382.79" cy="577.72" r="0.9" fill="#333" stroke="none" stroke-width="0.6"/>
<circle cx="395.62" cy="572.00" r="0.9" fill="#333" stroke="none" stroke-width="0.6"/>
<circle cx="408.45" cy="561.16" r="0.9" fill="#333" stroke="none" stroke-width="0.6"/>
<circle cx="421.28" cy="560.01" r="0.9" fill="#333" stroke="none" stroke-width="0.6"/>
<circle cx="434.11" cy="559.16" r="0.9" fill="#333" stroke="none" stroke-width="0.6"/>
<circle cx="446.94" cy="558.30" r="0.9" fill="#333" stroke="none" stroke-width="0.6"/>
<circle cx="459.77" cy="557.44" r="0.9" fill="#333" stroke="none" stroke-width="0.6"/>
<circle cx="344.30" cy="593.13" r="0.9" fill="#333" stroke="none" stroke-width="0.6"/>
<circle cx="357.13" cy="581.71" r="0.9" fill="#333" stroke="none" stroke-width="0.6"/>
<circle cx="369.96" cy="585.14" r="0.9" fill="#333" stroke="none" stroke-width="0.6"/>
<circle cx="382.79" cy="580.57" r="0.9" fill="#333" stroke="none" stroke-width="0.6"/>
<circle cx="395.62" cy="573.72" r="0.9" fill="#333" stroke="none" stroke-width="0.6"/>
<circle cx="408.45" cy="562.18" r="0.9" fill="#333" stroke="none" stroke-width="0.6"/>
<circle cx="421.28" cy="561.44" r="0.9" fill="#333" stroke="none" stroke-width="0.6"/>
<circle cx="434.11" cy="560.59" r="0.9" fill="#333" stroke="none" stroke-width="0.6"/>
<circle cx="446.94" cy="559.73" r="0.9" fill="#333" stroke="none" stroke-width="0.6"/>
<circle cx="459.77" cy="558.87" r="0.9" fill="#333" stroke="none" stroke-width="0.6"/>
<circle cx="344.30" cy="597.13" r="0.9" fill="#333" stroke="none" stroke-width="0.6"/>
<circle cx="357.13" cy="585.14" r="0.9" fill="#333" stroke="none" stroke-width="0.6"/>
<circle cx="369.96" cy="582.85" r="0.9" fill="#333" stroke="none" stroke-width="0.6"/>
<circle cx="382.79" cy="578.86" r="0.9" fill="#333" stroke="none" stroke-width="0.6"/>
<circle cx="395.62" cy="574.86" r="0.9" fill="#333" stroke="none" stroke-width="0.6"/>
<circle cx="408.45" cy="563.44" r="0.9" fill="#333" stroke="none" stroke-width="0.6"/>
<circle cx="421.28" cy="562.87" r="0.9" fill="#333" stroke="none" stroke-width="0.6"/>
<circle cx="434.11" cy="562.01" r="0.9" fill="#333" stroke="none" stroke-width="0.6"/>
<circle cx="446.94" cy="561.16" r="0.9" fill="#333" stroke="none" stroke-width="0.6"/>
<circle cx="459.77" cy="560.30" r="0.9" fill="#333" stroke="none" stroke-width="0.6"/>
<circle cx="344.30" cy="594.85" r="0.9" fill="#333" stroke="none" stroke-width="0.6"/>
<circle cx="357.13" cy="587.42" r="0.9" fill="#333" stroke="none" stroke-width="0.6"/>
<circle cx="369.96" cy="580.57" r="0.9" fill="#333" stroke="none" stroke-width="0.6"/>
<circle cx="382.79" cy="583.43" r="0.9" fill="#333" stroke="none" stroke-width="0.6"/>
<circle cx="395.62" cy="575.43" r="0.9" fill="#333" stroke="none" stroke-width="0.6"/>
<circle cx="408.45" cy="565.72" r="0.9" fill="#333" stroke="none" stroke-width="0.6"/>
<circle cx="421.28" cy="564.87" r="0.9" fill="#333" stroke="none" stroke-width="0.6"/>
<circle cx="434.11" cy="564.01" r="0.9" fill="#333" stroke="none" stroke-width="0.6"/>
<circle cx="446.94" cy="562.87" r="0.9" fill="#333" stroke="none" stroke-width="0.6"/>
<circle cx="459.77" cy="561.73" r="0.9" fill="#333" stroke="none" stroke-width="0.6"/>
<circle cx="344.30" cy="595.70" r="0.9" fill="#333" stroke="none" stroke-width="0.6"/>
<circle cx="357.13" cy="584.00" r="0.9" fill="#333" stroke="none" stroke-width="0.6"/>
<circle cx="369.96" cy="584.00" r="0.9" fill="#333" stroke="none" stroke-width="0.6"/>
<circle cx="382.79" cy="579.43" r="0.9" fill="#333" stroke="none" stroke-width="0.6"/>
<circle cx="395.62" cy="575.77" r="0.9" fill="#333" stroke="none" stroke-width="0.6"/>
<circle cx="408.45" cy="566.69" r="0.9" fill="#333" stroke="none" stroke-width="0.6"/>
<circle cx="421.28" cy="566.01" r="0.9" fill="#333" stroke="none" stroke-width="0.6"/>
<circle cx="434.11" cy="565.15" r="0.9" fill="#333" stroke="none" stroke-width="0.6"/>
<circle cx="446.94" cy="564.01" r="0.9" fill="#333" stroke="none" stroke-width="0.6"/>
<circle cx="459.77" cy="563.15" r="0.9" fill="#333" stroke="none" stroke-width="0.6"/>
<circle cx="344.30" cy="593.70" r="0.9" fill="#333" stroke="none" stroke-width="0.6"/>
<circle cx="357.13" cy="582.85" r="0.9" fill="#333" stroke="none" stroke-width="0.6"/>
<circle cx="369.96" cy="580.57" r="0.9" fill="#333" stroke="none" stroke-width="0.6"/>
<circle cx="382.79" cy="577.14" r="0.9" fill="#333" stroke="none" stroke-width="0.6"/>
<circle cx="395.62" cy="569.15" r="0.9" fill="#333" stroke="none" stroke-width="0.6"/>
<circle cx="408.45" cy="569.15" r="0.9" fill="#333" stroke="none" stroke-width="0.6"/>
<circle cx="421.28" cy="568.01" r="0.9" fill="#333" stroke="none" stroke-width="0.6"/>
<circle cx="434.11" cy="566.87" r="0.9" fill="#333" stroke="none" stroke-width="0.6"/>
<circle cx="446.94" cy="565.72" r="0.9" fill="#333" stroke="none" stroke-width="0.6"/>
<circle cx="459.77" cy="564.58" r="0.9" fill="#333" stroke="none" stroke-width="0.6"/>
<circle cx="344.30" cy="596.27" r="0.9" fill="#333" stroke="none" stroke-width="0.6"/>
<circle cx="357.13" cy="585.71" r="0.9" fill="#333" stroke="none" stroke-width="0.6"/>
<circle cx="369.96" cy="582.28" r="0.9" fill="#333" stroke="none" stroke-width="0.6"/>
<circle cx="382.79" cy="578.29" r="0.9" fill="#333" stroke="none" stroke-width="0.6"/>
<circle cx="395.62" cy="568.29" r="0.9" fill="#333" stroke="none" stroke-width="0.6"/>
<circle cx="408.45" cy="570.86" r="0.9" fill="#333" stroke="none" stroke-width="0.6"/>
<circle cx="421.28" cy="569.72" r="0.9" fill="#333" stroke="none" stroke-width="0.6"/>
<circle cx="434.11" cy="568.58" r="0.9" fill="#333" stroke="none" stroke-width="0.6"/>
<circle cx="446.94" cy="567.44" r="0.9" fill="#333" stroke="none" stroke-width="0.6"/>
<circle cx="459.77" cy="565.72" r="0.9" fill="#333" stroke="none" stroke-width="0.6"/>
<circle cx="344.30" cy="595.13" r="0.9" fill="#333" stroke="none" stroke-width="0.6"/>
<circle cx="357.13" cy="586.85" r="0.9" fill="#333" stroke="none" stroke-width="0.6"/>
<circle cx="369.96" cy="583.43" r="0.9" fill="#333" stroke="none" stroke-width="0.6"/>
<circle cx="382.79" cy="580.00" r="0.9" fill="#333" stroke="none" stroke-width="0.6"/>
<circle cx="395.62" cy="569.78" r="0.9" fill="#333" stroke="none" stroke-width="0.6"/>
<circle cx="408.45" cy="572.80" r="0.9" fill="#333" stroke="none" stroke-width="0.6"/>
<circle cx="421.28" cy="571.43" r="0.9" fill="#333" stroke="none" stroke-width="0.6"/>
<circle cx="434.11" cy="569.72" r="0.9" fill="#333" stroke="none" stroke-width="0.6"/>
<circle cx="446.94" cy="568.01" r="0.9" fill="#333" stroke="none" stroke-width="0.6"/>
<circle cx="459.77" cy="566.69" r="0.9" fill="#333" stroke="none" stroke-width="0.6"/>
<circle cx="344.30" cy="596.84" r="0.9" fill="#333" stroke="none" stroke-width="0.6"/>
<circle cx="357.13" cy="584.57" r="0.9" fill="#333" stroke="none" stroke-width="0.6"/>
<circle cx="369.96" cy="581.14" r="0.9" fill="#333" stroke="none" stroke-width="0.6"/>
<circle cx="382.79" cy="576.57" r="0.9" fill="#333" stroke="none" stroke-width="0.6"/>
<circle cx="395.62" cy="575.77" r="0.9" fill="#333" stroke="none" stroke-width="0.6"/>
<circle cx="408.45" cy="576.52" r="0.9" fill="#333" stroke="none" stroke-width="0.6"/>
<circle cx="421.28" cy="574.29" r="0.9" fill="#333" stroke="none" stroke-width="0.6"/>
<circle cx="434.11" cy="572.00" r="0.9" fill="#333" stroke="none" stroke-width="0.6"/>
<circle cx="446.94" cy="569.15" r="0.9" fill="#333" stroke="none" stroke-width="0.6"/>
<circle cx="459.77" cy="566.30" r="0.9" fill="#333" stroke="none" stroke-width="0.6"/>
<circle cx="344.30" cy="593.13" r="0.9" fill="#333" stroke="none" stroke-width="0.6"/>
<circle cx="357.13" cy="583.43" r="0.9" fill="#333" stroke="none" stroke-width="0.6"/>
<circle cx="369.96" cy="572.00" r="0.9" fill="#333" stroke="none" stroke-width="0.6"/>
<circle cx="382.79" cy="557.73" r="0.9" fill="#333" stroke="none" stroke-width="0.6"/>
<circle cx="395.62" cy="526.78" r="0.9" fill="#333" stroke="none" stroke-width="0.6"/>
<circle cx="408.45" cy="522.33" r="0.9" fill="#333" stroke="none" stroke-width="0.6"/>
<circle cx="421.28" cy="519.99" r="0.9" fill="#333" stroke="none" stroke-width="0.6"/>
<circle cx="434.11" cy="518.90" r="0.9" fill="#333" stroke="none" stroke-width="0.6"/>
<circle cx="446.94" cy="516.62" r="0.9" fill="#333" stroke="none" stroke-width="0.6"/>
<circle cx="459.77" cy="514.28" r="0.9" fill="#333" stroke="none" stroke-width="0.6"/>
<circle cx="344.30" cy="594.27" r="0.9" fill="#333" stroke="none" stroke-width="0.6"/>
<circle cx="357.13" cy="586.28" r="0.9" fill="#333" stroke="none" stroke-width="0.6"/>
<circle cx="369.96" cy="576.00" r="0.9" fill="#333" stroke="none" stroke-width="0.6"/>
<circle cx="382.79" cy="560.59" r="0.9" fill="#333" stroke="none" stroke-width="0.6"/>
<circle cx="395.62" cy="532.09" r="0.9" fill="#333" stroke="none" stroke-width="0.6"/>
<circle cx="408.45" cy="526.78" r="0.9" fill="#333" stroke="none" stroke-width="0.6"/>
<circle cx="421.28" cy="524.61" r="0.9" fill="#333" stroke="none" stroke-width="0.6"/>
<circle cx="434.11" cy="522.90" r="0.9" fill="#333" stroke="none" stroke-width="0.6"/>
<circle cx="446.94" cy="521.19" r="0.9" fill="#333" stroke="none" stroke-width="0.6"/>
<circle cx="459.77" cy="518.90" r="0.9" fill="#333" stroke="none" stroke-width="0.6"/>
<circle cx="344.30" cy="595.42" r="0.9" fill="#333" stroke="none" stroke-width="0.6"/>
<circle cx="357.13" cy="587.42" r="0.9" fill="#333" stroke="none" stroke-width="0.6"/>
<circle cx="369.96" cy="577.72" r="0.9" fill="#333" stroke="none" stroke-width="0.6"/>
<circle cx="382.79" cy="563.44" r="0.9" fill="#333" stroke="none" stroke-width="0.6"/>
<circle cx="395.62" cy="543.40" r="0.9" fill="#333" stroke="none" stroke-width="0.6"/>
<circle cx="408.45" cy="531.41" r="0.9" fill="#333" stroke="none" stroke-width="0.6"/>
<circle cx="421.28" cy="528.04" r="0.9" fill="#333" stroke="none" stroke-width="0.6"/>
<circle cx="434.11" cy="525.75" r="0.9" fill="#333" stroke="none" stroke-width="0.6"/>
<circle cx="446.94" cy="524.04" r="0.9" fill="#333" stroke="none" stroke-width="0.6"/>
<circle cx="459.77" cy="523.01" r="0.9" fill="#333" stroke="none" stroke-width="0.6"/>
<circle cx="344.30" cy="593.70" r="0.9" fill="#333" stroke="none" stroke-width="0.6"/>
<circle cx="357.13" cy="585.14" r="0.9" fill="#333" stroke="none" stroke-width="0.6"/>
<circle cx="369.96" cy="573.72" r="0.9" fill="#333" stroke="none" stroke-width="0.6"/>
<circle cx="382.79" cy="555.45" r="0.9" fill="#333" stroke="none" stroke-width="0.6"/>
<circle cx="395.62" cy="548.71" r="0.9" fill="#333" stroke="none" stroke-width="0.6"/>
<circle cx="408.45" cy="532.61" r="0.9" fill="#333" stroke="none" stroke-width="0.6"/>
<circle cx="421.28" cy="529.18" r="0.9" fill="#333" stroke="none" stroke-width="0.6"/>
<circle cx="434.11" cy="526.90" r="0.9" fill="#333" stroke="none" stroke-width="0.6"/>
<circle cx="446.94" cy="524.61" r="0.9" fill="#333" stroke="none" stroke-width="0.6"/>
<circle cx="459.77" cy="524.04" r="0.9" fill="#333" stroke="none" stroke-width="0.6"/>
<circle cx="344.30" cy="594.85" r="0.9" fill="#333" stroke="none" stroke-width="0.6"/>
<circle cx="357.13" cy="588.56" r="0.9" fill="#333" stroke="none" stroke-width="0.6"/>
<circle cx="369.96" cy="574.86" r="0.9" fill="#333" stroke="none" stroke-width="0.6"/>
<circle cx="382.79" cy="568.01" r="0.9" fill="#333" stroke="none" stroke-width="0.6"/>
<circle cx="395.62" cy="540.60" r="0.9" fill="#333" stroke="none" stroke-width="0.6"/>
<circle cx="408.45" cy="533.75" r="0.9" fill="#333" stroke="none" stroke-width="0.6"/>
<circle cx="421.28" cy="530.32" r="0.9" fill="#333" stroke="none" stroke-width="0.6"/>
<circle cx="434.11" cy="528.04" r="0.9" fill="#333" stroke="none" stroke-width="0.6"/>
<circle cx="446.94" cy="525.75" r="0.9" fill="#333" stroke="none" stroke-width="0.6"/>
<circle cx="459.77" cy="525.18" r="0.9" fill="#333" stroke="none" stroke-width="0.6"/>
<circle cx="344.30" cy="592.56" r="0.9" fill="#333" stroke="none" stroke-width="0.6"/>
<circle cx="357.13" cy="580.57" r="0.9" fill="#333" stroke="none" stroke-width="0.6"/>
<circle cx="369.96" cy="563.44" r="0.9" fill="#333" stroke="none" stroke-width="0.6"/>
<circle cx="382.79" cy="562.30" r="0.9" fill="#333" stroke="none" stroke-width="0.6"/>
<circle cx="395.62" cy="546.31" r="0.9" fill="#333" stroke="none" stroke-width="0.6"/>
<circle cx="408.45" cy="534.89" r="0.9" fill="#333" stroke="none" stroke-width="0.6"/>
<circle cx="421.28" cy="531.46" r="0.9" fill="#333" stroke="none" stroke-width="0.6"/>
<circle cx="434.11" cy="529.18" r="0.9" fill="#333" stroke="none" stroke-width="0.6"/>
<circle cx="446.94" cy="526.90" r="0.9" fill="#333" stroke="none" stroke-width="0.6"/>
<circle cx="459.77" cy="526.33" r="0.9" fill="#333" stroke="none" stroke-width="0.6"/>
<circle cx="344.30" cy="595.99" r="0.9" fill="#333" stroke="none" stroke-width="0.6"/>
<circle cx="357.13" cy="589.13" r="0.9" fill="#333" stroke="none" stroke-width="0.6"/>
<circle cx="369.96" cy="578.86" r="0.9" fill="#333" stroke="none" stroke-width="0.6"/>
<circle cx="382.79" cy="569.15" r="0.9" fill="#333" stroke="none" stroke-width="0.6"/>
<circle cx="395.62" cy="552.02" r="0.9" fill="#333" stroke="none" stroke-width="0.6"/>
<circle cx="408.45" cy="535.75" r="0.9" fill="#333" stroke="none" stroke-width="0.6"/>
<circle cx="421.28" cy="532.61" r="0.9" fill="#333" stroke="none" stroke-width="0.6"/>
<circle cx="434.11" cy="529.75" r="0.9" fill="#333" stroke="none" stroke-width="0.6"/>
<circle cx="446.94" cy="527.47" r="0.9" fill="#333" stroke="none" stroke-width="0.6"/>
<circle cx="459.77" cy="527.58" r="0.9" fill="#333" stroke="none" stroke-width="0.6"/>
<circle cx="344.30" cy="594.56" r="0.9" fill="#333" stroke="none" stroke-width="0.6"/>
<circle cx="357.13" cy="584.57" r="0.9" fill="#333" stroke="none" stroke-width="0.6"/>
<circle cx="369.96" cy="577.14" r="0.9" fill="#333" stroke="none" stroke-width="0.6"/>
<circle cx="382.79" cy="565.72" r="0.9" fill="#333" stroke="none" stroke-width="0.6"/>
<circle cx="395.62" cy="555.50" r="0.9" fill="#333" stroke="none" stroke-width="0.6"/>
<circle cx="408.45" cy="536.60" r="0.9" fill="#333" stroke="none" stroke-width="0.6"/>
<circle cx="421.28" cy="533.63" r="0.9" fill="#333" stroke="none" stroke-width="0.6"/>
<circle cx="434.11" cy="530.89" r="0.9" fill="#333" stroke="none" stroke-width="0.6"/>
<circle cx="446.94" cy="529.18" r="0.9" fill="#333" stroke="none" stroke-width="0.6"/>
<circle cx="459.77" cy="532.89" r="0.9" fill="#333" stroke="none" stroke-width="0.6"/>
<circle cx="344.30" cy="595.13" r="0.9" fill="#333" stroke="none" stroke-width="0.6"/>
<circle cx="357.13" cy="586.85" r="0.9" fill="#333" stroke="none" stroke-width="0.6"/>
<circle cx="369.96" cy="580.00" r="0.9" fill="#333" stroke="none" stroke-width="0.6"/>
<circle cx="382.79" cy="570.29" r="0.9" fill="#333" stroke="none" stroke-width="0.6"/>
<circle cx="395.62" cy="557.73" r="0.9" fill="#333" stroke="none" stroke-width="0.6"/>
<circle cx="408.45" cy="535.46" r="0.9" fill="#333" stroke="none" stroke-width="0.6"/>
<circle cx="421.28" cy="532.04" r="0.9" fill="#333" stroke="none" stroke-width="0.6"/>
<circle cx="434.11" cy="529.47" r="0.9" fill="#333" stroke="none" stroke-width="0.6"/>
<circle cx="446.94" cy="528.04" r="0.9" fill="#333" stroke="none" stroke-width="0.6"/>
<circle cx="459.77" cy="524.61" r="0.9" fill="#333" stroke="none" stroke-width="0.6"/>
<circle cx="344.30" cy="593.99" r="0.9" fill="#333" stroke="none" stroke-width="0.6"/>
<circle cx="357.13" cy="587.99" r="0.9" fill="#333" stroke="none" stroke-width="0.6"/>
<circle cx="369.96" cy="576.00" r="0.9" fill="#333" stroke="none" stroke-width="0.6"/>
<circle cx="382.79" cy="557.73" r="0.9" fill="#333" stroke="none" stroke-width="0.6"/>
<circle cx="395.62" cy="552.02" r="0.9" fill="#333" stroke="none" stroke-width="0.6"/>
<circle cx="408.45" cy="550.19" r="0.9" fill="#333" stroke="none" stroke-width="0.6"/>
<circle cx="421.28" cy="549.39" r="0.9" fill="#333" stroke="none" stroke-width="0.6"/>
<circle cx="434.11" cy="546.31" r="0.9" fill="#333" stroke="none" stroke-width="0.6"/>
<circle cx="446.94" cy="543.46" r="0.9" fill="#333" stroke="none" stroke-width="0.6"/>
<circle cx="459.77" cy="541.63" r="0.9" fill="#333" stroke="none" stroke-width="0.6"/>
<circle cx="344.30" cy="595.70" r="0.9" fill="#333" stroke="none" stroke-width="0.6"/>
<circle cx="357.13" cy="589.71" r="0.9" fill="#333" stroke="none" stroke-width="0.6"/>
<circle cx="369.96" cy="580.57" r="0.9" fill="#333" stroke="none" stroke-width="0.6"/>
<circle cx="382.79" cy="572.00" r="0.9" fill="#333" stroke="none" stroke-width="0.6"/>
<circle cx="395.62" cy="562.18" r="0.9" fill="#333" stroke="none" stroke-width="0.6"/>
<circle cx="408.45" cy="555.10" r="0.9" fill="#333" stroke="none" stroke-width="0.6"/>
<circle cx="421.28" cy="553.22" r="0.9" fill="#333" stroke="none" stroke-width="0.6"/>
<circle cx="434.11" cy="552.02" r="0.9" fill="#333" stroke="none" stroke-width="0.6"/>
<circle cx="446.94" cy="550.88" r="0.9" fill="#333" stroke="none" stroke-width="0.6"/>
<circle cx="459.77" cy="549.74" r="0.9" fill="#333" stroke="none" stroke-width="0.6"/>
<circle cx="344.30" cy="593.42" r="0.9" fill="#333" stroke="none" stroke-width="0.6"/>
<circle cx="357.13" cy="582.85" r="0.9" fill="#333" stroke="none" stroke-width="0.6"/>
<circle cx="369.96" cy="570.86" r="0.9" fill="#333" stroke="none" stroke-width="0.6"/>
<circle cx="382.79" cy="573.15" r="0.9" fill="#333" stroke="none" stroke-width="0.6"/>
<circle cx="395.62" cy="563.44" r="0.9" fill="#333" stroke="none" stroke-width="0.6"/>
<circle cx="408.45" cy="556.99" r="0.9" fill="#333" stroke="none" stroke-width="0.6"/>
<circle cx="421.28" cy="555.45" r="0.9" fill="#333" stroke="none" stroke-width="0.6"/>
<circle cx="434.11" cy="554.30" r="0.9" fill="#333" stroke="none" stroke-width="0.6"/>
<circle cx="446.94" cy="553.16" r="0.9" fill="#333" stroke="none" stroke-width="0.6"/>
<circle cx="459.77" cy="552.02" r="0.9" fill="#333" stroke="none" stroke-width="0.6"/>
<line x1="395.50" y1="511.50" x2="459.80" y2="511.50" stroke="#222" stroke-width="1.0" />
<text x="427.70" y="508.20" font-size="9.4" fill="#231f20" stroke="#231f20" stroke-width="0.08" text-anchor="middle" textLength="33" lengthAdjust="spacingAndGlyphs" >p&lt;0.0001</text>
<text x="338.60" y="586.40" font-size="10.2" fill="#231f20" stroke="#231f20" stroke-width="0.08" textLength="9.8" lengthAdjust="spacingAndGlyphs" >ns</text>
<text x="351.20" y="575.60" font-size="10.2" fill="#231f20" stroke="#231f20" stroke-width="0.08" textLength="9.8" lengthAdjust="spacingAndGlyphs" >ns</text>
<text x="363.40" y="559.30" font-size="10.2" fill="#231f20" stroke="#231f20" stroke-width="0.08" textLength="9.8" lengthAdjust="spacingAndGlyphs" >ns</text>
<text x="362.70" y="548.00" font-size="10" fill="#231f20" stroke="#231f20" stroke-width="0.08" textLength="22.5" lengthAdjust="spacingAndGlyphs" >p=0.01</text>
<line x1="342.40" y1="485.90" x2="351.80" y2="485.90" stroke="#1f3ff5" stroke-width="0.9" />
<circle cx="347.10" cy="485.90" r="0.95" fill="#222" stroke="none" stroke-width="0.6"/>
<line x1="342.40" y1="494.50" x2="351.80" y2="494.50" stroke="#f5301c" stroke-width="0.9" />
<circle cx="347.10" cy="494.50" r="0.95" fill="#222" stroke="none" stroke-width="0.6"/>
<text x="357.60" y="488.20" font-size="10.4" fill="#1f3ff5" stroke="#1f3ff5" stroke-width="0.08" textLength="60.7" lengthAdjust="spacingAndGlyphs" >DMSO control</text>
<text x="357.60" y="498.50" font-size="10.4" fill="#f5301c" stroke="#f5301c" stroke-width="0.08" textLength="49" lengthAdjust="spacingAndGlyphs" >CCT068127</text>
<text x="481.30" y="484.50" font-size="12.8" fill="#000" font-weight="bold" stroke="#000" stroke-width="0.4">g</text>
<line x1="545.00" y1="508.00" x2="545.00" y2="597.90" stroke="#666" stroke-width="1.1" />
<line x1="545.00" y1="597.90" x2="595.20" y2="597.90" stroke="#666" stroke-width="1.1" />
<line x1="541.50" y1="597.90" x2="545.00" y2="597.90" stroke="#666" stroke-width="1.0" />
<line x1="541.50" y1="576.48" x2="545.00" y2="576.48" stroke="#666" stroke-width="1.0" />
<line x1="541.50" y1="555.05" x2="545.00" y2="555.05" stroke="#666" stroke-width="1.0" />
<line x1="541.50" y1="533.62" x2="545.00" y2="533.62" stroke="#666" stroke-width="1.0" />
<line x1="541.50" y1="512.20" x2="545.00" y2="512.20" stroke="#666" stroke-width="1.0" />
<text x="540.30" y="601.20" font-size="9.6" fill="#231f20" stroke="#231f20" stroke-width="0.08" text-anchor="end" >0</text>
<text x="540.30" y="558.35" font-size="9.6" fill="#231f20" stroke="#231f20" stroke-width="0.08" text-anchor="end" >1000</text>
<text x="540.30" y="515.50" font-size="9.6" fill="#231f20" stroke="#231f20" stroke-width="0.08" text-anchor="end" >2000</text>
<line x1="560.10" y1="597.90" x2="560.10" y2="601.30" stroke="#666" stroke-width="1.0" />
<line x1="581.50" y1="597.90" x2="581.50" y2="601.30" stroke="#666" stroke-width="1.0" />
<rect x="552.90" y="540.10" width="14.40" height="57.80" fill="#1636f5" stroke="#222" stroke-width="0.7"/>
<rect x="574.20" y="569.30" width="14.60" height="28.60" fill="#f52a0a" stroke="#222" stroke-width="0.7"/>
<line x1="560.10" y1="526.50" x2="560.10" y2="552.90" stroke="#222" stroke-width="0.8" />
<line x1="556.10" y1="526.50" x2="564.10" y2="526.50" stroke="#222" stroke-width="0.8" />
<line x1="556.10" y1="552.90" x2="564.10" y2="552.90" stroke="#222" stroke-width="0.8" />
<line x1="581.50" y1="558.90" x2="581.50" y2="581.10" stroke="#222" stroke-width="0.8" />
<line x1="577.50" y1="558.90" x2="585.50" y2="558.90" stroke="#222" stroke-width="0.8" />
<line x1="577.50" y1="581.10" x2="585.50" y2="581.10" stroke="#222" stroke-width="0.8" />
<circle cx="556.90" cy="513.70" r="2.2" fill="#1e8ef0" stroke="#1a2f6a" stroke-width="0.6"/>
<circle cx="559.60" cy="517.30" r="2.2" fill="#1e8ef0" stroke="#1a2f6a" stroke-width="0.6"/>
<circle cx="560.00" cy="533.20" r="2.2" fill="#1e8ef0" stroke="#1a2f6a" stroke-width="0.6"/>
<circle cx="554.70" cy="539.60" r="2.2" fill="#1e8ef0" stroke="#1a2f6a" stroke-width="0.6"/>
<circle cx="557.80" cy="542.00" r="2.2" fill="#1e8ef0" stroke="#1a2f6a" stroke-width="0.6"/>
<circle cx="562.30" cy="542.00" r="2.2" fill="#1e8ef0" stroke="#1a2f6a" stroke-width="0.6"/>
<circle cx="555.00" cy="544.70" r="2.2" fill="#1e8ef0" stroke="#1a2f6a" stroke-width="0.6"/>
<circle cx="558.30" cy="545.60" r="2.2" fill="#1e8ef0" stroke="#1a2f6a" stroke-width="0.6"/>
<circle cx="561.40" cy="546.50" r="2.2" fill="#1e8ef0" stroke="#1a2f6a" stroke-width="0.6"/>
<circle cx="564.20" cy="544.70" r="2.2" fill="#1e8ef0" stroke="#1a2f6a" stroke-width="0.6"/>
<circle cx="559.60" cy="548.30" r="2.2" fill="#1e8ef0" stroke="#1a2f6a" stroke-width="0.6"/>
<circle cx="560.20" cy="562.90" r="2.2" fill="#1e8ef0" stroke="#1a2f6a" stroke-width="0.6"/>
<circle cx="582.00" cy="553.40" r="2.2" fill="#f08282" stroke="#5a2a2a" stroke-width="0.6"/>
<circle cx="576.60" cy="558.90" r="2.2" fill="#f08282" stroke="#5a2a2a" stroke-width="0.6"/>
<circle cx="582.00" cy="562.50" r="2.2" fill="#f08282" stroke="#5a2a2a" stroke-width="0.6"/>
<circle cx="587.00" cy="561.10" r="2.2" fill="#f08282" stroke="#5a2a2a" stroke-width="0.6"/>
<circle cx="576.60" cy="565.30" r="2.2" fill="#f08282" stroke="#5a2a2a" stroke-width="0.6"/>
<circle cx="582.00" cy="568.00" r="2.2" fill="#f08282" stroke="#5a2a2a" stroke-width="0.6"/>
<circle cx="587.00" cy="566.60" r="2.2" fill="#f08282" stroke="#5a2a2a" stroke-width="0.6"/>
<circle cx="576.60" cy="573.90" r="2.2" fill="#f08282" stroke="#5a2a2a" stroke-width="0.6"/>
<circle cx="582.00" cy="573.90" r="2.2" fill="#f08282" stroke="#5a2a2a" stroke-width="0.6"/>
<circle cx="587.00" cy="579.30" r="2.2" fill="#f08282" stroke="#5a2a2a" stroke-width="0.6"/>
<circle cx="576.60" cy="579.30" r="2.2" fill="#f08282" stroke="#5a2a2a" stroke-width="0.6"/>
<circle cx="582.00" cy="584.80" r="2.2" fill="#f08282" stroke="#5a2a2a" stroke-width="0.6"/>
<path d="M559.6,509.1 L559.6,504.2 L582,504.2 L582,546.5" fill="none" stroke="#333" stroke-width="0.8" />
<text x="568.70" y="502.80" font-size="8.8" fill="#231f20" stroke="#231f20" stroke-width="0.08" text-anchor="middle" textLength="31" lengthAdjust="spacingAndGlyphs" >p&lt;0.0001</text>
<text x="510.00" y="556.40" font-size="9.6" fill="#231f20" stroke="#231f20" stroke-width="0.08" text-anchor="middle" transform="rotate(-90 510.00 556.40)" textLength="74.3" lengthAdjust="spacingAndGlyphs" >Tumor mass (mg)</text>
<circle cx="542.90" cy="616.20" r="2.2" fill="#1e8ef0" stroke="#1a2f6a" stroke-width="0.6"/>
<circle cx="542.90" cy="628.20" r="2.2" fill="#f08282" stroke="#5a2a2a" stroke-width="0.6"/>
<text x="553.30" y="618.80" font-size="10.4" fill="#1f3ff5" stroke="#1f3ff5" stroke-width="0.08" textLength="60.5" lengthAdjust="spacingAndGlyphs" >DMSO control</text>
<text x="553.30" y="630.50" font-size="10.4" fill="#f5301c" stroke="#f5301c" stroke-width="0.08" textLength="49" lengthAdjust="spacingAndGlyphs" >CCT068127</text>
</svg></body></html>
